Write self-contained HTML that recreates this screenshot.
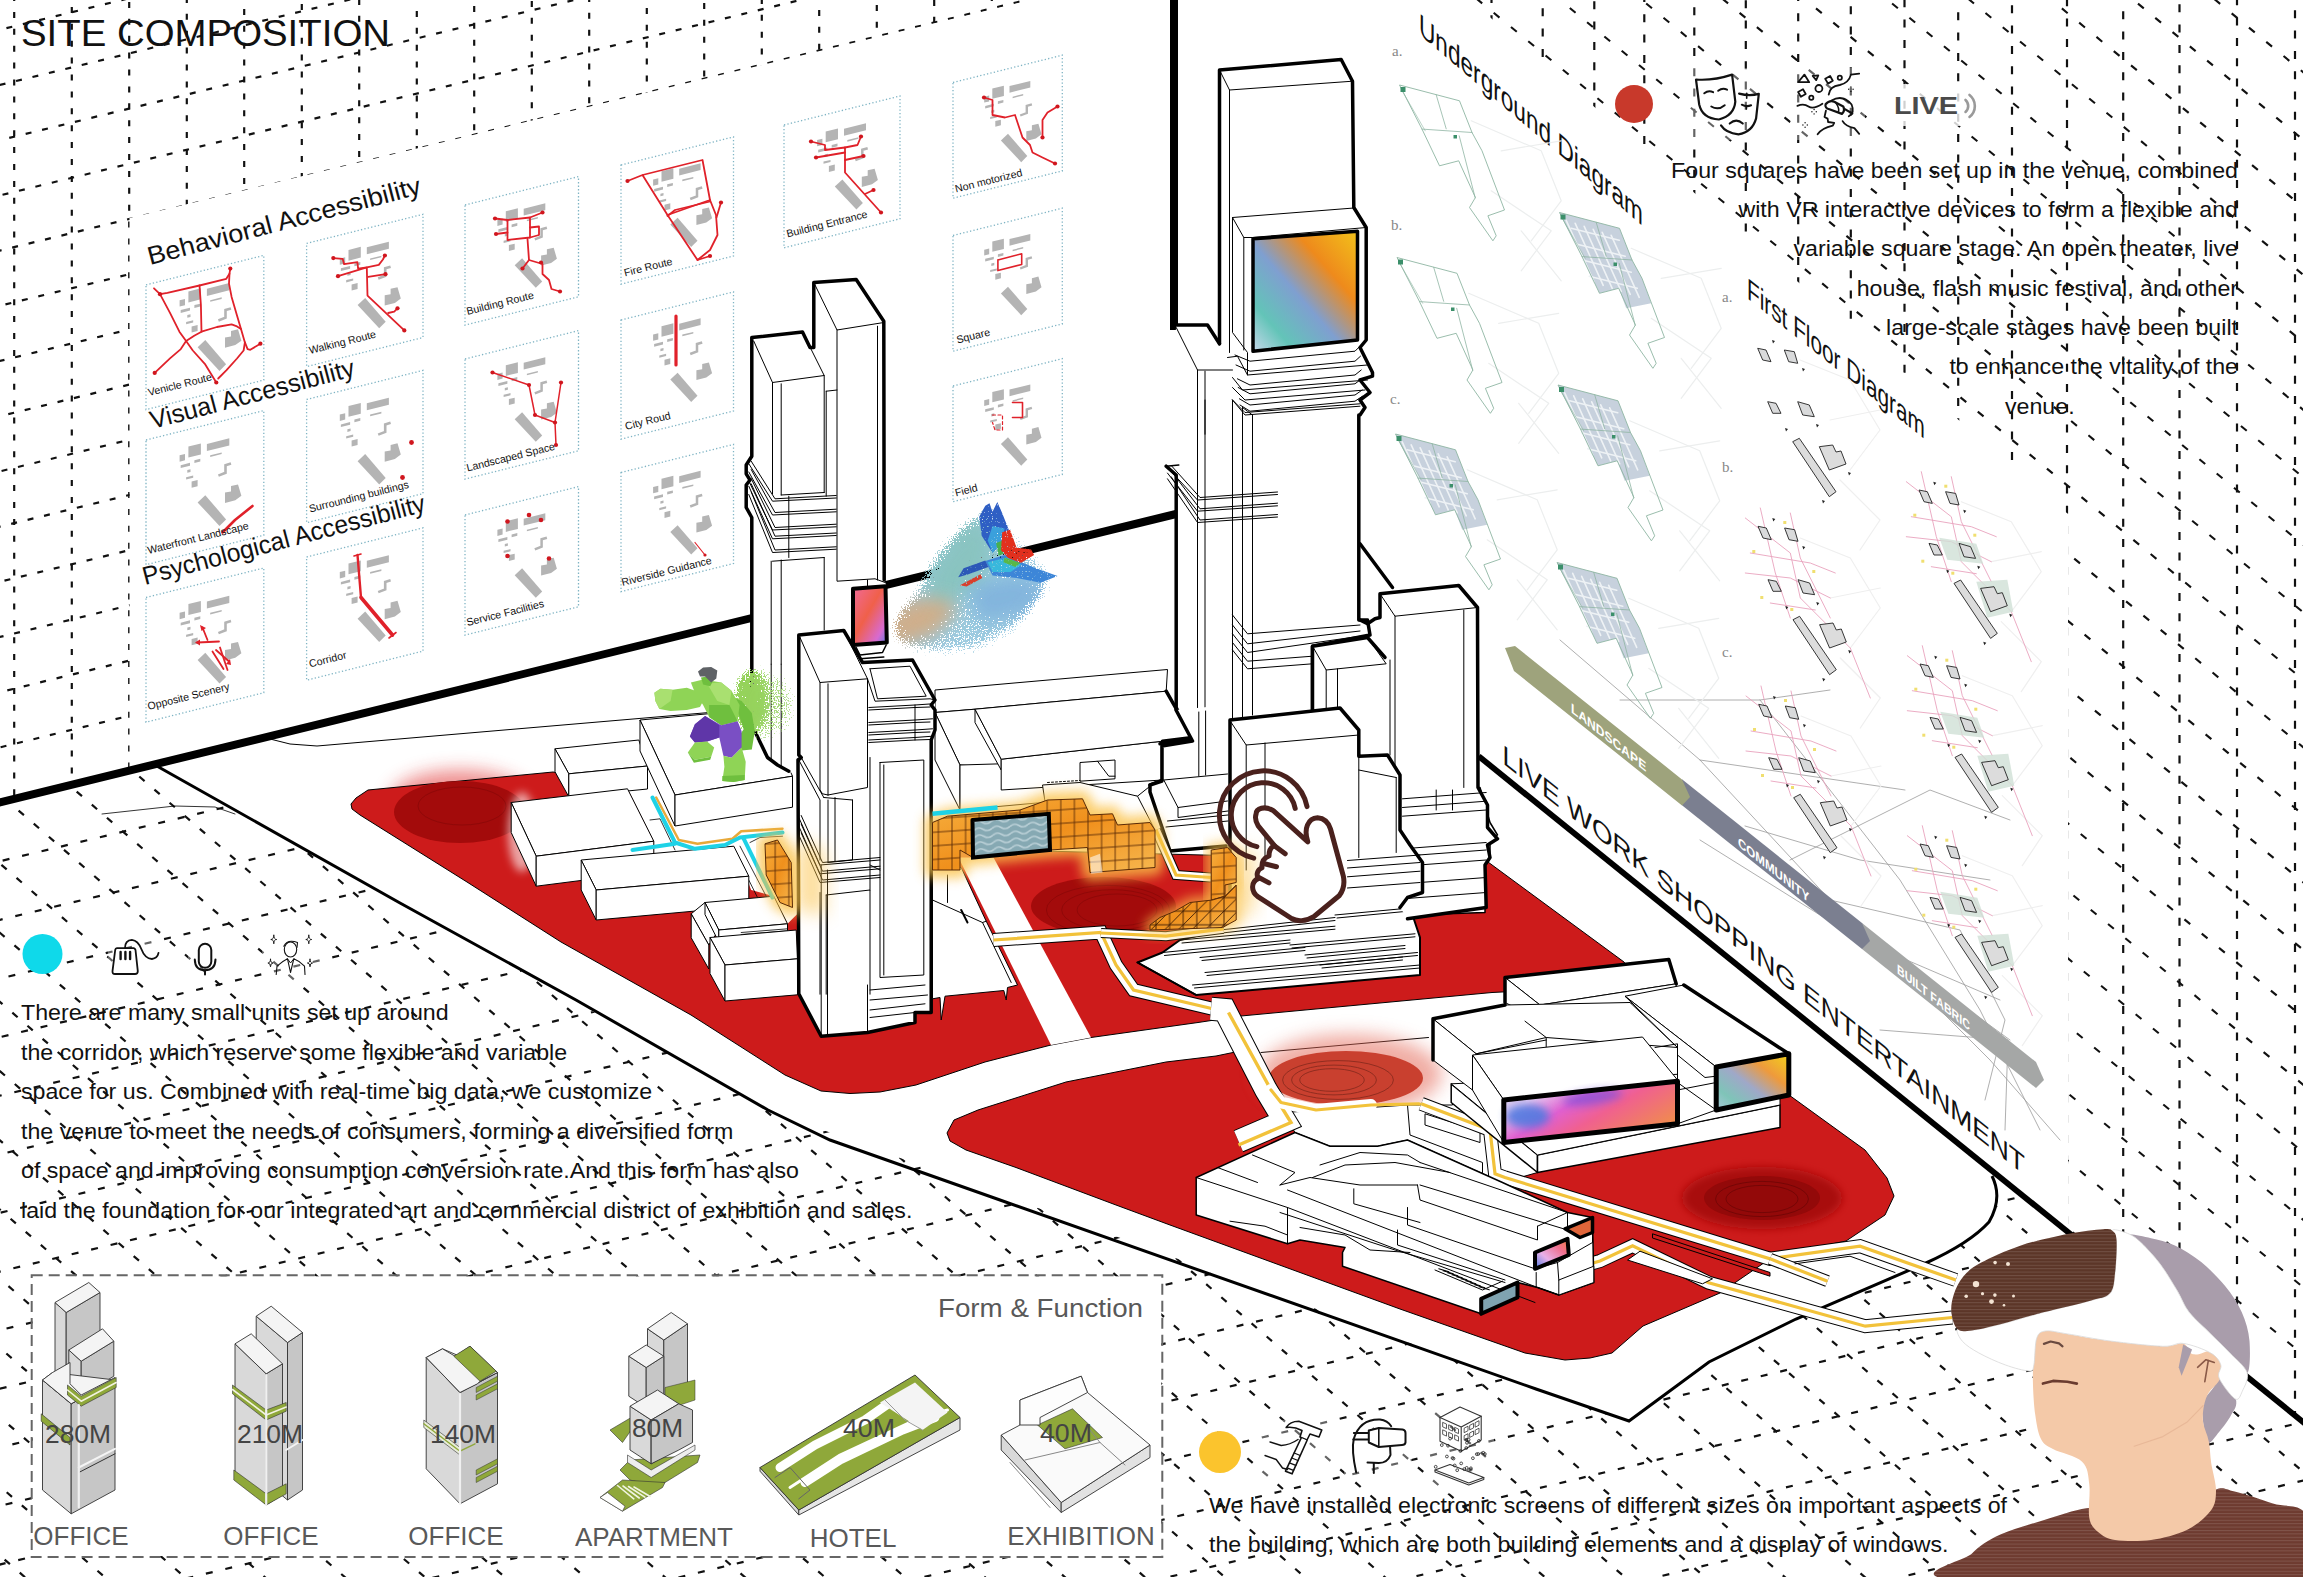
<!DOCTYPE html>
<html><head><meta charset="utf-8"><title>Site Composition</title>
<style>
html,body{margin:0;padding:0;background:#fff;}
body{width:2303px;height:1577px;overflow:hidden;}
svg{display:block;}
text{font-family:"Liberation Sans",sans-serif;}
</style></head><body>
<svg xmlns="http://www.w3.org/2000/svg" width="2303" height="1577" viewBox="0 0 2303 1577">
<rect width="2303" height="1577" fill="#fff"/>

<!-- 00_defs.svg -->
<defs>
<linearGradient id="gPink" x1="0" y1="0" x2="1" y2="1">
<stop offset="0" stop-color="#f06a9a"/><stop offset="0.45" stop-color="#f0604a"/><stop offset="0.8" stop-color="#d86ad0"/><stop offset="1" stop-color="#5b7be0"/></linearGradient>
<linearGradient id="gScrA" x1="1" y1="0" x2="0" y2="1">
<stop offset="0" stop-color="#f2c21a"/><stop offset="0.3" stop-color="#ee8a1c"/><stop offset="0.55" stop-color="#7f9fd0"/><stop offset="0.8" stop-color="#63c4b8"/><stop offset="1" stop-color="#c6d8ea"/></linearGradient>
<linearGradient id="gPink2" x1="0" y1="1" x2="1" y2="0">
<stop offset="0" stop-color="#4a78e0"/><stop offset="0.35" stop-color="#e8b0e8"/><stop offset="0.7" stop-color="#f07090"/><stop offset="1" stop-color="#f08040"/></linearGradient>
<linearGradient id="gScrB" x1="1" y1="0" x2="0" y2="1">
<stop offset="0" stop-color="#f2d21a"/><stop offset="0.3" stop-color="#ee9a3c"/><stop offset="0.55" stop-color="#9fa8c8"/><stop offset="0.8" stop-color="#7fc4b8"/><stop offset="1" stop-color="#a8c8d8"/></linearGradient>
<linearGradient id="gScrC" x1="0" y1="0" x2="1" y2="0.6">
<stop offset="0" stop-color="#c8d8f4"/><stop offset="0.25" stop-color="#e8c8f0"/><stop offset="0.45" stop-color="#e060d0"/><stop offset="0.65" stop-color="#f06090"/><stop offset="1" stop-color="#f08a50"/></linearGradient>
</defs>
<!-- 01_grid.svg -->
<defs>
<clipPath id="cLW"><polygon points="0,0 1030,0 129.5,218 129.5,772 0,804"/></clipPath>
<clipPath id="cRW"><polygon points="1470,0 2303,0 2303,1420 2068,1231 2068,514"/></clipPath>
<clipPath id="cFL"><polygon points="0,804 155,766 400,903 768,1110 1536,1389 1629,1421 1709,1362 1796,1319 1926,1263 1970,1241 1989,1222 1998,1196 1992,1176 2303,1424 2303,1577 0,1577"/></clipPath>
</defs>
<g clip-path="url(#cLW)" stroke="#111" stroke-width="2.2" stroke-dasharray="6 10.9" stroke-linecap="butt" fill="none">
<line x1="14.2" y1="-5" x2="14.2" y2="820" stroke-dashoffset="0"/>
<line x1="71.8" y1="-5" x2="71.8" y2="820" stroke-dashoffset="5"/>
<line x1="129.2" y1="-5" x2="129.2" y2="820" stroke-dashoffset="10"/>
<line x1="186.8" y1="-5" x2="186.8" y2="820" stroke-dashoffset="15"/>
<line x1="244.2" y1="-5" x2="244.2" y2="820" stroke-dashoffset="3"/>
<line x1="301.8" y1="-5" x2="301.8" y2="820" stroke-dashoffset="8"/>
<line x1="359.2" y1="-5" x2="359.2" y2="820" stroke-dashoffset="13"/>
<line x1="416.8" y1="-5" x2="416.8" y2="820" stroke-dashoffset="1"/>
<line x1="474.2" y1="-5" x2="474.2" y2="820" stroke-dashoffset="6"/>
<line x1="531.8" y1="-5" x2="531.8" y2="820" stroke-dashoffset="11"/>
<line x1="589.2" y1="-5" x2="589.2" y2="820" stroke-dashoffset="16"/>
<line x1="646.8" y1="-5" x2="646.8" y2="820" stroke-dashoffset="4"/>
<line x1="704.2" y1="-5" x2="704.2" y2="820" stroke-dashoffset="9"/>
<line x1="761.8" y1="-5" x2="761.8" y2="820" stroke-dashoffset="14"/>
<line x1="819.2" y1="-5" x2="819.2" y2="820" stroke-dashoffset="2"/>
<line x1="876.8" y1="-5" x2="876.8" y2="820" stroke-dashoffset="7"/>
<line x1="934.2" y1="-5" x2="934.2" y2="820" stroke-dashoffset="12"/>
<line x1="991.8" y1="-5" x2="991.8" y2="820" stroke-dashoffset="0"/>
<line x1="1049.2" y1="-5" x2="1049.2" y2="820" stroke-dashoffset="5"/>
<line x1="1106.8" y1="-5" x2="1106.8" y2="820" stroke-dashoffset="10"/>
<line x1="-10" y1="32.2" x2="1100" y2="-238.8" stroke-dashoffset="0"/>
<line x1="-10" y1="87.4" x2="1100" y2="-183.6" stroke-dashoffset="7"/>
<line x1="-10" y1="142.6" x2="1100" y2="-128.4" stroke-dashoffset="14"/>
<line x1="-10" y1="197.8" x2="1100" y2="-73.2" stroke-dashoffset="4"/>
<line x1="-10" y1="253.0" x2="1100" y2="-18.0" stroke-dashoffset="11"/>
<line x1="-10" y1="308.2" x2="1100" y2="37.2" stroke-dashoffset="1"/>
<line x1="-10" y1="363.4" x2="1100" y2="92.4" stroke-dashoffset="8"/>
<line x1="-10" y1="418.6" x2="1100" y2="147.6" stroke-dashoffset="15"/>
<line x1="-10" y1="473.8" x2="1100" y2="202.8" stroke-dashoffset="5"/>
<line x1="-10" y1="529.0" x2="1100" y2="258.0" stroke-dashoffset="12"/>
<line x1="-10" y1="584.2" x2="1100" y2="313.2" stroke-dashoffset="2"/>
<line x1="-10" y1="639.4" x2="1100" y2="368.4" stroke-dashoffset="9"/>
<line x1="-10" y1="694.6" x2="1100" y2="423.6" stroke-dashoffset="16"/>
<line x1="-10" y1="749.8" x2="1100" y2="478.8" stroke-dashoffset="6"/>
<line x1="-10" y1="805.0" x2="1100" y2="534.0" stroke-dashoffset="13"/>
<line x1="-10" y1="860.2" x2="1100" y2="589.2" stroke-dashoffset="3"/>
</g>
<g clip-path="url(#cRW)" fill="none">
<line x1="1491.5" y1="-5" x2="1491.5" y2="1500" stroke-dashoffset="0" stroke="#111" stroke-width="2.2" stroke-dasharray="8 12.3" stroke-linecap="butt" fill="none"/>
<line x1="1542.7" y1="-5" x2="1542.7" y2="1500" stroke-dashoffset="7" stroke="#111" stroke-width="2.2" stroke-dasharray="8 12.3" stroke-linecap="butt" fill="none"/>
<line x1="1594.3" y1="-5" x2="1594.3" y2="1500" stroke-dashoffset="14" stroke="#111" stroke-width="2.2" stroke-dasharray="8 12.3" stroke-linecap="butt" fill="none"/>
<line x1="1644.3" y1="-5" x2="1644.3" y2="1500" stroke-dashoffset="1" stroke="#111" stroke-width="2.2" stroke-dasharray="8 12.3" stroke-linecap="butt" fill="none"/>
<line x1="1694.3" y1="-5" x2="1694.3" y2="1500" stroke-dashoffset="8" stroke="#111" stroke-width="2.2" stroke-dasharray="8 12.3" stroke-linecap="butt" fill="none"/>
<line x1="1745.8" y1="-5" x2="1745.8" y2="1500" stroke-dashoffset="15" stroke="#111" stroke-width="2.2" stroke-dasharray="8 12.3" stroke-linecap="butt" fill="none"/>
<line x1="1798.2" y1="-5" x2="1798.2" y2="1500" stroke-dashoffset="2" stroke="#111" stroke-width="2.2" stroke-dasharray="8 12.3" stroke-linecap="butt" fill="none"/>
<line x1="1850.8" y1="-5" x2="1850.8" y2="1500" stroke-dashoffset="9" stroke="#111" stroke-width="2.2" stroke-dasharray="8 12.3" stroke-linecap="butt" fill="none"/>
<line x1="1904.5" y1="-5" x2="1904.5" y2="1500" stroke-dashoffset="16" stroke="#111" stroke-width="2.2" stroke-dasharray="8 12.3" stroke-linecap="butt" fill="none"/>
<line x1="1958.2" y1="-5" x2="1958.2" y2="1500" stroke-dashoffset="3" stroke="#111" stroke-width="2.2" stroke-dasharray="8 12.3" stroke-linecap="butt" fill="none"/>
<line x1="2012.0" y1="-5" x2="2012.0" y2="1500" stroke-dashoffset="10" stroke="#111" stroke-width="2.2" stroke-dasharray="8 12.3" stroke-linecap="butt" fill="none"/>
<line x1="2067.0" y1="-5" x2="2067.0" y2="1500" stroke-dashoffset="17" stroke="#111" stroke-width="2.2" stroke-dasharray="8 12.3" stroke-linecap="butt" fill="none"/>
<line x1="2123.2" y1="-5" x2="2123.2" y2="1500" stroke-dashoffset="4" stroke="#111" stroke-width="2.2" stroke-dasharray="8 12.3" stroke-linecap="butt" fill="none"/>
<line x1="2179.5" y1="-5" x2="2179.5" y2="1500" stroke-dashoffset="11" stroke="#111" stroke-width="2.2" stroke-dasharray="8 12.3" stroke-linecap="butt" fill="none"/>
<line x1="2237.0" y1="-5" x2="2237.0" y2="1500" stroke-dashoffset="18" stroke="#111" stroke-width="2.2" stroke-dasharray="8 12.3" stroke-linecap="butt" fill="none"/>
<line x1="2295.0" y1="-5" x2="2295.0" y2="1500" stroke-dashoffset="5" stroke="#111" stroke-width="2.2" stroke-dasharray="8 12.3" stroke-linecap="butt" fill="none"/>
<line x1="1400" y1="-2021.9" x2="2320" y2="-1263.9" stroke-dashoffset="16" stroke="#111" stroke-width="2.1" stroke-dasharray="7.5 14.9" stroke-linecap="butt" fill="none"/>
<line x1="1400" y1="-1954.4" x2="2320" y2="-1196.4" stroke-dashoffset="3" stroke="#111" stroke-width="2.1" stroke-dasharray="7.5 14.9" stroke-linecap="butt" fill="none"/>
<line x1="1400" y1="-1886.9" x2="2320" y2="-1128.9" stroke-dashoffset="12" stroke="#111" stroke-width="2.1" stroke-dasharray="7.5 14.9" stroke-linecap="butt" fill="none"/>
<line x1="1400" y1="-1819.4" x2="2320" y2="-1061.4" stroke-dashoffset="21" stroke="#111" stroke-width="2.1" stroke-dasharray="7.5 14.9" stroke-linecap="butt" fill="none"/>
<line x1="1400" y1="-1751.9" x2="2320" y2="-993.9" stroke-dashoffset="8" stroke="#111" stroke-width="2.1" stroke-dasharray="7.5 14.9" stroke-linecap="butt" fill="none"/>
<line x1="1400" y1="-1684.4" x2="2320" y2="-926.4" stroke-dashoffset="17" stroke="#111" stroke-width="2.1" stroke-dasharray="7.5 14.9" stroke-linecap="butt" fill="none"/>
<line x1="1400" y1="-1616.9" x2="2320" y2="-858.9" stroke-dashoffset="4" stroke="#111" stroke-width="2.1" stroke-dasharray="7.5 14.9" stroke-linecap="butt" fill="none"/>
<line x1="1400" y1="-1549.4" x2="2320" y2="-791.4" stroke-dashoffset="13" stroke="#111" stroke-width="2.1" stroke-dasharray="7.5 14.9" stroke-linecap="butt" fill="none"/>
<line x1="1400" y1="-1481.9" x2="2320" y2="-723.9" stroke-dashoffset="0" stroke="#111" stroke-width="2.1" stroke-dasharray="7.5 14.9" stroke-linecap="butt" fill="none"/>
<line x1="1400" y1="-1414.4" x2="2320" y2="-656.4" stroke-dashoffset="9" stroke="#111" stroke-width="2.1" stroke-dasharray="7.5 14.9" stroke-linecap="butt" fill="none"/>
<line x1="1400" y1="-1346.9" x2="2320" y2="-588.9" stroke-dashoffset="18" stroke="#111" stroke-width="2.1" stroke-dasharray="7.5 14.9" stroke-linecap="butt" fill="none"/>
<line x1="1400" y1="-1279.4" x2="2320" y2="-521.4" stroke-dashoffset="5" stroke="#111" stroke-width="2.1" stroke-dasharray="7.5 14.9" stroke-linecap="butt" fill="none"/>
<line x1="1400" y1="-1211.9" x2="2320" y2="-453.9" stroke-dashoffset="14" stroke="#111" stroke-width="2.1" stroke-dasharray="7.5 14.9" stroke-linecap="butt" fill="none"/>
<line x1="1400" y1="-1144.4" x2="2320" y2="-386.4" stroke-dashoffset="1" stroke="#111" stroke-width="2.1" stroke-dasharray="7.5 14.9" stroke-linecap="butt" fill="none"/>
<line x1="1400" y1="-1076.9" x2="2320" y2="-318.9" stroke-dashoffset="10" stroke="#111" stroke-width="2.1" stroke-dasharray="7.5 14.9" stroke-linecap="butt" fill="none"/>
<line x1="1400" y1="-1009.4" x2="2320" y2="-251.4" stroke-dashoffset="19" stroke="#111" stroke-width="2.1" stroke-dasharray="7.5 14.9" stroke-linecap="butt" fill="none"/>
<line x1="1400" y1="-941.9" x2="2320" y2="-183.9" stroke-dashoffset="6" stroke="#111" stroke-width="2.1" stroke-dasharray="7.5 14.9" stroke-linecap="butt" fill="none"/>
<line x1="1400" y1="-874.4" x2="2320" y2="-116.4" stroke-dashoffset="15" stroke="#111" stroke-width="2.1" stroke-dasharray="7.5 14.9" stroke-linecap="butt" fill="none"/>
<line x1="1400" y1="-806.9" x2="2320" y2="-48.9" stroke-dashoffset="2" stroke="#111" stroke-width="2.1" stroke-dasharray="7.5 14.9" stroke-linecap="butt" fill="none"/>
<line x1="1400" y1="-739.4" x2="2320" y2="18.6" stroke-dashoffset="11" stroke="#111" stroke-width="2.1" stroke-dasharray="7.5 14.9" stroke-linecap="butt" fill="none"/>
<line x1="1400" y1="-671.9" x2="2320" y2="86.1" stroke-dashoffset="20" stroke="#111" stroke-width="2.1" stroke-dasharray="7.5 14.9" stroke-linecap="butt" fill="none"/>
<line x1="1400" y1="-604.4" x2="2320" y2="153.6" stroke-dashoffset="7" stroke="#111" stroke-width="2.1" stroke-dasharray="7.5 14.9" stroke-linecap="butt" fill="none"/>
<line x1="1400" y1="-536.9" x2="2320" y2="221.1" stroke-dashoffset="16" stroke="#111" stroke-width="2.1" stroke-dasharray="7.5 14.9" stroke-linecap="butt" fill="none"/>
<line x1="1400" y1="-469.4" x2="2320" y2="288.6" stroke-dashoffset="3" stroke="#111" stroke-width="2.1" stroke-dasharray="7.5 14.9" stroke-linecap="butt" fill="none"/>
<line x1="1400" y1="-401.9" x2="2320" y2="356.1" stroke-dashoffset="12" stroke="#111" stroke-width="2.1" stroke-dasharray="7.5 14.9" stroke-linecap="butt" fill="none"/>
<line x1="1400" y1="-334.4" x2="2320" y2="423.6" stroke-dashoffset="21" stroke="#111" stroke-width="2.1" stroke-dasharray="7.5 14.9" stroke-linecap="butt" fill="none"/>
<line x1="1400" y1="-266.9" x2="2320" y2="491.1" stroke-dashoffset="8" stroke="#111" stroke-width="2.1" stroke-dasharray="7.5 14.9" stroke-linecap="butt" fill="none"/>
<line x1="1400" y1="-199.4" x2="2320" y2="558.6" stroke-dashoffset="17" stroke="#111" stroke-width="2.1" stroke-dasharray="7.5 14.9" stroke-linecap="butt" fill="none"/>
<line x1="1400" y1="-131.9" x2="2320" y2="626.1" stroke-dashoffset="4" stroke="#111" stroke-width="2.1" stroke-dasharray="7.5 14.9" stroke-linecap="butt" fill="none"/>
<line x1="1400" y1="-64.4" x2="2320" y2="693.6" stroke-dashoffset="13" stroke="#111" stroke-width="2.1" stroke-dasharray="7.5 14.9" stroke-linecap="butt" fill="none"/>
<line x1="1400" y1="3.1" x2="2320" y2="761.1" stroke-dashoffset="0" stroke="#111" stroke-width="2.1" stroke-dasharray="7.5 14.9" stroke-linecap="butt" fill="none"/>
<line x1="1400" y1="70.6" x2="2320" y2="828.6" stroke-dashoffset="9" stroke="#111" stroke-width="2.1" stroke-dasharray="7.5 14.9" stroke-linecap="butt" fill="none"/>
<line x1="1400" y1="138.1" x2="2320" y2="896.1" stroke-dashoffset="18" stroke="#111" stroke-width="2.1" stroke-dasharray="7.5 14.9" stroke-linecap="butt" fill="none"/>
<line x1="1400" y1="205.6" x2="2320" y2="963.6" stroke-dashoffset="5" stroke="#111" stroke-width="2.1" stroke-dasharray="7.5 14.9" stroke-linecap="butt" fill="none"/>
<line x1="1400" y1="273.1" x2="2320" y2="1031.1" stroke-dashoffset="14" stroke="#111" stroke-width="2.1" stroke-dasharray="7.5 14.9" stroke-linecap="butt" fill="none"/>
<line x1="1400" y1="340.6" x2="2320" y2="1098.6" stroke-dashoffset="1" stroke="#111" stroke-width="2.1" stroke-dasharray="7.5 14.9" stroke-linecap="butt" fill="none"/>
<line x1="1400" y1="408.1" x2="2320" y2="1166.1" stroke-dashoffset="10" stroke="#111" stroke-width="2.1" stroke-dasharray="7.5 14.9" stroke-linecap="butt" fill="none"/>
<line x1="1400" y1="475.6" x2="2320" y2="1233.6" stroke-dashoffset="19" stroke="#111" stroke-width="2.1" stroke-dasharray="7.5 14.9" stroke-linecap="butt" fill="none"/>
<line x1="1400" y1="543.1" x2="2320" y2="1301.1" stroke-dashoffset="6" stroke="#111" stroke-width="2.1" stroke-dasharray="7.5 14.9" stroke-linecap="butt" fill="none"/>
<line x1="1400" y1="610.6" x2="2320" y2="1368.6" stroke-dashoffset="15" stroke="#111" stroke-width="2.1" stroke-dasharray="7.5 14.9" stroke-linecap="butt" fill="none"/>
<line x1="1400" y1="678.1" x2="2320" y2="1436.1" stroke-dashoffset="2" stroke="#111" stroke-width="2.1" stroke-dasharray="7.5 14.9" stroke-linecap="butt" fill="none"/>
<line x1="1400" y1="745.6" x2="2320" y2="1503.6" stroke-dashoffset="11" stroke="#111" stroke-width="2.1" stroke-dasharray="7.5 14.9" stroke-linecap="butt" fill="none"/>
<line x1="1400" y1="813.1" x2="2320" y2="1571.1" stroke-dashoffset="20" stroke="#111" stroke-width="2.1" stroke-dasharray="7.5 14.9" stroke-linecap="butt" fill="none"/>
<line x1="1400" y1="880.6" x2="2320" y2="1638.6" stroke-dashoffset="7" stroke="#111" stroke-width="2.1" stroke-dasharray="7.5 14.9" stroke-linecap="butt" fill="none"/>
<line x1="1400" y1="948.1" x2="2320" y2="1706.1" stroke-dashoffset="16" stroke="#111" stroke-width="2.1" stroke-dasharray="7.5 14.9" stroke-linecap="butt" fill="none"/>
<line x1="1400" y1="1015.6" x2="2320" y2="1773.6" stroke-dashoffset="3" stroke="#111" stroke-width="2.1" stroke-dasharray="7.5 14.9" stroke-linecap="butt" fill="none"/>
<line x1="1400" y1="1083.1" x2="2320" y2="1841.1" stroke-dashoffset="12" stroke="#111" stroke-width="2.1" stroke-dasharray="7.5 14.9" stroke-linecap="butt" fill="none"/>
<line x1="1400" y1="1150.6" x2="2320" y2="1908.6" stroke-dashoffset="21" stroke="#111" stroke-width="2.1" stroke-dasharray="7.5 14.9" stroke-linecap="butt" fill="none"/>
<line x1="1400" y1="1218.1" x2="2320" y2="1976.1" stroke-dashoffset="8" stroke="#111" stroke-width="2.1" stroke-dasharray="7.5 14.9" stroke-linecap="butt" fill="none"/>
<line x1="1400" y1="1285.6" x2="2320" y2="2043.6" stroke-dashoffset="17" stroke="#111" stroke-width="2.1" stroke-dasharray="7.5 14.9" stroke-linecap="butt" fill="none"/>
<line x1="1400" y1="1353.1" x2="2320" y2="2111.1" stroke-dashoffset="4" stroke="#111" stroke-width="2.1" stroke-dasharray="7.5 14.9" stroke-linecap="butt" fill="none"/>
<line x1="1400" y1="1420.6" x2="2320" y2="2178.6" stroke-dashoffset="13" stroke="#111" stroke-width="2.1" stroke-dasharray="7.5 14.9" stroke-linecap="butt" fill="none"/>
</g>
<g clip-path="url(#cFL)" stroke="#111" stroke-width="2.2" stroke-dasharray="7 13" stroke-linecap="butt" fill="none">
<line x1="-10" y1="805.0" x2="2320" y2="245.9" stroke-dashoffset="0"/>
<line x1="-10" y1="863.6" x2="2320" y2="304.5" stroke-dashoffset="7"/>
<line x1="-10" y1="922.2" x2="2320" y2="363.1" stroke-dashoffset="14"/>
<line x1="-10" y1="980.9" x2="2320" y2="421.7" stroke-dashoffset="1"/>
<line x1="-10" y1="1039.5" x2="2320" y2="480.2" stroke-dashoffset="8"/>
<line x1="-10" y1="1098.1" x2="2320" y2="538.9" stroke-dashoffset="15"/>
<line x1="-10" y1="1156.7" x2="2320" y2="597.5" stroke-dashoffset="2"/>
<line x1="-10" y1="1215.2" x2="2320" y2="656.0" stroke-dashoffset="9"/>
<line x1="-10" y1="1273.9" x2="2320" y2="714.7" stroke-dashoffset="16"/>
<line x1="-10" y1="1332.5" x2="2320" y2="773.2" stroke-dashoffset="3"/>
<line x1="-10" y1="1391.1" x2="2320" y2="831.9" stroke-dashoffset="10"/>
<line x1="-10" y1="1449.7" x2="2320" y2="890.5" stroke-dashoffset="17"/>
<line x1="-10" y1="1508.2" x2="2320" y2="949.0" stroke-dashoffset="4"/>
<line x1="-10" y1="1566.9" x2="2320" y2="1007.7" stroke-dashoffset="11"/>
<line x1="-10" y1="1625.5" x2="2320" y2="1066.3" stroke-dashoffset="18"/>
<line x1="-10" y1="1684.1" x2="2320" y2="1124.9" stroke-dashoffset="5"/>
<line x1="-10" y1="1742.7" x2="2320" y2="1183.5" stroke-dashoffset="12"/>
<line x1="-10" y1="1801.2" x2="2320" y2="1242.0" stroke-dashoffset="19"/>
<line x1="-10" y1="1859.9" x2="2320" y2="1300.7" stroke-dashoffset="6"/>
<line x1="-10" y1="1918.5" x2="2320" y2="1359.2" stroke-dashoffset="13"/>
<line x1="-10" y1="1977.1" x2="2320" y2="1417.9" stroke-dashoffset="0"/>
<line x1="-10" y1="2035.7" x2="2320" y2="1476.5" stroke-dashoffset="7"/>
<line x1="-1789.2" y1="700" x2="-748.7" y2="1600" stroke-dashoffset="4"/>
<line x1="-1709.2" y1="700" x2="-668.7" y2="1600" stroke-dashoffset="7"/>
<line x1="-1629.2" y1="700" x2="-588.7" y2="1600" stroke-dashoffset="10"/>
<line x1="-1549.2" y1="700" x2="-508.7" y2="1600" stroke-dashoffset="13"/>
<line x1="-1469.2" y1="700" x2="-428.7" y2="1600" stroke-dashoffset="2"/>
<line x1="-1389.2" y1="700" x2="-348.7" y2="1600" stroke-dashoffset="5"/>
<line x1="-1309.2" y1="700" x2="-268.7" y2="1600" stroke-dashoffset="8"/>
<line x1="-1229.2" y1="700" x2="-188.7" y2="1600" stroke-dashoffset="11"/>
<line x1="-1149.2" y1="700" x2="-108.7" y2="1600" stroke-dashoffset="0"/>
<line x1="-1069.2" y1="700" x2="-28.7" y2="1600" stroke-dashoffset="3"/>
<line x1="-989.2" y1="700" x2="51.3" y2="1600" stroke-dashoffset="6"/>
<line x1="-909.2" y1="700" x2="131.3" y2="1600" stroke-dashoffset="9"/>
<line x1="-829.2" y1="700" x2="211.3" y2="1600" stroke-dashoffset="12"/>
<line x1="-749.2" y1="700" x2="291.3" y2="1600" stroke-dashoffset="1"/>
<line x1="-669.2" y1="700" x2="371.3" y2="1600" stroke-dashoffset="4"/>
<line x1="-589.2" y1="700" x2="451.3" y2="1600" stroke-dashoffset="7"/>
<line x1="-509.2" y1="700" x2="531.3" y2="1600" stroke-dashoffset="10"/>
<line x1="-429.2" y1="700" x2="611.3" y2="1600" stroke-dashoffset="13"/>
<line x1="-349.2" y1="700" x2="691.3" y2="1600" stroke-dashoffset="2"/>
<line x1="-269.2" y1="700" x2="771.3" y2="1600" stroke-dashoffset="5"/>
<line x1="-189.2" y1="700" x2="851.3" y2="1600" stroke-dashoffset="8"/>
<line x1="-109.2" y1="700" x2="931.3" y2="1600" stroke-dashoffset="11"/>
<line x1="-29.2" y1="700" x2="1011.3" y2="1600" stroke-dashoffset="0"/>
<line x1="50.8" y1="700" x2="1091.3" y2="1600" stroke-dashoffset="3"/>
<line x1="130.8" y1="700" x2="1171.3" y2="1600" stroke-dashoffset="6"/>
<line x1="210.8" y1="700" x2="1251.3" y2="1600" stroke-dashoffset="9"/>
<line x1="290.8" y1="700" x2="1331.3" y2="1600" stroke-dashoffset="12"/>
<line x1="370.8" y1="700" x2="1411.3" y2="1600" stroke-dashoffset="1"/>
<line x1="450.8" y1="700" x2="1491.3" y2="1600" stroke-dashoffset="4"/>
<line x1="530.8" y1="700" x2="1571.3" y2="1600" stroke-dashoffset="7"/>
<line x1="610.8" y1="700" x2="1651.3" y2="1600" stroke-dashoffset="10"/>
<line x1="690.8" y1="700" x2="1731.3" y2="1600" stroke-dashoffset="13"/>
<line x1="770.8" y1="700" x2="1811.3" y2="1600" stroke-dashoffset="2"/>
<line x1="850.8" y1="700" x2="1891.3" y2="1600" stroke-dashoffset="5"/>
<line x1="930.8" y1="700" x2="1971.3" y2="1600" stroke-dashoffset="8"/>
<line x1="1010.8" y1="700" x2="2051.3" y2="1600" stroke-dashoffset="11"/>
<line x1="1090.8" y1="700" x2="2131.3" y2="1600" stroke-dashoffset="0"/>
<line x1="1170.8" y1="700" x2="2211.3" y2="1600" stroke-dashoffset="3"/>
<line x1="1250.8" y1="700" x2="2291.3" y2="1600" stroke-dashoffset="6"/>
<line x1="1330.8" y1="700" x2="2371.3" y2="1600" stroke-dashoffset="9"/>
<line x1="1410.8" y1="700" x2="2451.3" y2="1600" stroke-dashoffset="12"/>
<line x1="1490.8" y1="700" x2="2531.3" y2="1600" stroke-dashoffset="1"/>
<line x1="1570.8" y1="700" x2="2611.3" y2="1600" stroke-dashoffset="4"/>
<line x1="1650.8" y1="700" x2="2691.3" y2="1600" stroke-dashoffset="7"/>
<line x1="1730.8" y1="700" x2="2771.3" y2="1600" stroke-dashoffset="10"/>
<line x1="1810.8" y1="700" x2="2851.3" y2="1600" stroke-dashoffset="13"/>
<line x1="1890.8" y1="700" x2="2931.3" y2="1600" stroke-dashoffset="2"/>
<line x1="1970.8" y1="700" x2="3011.3" y2="1600" stroke-dashoffset="5"/>
<line x1="2050.8" y1="700" x2="3091.3" y2="1600" stroke-dashoffset="8"/>
<line x1="2130.8" y1="700" x2="3171.3" y2="1600" stroke-dashoffset="11"/>
<line x1="2210.8" y1="700" x2="3251.3" y2="1600" stroke-dashoffset="0"/>
<line x1="2290.8" y1="700" x2="3331.3" y2="1600" stroke-dashoffset="3"/>
</g>
<g stroke="#000" fill="none" stroke-linecap="butt">
<line x1="-5" y1="803.5" x2="1176" y2="514" stroke-width="8"/>
<line x1="1174" y1="-5" x2="1174" y2="330" stroke-width="8"/>
<line x1="1478.75" y1="756.25" x2="2310" y2="1427.6" stroke-width="5.8"/>
</g>
<path d="M155,765 L400,903 L576,1000 L768,1110 L830,1140 L1000,1200 L1536,1389 L1629,1421 L1709,1362 L1796,1319 L1926,1263 Q1970,1243 1989,1222 Q2003,1198 1992,1176" stroke="#000" stroke-width="3" fill="none"/>
<!-- 02_red.svg -->
<defs>
<filter id="blur8" x="-50%" y="-50%" width="200%" height="200%"><feGaussianBlur stdDeviation="9"/></filter>
<filter id="blur4" x="-50%" y="-50%" width="200%" height="200%"><feGaussianBlur stdDeviation="4"/></filter>
<filter id="blur14" x="-50%" y="-50%" width="200%" height="200%"><feGaussianBlur stdDeviation="14"/></filter>
</defs>
<ellipse cx="460" cy="800" rx="70" ry="30" fill="#e03030" opacity="0.55" filter="url(#blur8)"/>
<polygon points="351.0,804.0 356.0,798.0 368.0,790.0 553.0,772.0 1000.0,850.0 1488.0,862.0 1624.0,962.0 1640.0,985.0 1492.0,992.5 1241.0,1016.0 1198.0,1022.5 1091.0,1037.5 1051.0,1045.0 985.0,1062.0 916.0,1085.0 880.0,1092.0 850.0,1093.5 821.0,1091.0 785.0,1075.0 691.0,1015.0 561.0,942.0 467.0,882.0 360.0,815.0 352.0,809.0" fill="#cd1b1b" stroke="#000" stroke-width="1" stroke-linejoin="round"/>
<polygon points="947.0,1133.0 954.0,1120.0 978.0,1110.0 1066.0,1082.0 1166.0,1062.0 1216.0,1056.0 1245.0,1050.0 1271.0,1090.0 1296.0,1132.0 1470.0,1150.0 1500.0,1130.0 1520.0,1100.0 1789.0,1095.0 1865.0,1150.0 1887.0,1178.0 1894.0,1196.0 1885.0,1215.0 1846.0,1241.0 1774.0,1256.0 1720.0,1293.0 1643.0,1326.0 1612.0,1353.0 1590.0,1358.0 1565.0,1360.0 1525.0,1353.0 1400.0,1309.0 1170.0,1225.0 1116.0,1205.0 1016.0,1167.5 966.0,1150.0 950.0,1141.0" fill="#cd1b1b" stroke="#000" stroke-width="1" stroke-linejoin="round"/>
<ellipse cx="460" cy="812" rx="66" ry="31" fill="#a30b0b"/>
<ellipse cx="462" cy="806" rx="44" ry="19" fill="none" stroke="#8f0808" stroke-width="1"/>
<ellipse cx="1103.5" cy="906" rx="72.5" ry="29" fill="#a30b0b"/>
<ellipse cx="1108.0" cy="910" rx="61.6" ry="24.6" fill="none" stroke="#8a0707" stroke-width="0.8"/>
<ellipse cx="1112.5" cy="910" rx="50.8" ry="20.3" fill="none" stroke="#8a0707" stroke-width="0.8"/>
<ellipse cx="1117.0" cy="910" rx="39.9" ry="16.0" fill="none" stroke="#8a0707" stroke-width="0.8"/>
<ellipse cx="1762" cy="1198" rx="80" ry="31" fill="#a80d0d" filter="url(#blur4)"/>
<ellipse cx="1762" cy="1198" rx="58" ry="22" fill="#930909"/>
<ellipse cx="1762" cy="1199" rx="46.4" ry="17.6" fill="none" stroke="#6d0505" stroke-width="0.8"/>
<ellipse cx="1762" cy="1199" rx="36.0" ry="13.6" fill="none" stroke="#6d0505" stroke-width="0.8"/>
<!-- 03_bldgA.svg -->
<polyline points="270.0,739.0 290.0,744.0 317.0,746.0 707.0,712.7 760.0,708.0" fill="none" stroke="#000" stroke-width="1" stroke-linejoin="round" stroke-linecap="round" />
<polyline points="102.0,814.0 175.0,806.0 215.0,807.0 235.0,814.0" fill="none" stroke="#000" stroke-width="0.8" stroke-linejoin="round" stroke-linecap="round" />
<polygon points="935.0,690.0 1167.5,669.5 1166.2,691.2 975.0,709.2 935.0,712.5" fill="#fff" stroke="#000" stroke-width="1" stroke-linejoin="round" />
<polygon points="935.0,712.5 975.0,709.2 1001.2,767.5 960.0,765.0" fill="#fff" stroke="#000" stroke-width="1" stroke-linejoin="round" />
<polygon points="935.0,712.5 960.0,765.0 960.0,810.0 935.0,760.0" fill="#fff" stroke="#000" stroke-width="1" stroke-linejoin="round" />
<polygon points="960.0,765.0 1001.2,763.8 1162.5,750.0 1162.5,780.0 1150.0,786.2 1137.5,796.2 1042.5,802.5 960.0,810.0" fill="#fff" stroke="#000" stroke-width="1" stroke-linejoin="round" />
<polygon points="975.0,709.2 1001.2,759.2 1001.2,770.0 975.0,722.5" fill="#fff" stroke="#000" stroke-width="1" stroke-linejoin="round" />
<polygon points="1001.2,759.2 1162.5,741.2 1162.5,780.0 1001.2,790.0" fill="#fff" stroke="#000" stroke-width="1" stroke-linejoin="round" />
<polygon points="975.0,709.2 1166.2,691.2 1192.5,737.5 1162.5,741.2 1001.2,759.2" fill="#fff" stroke="#000" stroke-width="1" stroke-linejoin="round" />
<polyline points="1166.2,691.2 1192.5,737.5 1162.5,741.2 1162.5,780.0 1150.0,785.0 1152.5,792.5" fill="none" stroke="#000" stroke-width="3.5" stroke-linejoin="round" stroke-linecap="round" />
<polygon points="1080.0,762.5 1115.0,760.0 1115.0,778.8 1080.0,781.2" fill="#fff" stroke="#000" stroke-width="1" stroke-linejoin="round" />
<polyline points="1097.5,761.2 1108.8,776.2 1115.0,776.2" fill="none" stroke="#000" stroke-width="1" stroke-linejoin="round" stroke-linecap="round" />
<polygon points="1042.5,785.0 1080.0,782.5 1137.5,796.2 1155.0,830.0 1050.0,835.0" fill="#fff" stroke="#000" stroke-width="1" stroke-linejoin="round" />
<polyline points="1047.5,782.5 1080.0,780.5" fill="none" stroke="#000" stroke-width="1" stroke-linejoin="round" stroke-linecap="round" stroke-dasharray="2 2"/>
<polygon points="627.5,788.8 640.0,765.0 650.0,766.2 675.0,795.0 675.0,815.0 798.8,802.5 798.8,912.5 787.5,923.8 773.8,896.2 751.2,890.0 733.8,846.2 653.8,855.0 653.8,841.2" fill="#fff" stroke="#000" stroke-width="0" stroke-linejoin="round" stroke-opacity="0"/>
<polyline points="650.0,820.0 660.0,818.8 675.0,850.0" fill="none" stroke="#000" stroke-width="0.8" stroke-linejoin="round" stroke-linecap="round" />
<polyline points="733.8,850.0 760.0,902.5" fill="none" stroke="#000" stroke-width="0.8" stroke-linejoin="round" stroke-linecap="round" />
<polyline points="740.0,846.2 768.8,901.2" fill="none" stroke="#000" stroke-width="0.8" stroke-linejoin="round" stroke-linecap="round" />
<polyline points="750.0,842.5 760.0,837.5 782.5,836.2" fill="none" stroke="#000" stroke-width="0.8" stroke-linejoin="round" stroke-linecap="round" />
<polygon points="555.0,748.8 638.8,740.0 647.5,766.0 568.8,773.8" fill="#fff" stroke="#000" stroke-width="1" stroke-linejoin="round" />
<polygon points="555.0,748.8 568.8,773.8 568.8,796.8 555.0,771.8" fill="#fff" stroke="#000" stroke-width="1" stroke-linejoin="round" />
<polygon points="568.8,773.8 647.5,766.0 647.5,789.0 568.8,796.8" fill="#fff" stroke="#000" stroke-width="1" stroke-linejoin="round" />
<polygon points="640.0,720.0 762.5,708.8 792.5,776.2 675.0,795.0" fill="#fff" stroke="#000" stroke-width="1" stroke-linejoin="round" />
<polygon points="640.0,720.0 675.0,795.0 675.0,826.0 640.0,751.0" fill="#fff" stroke="#000" stroke-width="1" stroke-linejoin="round" />
<polygon points="675.0,795.0 792.5,776.2 792.5,807.2 675.0,826.0" fill="#fff" stroke="#000" stroke-width="1" stroke-linejoin="round" />
<ellipse cx="522" cy="832" rx="14" ry="40" fill="#fff" opacity="0.6" filter="url(#blur4)"/>
<polygon points="511.2,802.5 627.5,788.8 653.8,841.2 536.2,856.2" fill="#fff" stroke="#000" stroke-width="1" stroke-linejoin="round" />
<polygon points="511.2,802.5 536.2,856.2 536.2,886.2 511.2,832.5" fill="#fff" stroke="#000" stroke-width="1" stroke-linejoin="round" />
<polygon points="536.2,856.2 653.8,841.2 653.8,871.2 536.2,886.2" fill="#fff" stroke="#000" stroke-width="1" stroke-linejoin="round" />
<polygon points="581.2,860.0 733.8,846.2 748.8,876.2 596.2,890.0" fill="#fff" stroke="#000" stroke-width="1" stroke-linejoin="round" />
<polygon points="581.2,860.0 596.2,890.0 596.2,920.0 581.2,890.0" fill="#fff" stroke="#000" stroke-width="1" stroke-linejoin="round" />
<polygon points="596.2,890.0 748.8,876.2 748.8,906.2 596.2,920.0" fill="#fff" stroke="#000" stroke-width="1" stroke-linejoin="round" />
<polygon points="691.2,913.8 705.0,902.5 718.8,930.0 708.8,945.0" fill="#fff" stroke="#000" stroke-width="1" stroke-linejoin="round" />
<polygon points="691.2,913.8 708.8,945.0 708.8,969.0 691.2,937.8" fill="#fff" stroke="#000" stroke-width="1" stroke-linejoin="round" />
<polygon points="705.0,902.5 773.8,896.2 787.5,923.8 718.8,930.0" fill="#fff" stroke="#000" stroke-width="1" stroke-linejoin="round" />
<polygon points="705.0,902.5 718.8,930.0 718.8,942.0 705.0,914.5" fill="#fff" stroke="#000" stroke-width="1" stroke-linejoin="round" />
<polygon points="718.8,930.0 787.5,923.8 787.5,935.8 718.8,942.0" fill="#fff" stroke="#000" stroke-width="1" stroke-linejoin="round" />
<polyline points="741.2,932.5 787.5,928.8" fill="none" stroke="#000" stroke-width="0.8" stroke-linejoin="round" stroke-linecap="round" />
<polyline points="741.2,934.5 787.5,930.8" fill="none" stroke="#000" stroke-width="0.8" stroke-linejoin="round" stroke-linecap="round" />
<polygon points="710.0,937.5 796.2,930.0 797.5,958.8 725.0,965.0" fill="#fff" stroke="#000" stroke-width="1" stroke-linejoin="round" />
<polygon points="710.0,937.5 725.0,965.0 725.0,1001.0 710.0,973.5" fill="#fff" stroke="#000" stroke-width="1" stroke-linejoin="round" />
<polygon points="725.0,965.0 797.5,958.8 797.5,994.8 725.0,1001.0" fill="#fff" stroke="#000" stroke-width="1" stroke-linejoin="round" />
<polyline points="656.2,797.5 678.8,840.0 697.5,843.8 732.5,838.8 741.2,831.2 782.5,828.8" fill="none" stroke="#e8a93a" stroke-width="2.5" stroke-linejoin="round" stroke-linecap="round" />
<polyline points="652.5,797.5 675.0,842.5 695.0,848.8 725.0,845.0 740.0,837.5 782.5,832.5" fill="none" stroke="#1ed2e6" stroke-width="4" stroke-linejoin="round" stroke-linecap="round" />
<polyline points="632.5,850.0 675.0,843.8" fill="none" stroke="#1ed2e6" stroke-width="4" stroke-linejoin="round" stroke-linecap="round" />
<polyline points="743.8,838.8 772.5,897.5" fill="none" stroke="#1ed2e6" stroke-width="4" stroke-linejoin="round" stroke-linecap="round" />
<!-- 04_towersBC.svg -->
<polygon points="751.8,337.5 802.5,332.0 810.0,347.5 813.8,347.5 813.8,282.5 856.2,279.5 883.8,321.2 884.2,580.0 886.2,585.0 886.2,645.0 853.0,647.5 853.0,772.5 788.8,772.5 777.5,765.0 767.5,757.5 751.8,725.0" fill="#fff" stroke="#000" stroke-width="0" stroke-linejoin="round" />
<polyline points="771.2,664.2 771.2,760.0" fill="none" stroke="#000" stroke-width="1" stroke-linejoin="round" stroke-linecap="round" />
<polyline points="781.2,664.2 781.2,767.5" fill="none" stroke="#000" stroke-width="1" stroke-linejoin="round" stroke-linecap="round" />
<polyline points="753.8,341.2 772.5,382.5 824.2,375.5 802.5,332.0" fill="none" stroke="#000" stroke-width="1" stroke-linejoin="round" stroke-linecap="round" />
<polyline points="772.5,382.5 772.5,493.8" fill="none" stroke="#000" stroke-width="1" stroke-linejoin="round" stroke-linecap="round" />
<polyline points="781.2,383.8 781.2,495.0" fill="none" stroke="#000" stroke-width="1" stroke-linejoin="round" stroke-linecap="round" />
<polyline points="824.2,375.5 824.2,492.5" fill="none" stroke="#000" stroke-width="1" stroke-linejoin="round" stroke-linecap="round" />
<polyline points="781.2,495.0 824.2,492.5" fill="none" stroke="#000" stroke-width="1" stroke-linejoin="round" stroke-linecap="round" />
<polyline points="826.2,391.2 826.2,496.2" fill="none" stroke="#000" stroke-width="1" stroke-linejoin="round" stroke-linecap="round" />
<polyline points="826.2,391.2 837.0,390.0" fill="none" stroke="#000" stroke-width="1" stroke-linejoin="round" stroke-linecap="round" />
<polyline points="813.8,282.5 837.0,330.0 883.8,322.5" fill="none" stroke="#000" stroke-width="1" stroke-linejoin="round" stroke-linecap="round" />
<polyline points="837.0,330.0 837.0,581.2 875.0,578.8 885.0,582.5" fill="none" stroke="#000" stroke-width="1" stroke-linejoin="round" stroke-linecap="round" />
<polyline points="877.5,326.2 877.5,580.0" fill="none" stroke="#000" stroke-width="1" stroke-linejoin="round" stroke-linecap="round" />
<polyline points="867.5,580.0 867.5,588.8" fill="none" stroke="#000" stroke-width="1" stroke-linejoin="round" stroke-linecap="round" />
<polyline points="748.8,463.8 772.5,501.2 836.2,498.0" fill="none" stroke="#000" stroke-width="1" stroke-linejoin="round" stroke-linecap="round" />
<polyline points="751.2,461.2 775.0,498.8 836.2,495.5" fill="none" stroke="#000" stroke-width="1" stroke-linejoin="round" stroke-linecap="round" />
<polyline points="748.8,472.0 772.5,515.0 836.2,511.8" fill="none" stroke="#000" stroke-width="1" stroke-linejoin="round" stroke-linecap="round" />
<polyline points="751.2,469.5 775.0,512.5 836.2,509.2" fill="none" stroke="#000" stroke-width="1" stroke-linejoin="round" stroke-linecap="round" />
<polyline points="748.8,481.0 772.5,530.0 836.2,526.8" fill="none" stroke="#000" stroke-width="1" stroke-linejoin="round" stroke-linecap="round" />
<polyline points="751.2,478.5 775.0,527.5 836.2,524.2" fill="none" stroke="#000" stroke-width="1" stroke-linejoin="round" stroke-linecap="round" />
<polyline points="748.8,486.2 772.5,538.8 836.2,535.5" fill="none" stroke="#000" stroke-width="1" stroke-linejoin="round" stroke-linecap="round" />
<polyline points="751.2,483.8 775.0,536.2 836.2,533.0" fill="none" stroke="#000" stroke-width="1" stroke-linejoin="round" stroke-linecap="round" />
<polyline points="748.8,494.5 772.5,552.5 836.2,549.2" fill="none" stroke="#000" stroke-width="1" stroke-linejoin="round" stroke-linecap="round" />
<polyline points="751.2,492.0 775.0,550.0 836.2,546.8" fill="none" stroke="#000" stroke-width="1" stroke-linejoin="round" stroke-linecap="round" />
<polyline points="788.8,496.2 788.8,557.5" fill="none" stroke="#000" stroke-width="1" stroke-linejoin="round" stroke-linecap="round" />
<polyline points="771.2,561.2 771.2,664.2" fill="none" stroke="#000" stroke-width="1" stroke-linejoin="round" stroke-linecap="round" />
<polyline points="781.2,560.0 781.2,664.2" fill="none" stroke="#000" stroke-width="1" stroke-linejoin="round" stroke-linecap="round" />
<polyline points="824.2,557.5 824.2,630.0" fill="none" stroke="#000" stroke-width="1" stroke-linejoin="round" stroke-linecap="round" />
<polyline points="772.5,561.2 824.2,557.5" fill="none" stroke="#000" stroke-width="1" stroke-linejoin="round" stroke-linecap="round" />
<polyline points="788.8,771.2 777.5,765.0 767.5,757.5 751.8,725.0 751.8,517.5 746.2,507.5 746.2,485.0 750.0,480.0 746.2,473.8 746.2,465.0 751.8,456.2 751.8,337.5 802.5,332.0 810.0,347.5 813.8,347.5 813.8,282.5 856.2,279.5 883.8,321.2 884.2,580.0" fill="none" stroke="#000" stroke-width="3.5" stroke-linejoin="round" stroke-linecap="round" />
<polygon points="853.0,588.8 885.5,586.2 886.8,642.5 853.0,645.0" fill="url(#gPink)" stroke="#000" stroke-width="0" stroke-linejoin="round" />
<polyline points="853.0,588.8 885.5,586.2 886.8,642.5 853.0,645.0 853.0,588.8" fill="none" stroke="#000" stroke-width="4" stroke-linejoin="round" stroke-linecap="round" />
<polyline points="856.2,647.5 860.0,655.0 882.5,652.5 886.2,645.0" fill="none" stroke="#000" stroke-width="1.5" stroke-linejoin="round" stroke-linecap="round" />
<polyline points="860.0,658.8 883.8,657.0" fill="none" stroke="#000" stroke-width="1.5" stroke-linejoin="round" stroke-linecap="round" />
<polygon points="798.8,635.0 843.8,630.5 862.5,662.5 912.5,660.0 935.0,700.0 935.0,730.0 931.2,740.0 931.2,1012.5 915.0,1012.5 915.0,1022.5 867.5,1032.5 821.2,1036.2 798.8,993.8" fill="#fff" stroke="#000" stroke-width="0" stroke-linejoin="round" />
<polyline points="800.0,637.5 820.0,682.5 867.5,678.8 843.8,630.5" fill="none" stroke="#000" stroke-width="1" stroke-linejoin="round" stroke-linecap="round" />
<polyline points="820.0,682.5 820.0,790.0" fill="none" stroke="#000" stroke-width="1" stroke-linejoin="round" stroke-linecap="round" />
<polyline points="828.0,683.8 828.0,795.0" fill="none" stroke="#000" stroke-width="1" stroke-linejoin="round" stroke-linecap="round" />
<polyline points="867.5,678.8 867.5,787.5 828.0,795.0" fill="none" stroke="#000" stroke-width="1" stroke-linejoin="round" stroke-linecap="round" />
<polyline points="820.0,790.0 822.5,793.8 828.0,795.0" fill="none" stroke="#000" stroke-width="1" stroke-linejoin="round" stroke-linecap="round" />
<polyline points="798.8,760.0 820.0,800.0 820.0,860.0" fill="none" stroke="#000" stroke-width="1" stroke-linejoin="round" stroke-linecap="round" />
<polyline points="801.2,757.5 823.8,797.5" fill="none" stroke="#000" stroke-width="1" stroke-linejoin="round" stroke-linecap="round" />
<polyline points="828.0,800.0 828.0,862.5" fill="none" stroke="#000" stroke-width="1" stroke-linejoin="round" stroke-linecap="round" />
<polyline points="835.0,797.5 835.0,861.2" fill="none" stroke="#000" stroke-width="1" stroke-linejoin="round" stroke-linecap="round" />
<polyline points="852.5,800.0 852.5,860.0 828.0,862.5" fill="none" stroke="#000" stroke-width="1" stroke-linejoin="round" stroke-linecap="round" />
<polyline points="823.8,797.5 852.5,800.0" fill="none" stroke="#000" stroke-width="1" stroke-linejoin="round" stroke-linecap="round" />
<polyline points="798.8,817.5 820.0,865.0 880.0,860.0" fill="none" stroke="#000" stroke-width="1" stroke-linejoin="round" stroke-linecap="round" />
<polyline points="801.2,815.5 822.5,862.5 880.0,857.5" fill="none" stroke="#000" stroke-width="1" stroke-linejoin="round" stroke-linecap="round" />
<polyline points="798.8,826.2 820.0,873.8 880.0,868.8" fill="none" stroke="#000" stroke-width="1" stroke-linejoin="round" stroke-linecap="round" />
<polyline points="801.2,824.2 822.5,871.2 880.0,866.2" fill="none" stroke="#000" stroke-width="1" stroke-linejoin="round" stroke-linecap="round" />
<polyline points="798.8,835.0 820.0,882.5 880.0,877.5" fill="none" stroke="#000" stroke-width="1" stroke-linejoin="round" stroke-linecap="round" />
<polyline points="801.2,833.0 822.5,880.0 880.0,875.0" fill="none" stroke="#000" stroke-width="1" stroke-linejoin="round" stroke-linecap="round" />
<polyline points="870.0,865.0 880.0,870.0" fill="none" stroke="#000" stroke-width="1" stroke-linejoin="round" stroke-linecap="round" />
<polyline points="820.0,892.5 820.0,994.2" fill="none" stroke="#000" stroke-width="1" stroke-linejoin="round" stroke-linecap="round" />
<polyline points="826.2,895.0 826.2,994.2" fill="none" stroke="#000" stroke-width="1" stroke-linejoin="round" stroke-linecap="round" />
<polyline points="826.2,895.0 870.0,890.0 870.0,994.2" fill="none" stroke="#000" stroke-width="1" stroke-linejoin="round" stroke-linecap="round" />
<polyline points="867.5,678.8 875.0,701.2 930.0,698.8 935.0,700.0" fill="none" stroke="#000" stroke-width="1" stroke-linejoin="round" stroke-linecap="round" />
<polyline points="870.0,668.8 910.0,666.2 926.2,696.2 877.5,698.8 870.0,668.8" fill="none" stroke="#000" stroke-width="1" stroke-linejoin="round" stroke-linecap="round" />
<polyline points="868.8,707.5 915.0,705.0 932.5,703.8" fill="none" stroke="#000" stroke-width="1" stroke-linejoin="round" stroke-linecap="round" />
<polyline points="868.8,710.0 915.0,707.5 930.0,707.0" fill="none" stroke="#000" stroke-width="1" stroke-linejoin="round" stroke-linecap="round" />
<polyline points="868.8,722.5 915.0,720.0 932.5,718.8" fill="none" stroke="#000" stroke-width="1" stroke-linejoin="round" stroke-linecap="round" />
<polyline points="868.8,725.0 915.0,722.5 930.0,722.0" fill="none" stroke="#000" stroke-width="1" stroke-linejoin="round" stroke-linecap="round" />
<polyline points="868.8,732.5 915.0,730.0 932.5,728.8" fill="none" stroke="#000" stroke-width="1" stroke-linejoin="round" stroke-linecap="round" />
<polyline points="868.8,735.0 915.0,732.5 930.0,732.0" fill="none" stroke="#000" stroke-width="1" stroke-linejoin="round" stroke-linecap="round" />
<polyline points="868.8,740.0 915.0,737.5 932.5,736.2" fill="none" stroke="#000" stroke-width="1" stroke-linejoin="round" stroke-linecap="round" />
<polyline points="868.8,742.5 915.0,740.0 930.0,739.5" fill="none" stroke="#000" stroke-width="1" stroke-linejoin="round" stroke-linecap="round" />
<polyline points="915.0,705.0 915.0,740.0" fill="none" stroke="#000" stroke-width="1" stroke-linejoin="round" stroke-linecap="round" />
<polyline points="870.0,757.5 870.0,890.0" fill="none" stroke="#000" stroke-width="1" stroke-linejoin="round" stroke-linecap="round" />
<polyline points="880.0,762.5 923.8,760.0 923.8,975.0 880.0,977.5 880.0,762.5" fill="none" stroke="#000" stroke-width="1" stroke-linejoin="round" stroke-linecap="round" />
<polyline points="883.8,765.0 883.8,975.0" fill="none" stroke="#000" stroke-width="1" stroke-linejoin="round" stroke-linecap="round" />
<polyline points="870.0,990.0 925.0,985.0" fill="none" stroke="#000" stroke-width="1" stroke-linejoin="round" stroke-linecap="round" />
<polyline points="870.0,1000.0 927.5,995.0" fill="none" stroke="#000" stroke-width="1" stroke-linejoin="round" stroke-linecap="round" />
<polyline points="870.0,1010.0 925.0,1003.8" fill="none" stroke="#000" stroke-width="1" stroke-linejoin="round" stroke-linecap="round" />
<polyline points="870.0,1017.5 915.0,1012.5" fill="none" stroke="#000" stroke-width="1" stroke-linejoin="round" stroke-linecap="round" />
<polyline points="867.5,985.0 867.5,1032.5" fill="none" stroke="#000" stroke-width="1" stroke-linejoin="round" stroke-linecap="round" />
<polyline points="821.2,865.0 821.2,1036.2" fill="none" stroke="#000" stroke-width="1" stroke-linejoin="round" stroke-linecap="round" />
<polyline points="827.5,870.0 827.5,1035.0" fill="none" stroke="#000" stroke-width="1" stroke-linejoin="round" stroke-linecap="round" />
<polyline points="931.2,1012.5 915.0,1012.5 915.0,1022.5 867.5,1032.5 821.2,1036.2 798.8,993.8 798.0,760.0 801.2,757.5 798.8,755.0 798.8,635.0 843.8,630.5 862.5,662.5 912.5,660.0 935.0,700.0 931.2,705.0 935.0,710.0 935.0,730.0 931.2,740.0 931.2,1012.5" fill="none" stroke="#000" stroke-width="3.5" stroke-linejoin="round" stroke-linecap="round" />
<!-- 05_towerA.svg -->
<polygon points="1137.5,962.5 1162.5,952.5 1180.0,940.0 1220.0,930.0 1235.0,915.0 1235.0,890.0 1400.0,880.0 1400.0,900.0 1412.5,915.0 1420.0,937.5 1420.0,975.0 1196.2,995.0" fill="#fff" stroke="#000" stroke-width="2" stroke-linejoin="round" />
<polyline points="1162.5,952.5 1290.0,940.0" fill="none" stroke="#000" stroke-width="1" stroke-linejoin="round" stroke-linecap="round" />
<polyline points="1164.5,955.5 1290.0,943.0" fill="none" stroke="#000" stroke-width="1" stroke-linejoin="round" stroke-linecap="round" />
<polyline points="1180.0,940.0 1335.0,926.2" fill="none" stroke="#000" stroke-width="1" stroke-linejoin="round" stroke-linecap="round" />
<polyline points="1182.0,943.0 1335.0,929.2" fill="none" stroke="#000" stroke-width="1" stroke-linejoin="round" stroke-linecap="round" />
<polyline points="1200.0,957.5 1305.0,947.5" fill="none" stroke="#000" stroke-width="1" stroke-linejoin="round" stroke-linecap="round" />
<polyline points="1202.0,960.5 1305.0,950.5" fill="none" stroke="#000" stroke-width="1" stroke-linejoin="round" stroke-linecap="round" />
<polyline points="1220.0,930.0 1335.0,917.5" fill="none" stroke="#000" stroke-width="1" stroke-linejoin="round" stroke-linecap="round" />
<polyline points="1222.0,933.0 1335.0,920.5" fill="none" stroke="#000" stroke-width="1" stroke-linejoin="round" stroke-linecap="round" />
<polyline points="1205.0,972.5 1417.5,952.5" fill="none" stroke="#000" stroke-width="1" stroke-linejoin="round" stroke-linecap="round" />
<polyline points="1207.0,975.5 1417.5,955.5" fill="none" stroke="#000" stroke-width="1" stroke-linejoin="round" stroke-linecap="round" />
<polyline points="1290.0,945.0 1415.0,933.8" fill="none" stroke="#000" stroke-width="1" stroke-linejoin="round" stroke-linecap="round" />
<polyline points="1292.0,948.0 1415.0,936.8" fill="none" stroke="#000" stroke-width="1" stroke-linejoin="round" stroke-linecap="round" />
<polyline points="1335.0,915.0 1410.0,908.0" fill="none" stroke="#000" stroke-width="1" stroke-linejoin="round" stroke-linecap="round" />
<polyline points="1337.0,918.0 1410.0,911.0" fill="none" stroke="#000" stroke-width="1" stroke-linejoin="round" stroke-linecap="round" />
<polyline points="1192.5,985.0 1420.0,965.0" fill="none" stroke="#000" stroke-width="1" stroke-linejoin="round" stroke-linecap="round" />
<polyline points="1194.5,988.0 1420.0,968.0" fill="none" stroke="#000" stroke-width="1" stroke-linejoin="round" stroke-linecap="round" />
<polyline points="1305.0,955.0 1405.0,945.5" fill="none" stroke="#000" stroke-width="1" stroke-linejoin="round" stroke-linecap="round" />
<polyline points="1307.0,958.0 1405.0,948.5" fill="none" stroke="#000" stroke-width="1" stroke-linejoin="round" stroke-linecap="round" />
<polyline points="1320.0,965.0 1402.5,957.0" fill="none" stroke="#000" stroke-width="1" stroke-linejoin="round" stroke-linecap="round" />
<polyline points="1322.0,968.0 1402.5,960.0" fill="none" stroke="#000" stroke-width="1" stroke-linejoin="round" stroke-linecap="round" />
<polyline points="1137.5,962.5 1196.2,995.0" fill="none" stroke="#000" stroke-width="2" stroke-linejoin="round" stroke-linecap="round" />
<polygon points="1401.2,902.5 1401.2,880.0 1405.0,790.0 1480.0,787.5 1490.0,822.5 1497.5,835.0 1490.0,840.0 1490.0,857.5 1485.0,865.0 1485.0,912.5 1410.0,915.0" fill="#fff" stroke="#000" stroke-width="1.5" stroke-linejoin="round" />
<polyline points="1402.5,797.5 1480.0,791.8" fill="none" stroke="#000" stroke-width="1" stroke-linejoin="round" stroke-linecap="round" />
<polyline points="1402.5,806.2 1480.0,800.5" fill="none" stroke="#000" stroke-width="1" stroke-linejoin="round" stroke-linecap="round" />
<polyline points="1402.5,815.0 1480.0,809.2" fill="none" stroke="#000" stroke-width="1" stroke-linejoin="round" stroke-linecap="round" />
<polyline points="1402.5,848.8 1480.0,843.0" fill="none" stroke="#000" stroke-width="1" stroke-linejoin="round" stroke-linecap="round" />
<polyline points="1402.5,857.5 1480.0,851.8" fill="none" stroke="#000" stroke-width="1" stroke-linejoin="round" stroke-linecap="round" />
<polyline points="1402.5,866.2 1480.0,860.5" fill="none" stroke="#000" stroke-width="1" stroke-linejoin="round" stroke-linecap="round" />
<polyline points="1402.5,883.8 1480.0,878.0" fill="none" stroke="#000" stroke-width="1" stroke-linejoin="round" stroke-linecap="round" />
<polyline points="1402.5,893.8 1480.0,888.0" fill="none" stroke="#000" stroke-width="1" stroke-linejoin="round" stroke-linecap="round" />
<polyline points="1402.5,903.8 1480.0,898.0" fill="none" stroke="#000" stroke-width="1" stroke-linejoin="round" stroke-linecap="round" />
<polyline points="1436.2,791.2 1436.2,811.2" fill="none" stroke="#000" stroke-width="1" stroke-linejoin="round" stroke-linecap="round" />
<polyline points="1452.5,791.2 1452.5,811.2" fill="none" stroke="#000" stroke-width="1" stroke-linejoin="round" stroke-linecap="round" />
<polygon points="1219.5,70.0 1341.2,59.5 1352.5,81.2 1353.8,207.5 1366.2,227.5 1366.2,340.0 1360.0,347.5 1372.5,372.5 1372.5,376.2 1360.0,380.0 1370.0,392.5 1360.0,400.0 1365.0,407.5 1360.0,415.0 1358.8,415.0 1358.8,620.0 1367.5,620.0 1370.0,635.0 1312.5,646.2 1312.5,710.0 1231.2,720.0 1230.0,790.0 1192.5,790.0 1192.5,740.0 1176.2,707.5 1176.2,467.5 1166.2,466.2 1176.2,325.0 1207.5,325.0 1219.5,343.8" fill="#fff" stroke="#000" stroke-width="0" stroke-linejoin="round" />
<polyline points="1219.5,70.0 1229.5,90.0 1352.5,81.2" fill="none" stroke="#000" stroke-width="1" stroke-linejoin="round" stroke-linecap="round" />
<polyline points="1229.5,90.0 1229.5,352.5" fill="none" stroke="#000" stroke-width="1" stroke-linejoin="round" stroke-linecap="round" />
<polygon points="1232.5,217.5 1353.8,208.0 1366.2,227.5 1252.5,237.5 1243.8,237.5" fill="#fff" stroke="#000" stroke-width="1" stroke-linejoin="round" />
<polyline points="1232.5,217.5 1232.5,332.5 1247.5,352.5 1247.5,375.0" fill="none" stroke="#000" stroke-width="1" stroke-linejoin="round" stroke-linecap="round" />
<polyline points="1243.8,237.5 1243.8,350.0" fill="none" stroke="#000" stroke-width="1" stroke-linejoin="round" stroke-linecap="round" />
<polygon points="1253.0,238.8 1357.5,231.2 1357.5,340.0 1253.0,351.2" fill="url(#gScrA)" stroke="#000" stroke-width="0" stroke-linejoin="round" />
<polyline points="1253.0,238.8 1357.5,231.2 1357.5,340.0 1253.0,351.2 1253.0,238.8" fill="none" stroke="#000" stroke-width="3.5" stroke-linejoin="round" stroke-linecap="round" />
<polyline points="1235.0,355.0 1250.0,361.2 1355.0,351.2 1360.0,346.2" fill="none" stroke="#000" stroke-width="1" stroke-linejoin="round" stroke-linecap="round" />
<polyline points="1236.0,365.0 1250.0,371.2 1355.0,361.2 1360.5,356.2" fill="none" stroke="#000" stroke-width="1" stroke-linejoin="round" stroke-linecap="round" />
<polyline points="1237.4,378.8 1250.0,385.0 1355.0,375.0 1361.2,370.0" fill="none" stroke="#000" stroke-width="1" stroke-linejoin="round" stroke-linecap="round" />
<polyline points="1238.2,387.5 1250.0,393.8 1355.0,383.8 1361.6,378.8" fill="none" stroke="#000" stroke-width="1" stroke-linejoin="round" stroke-linecap="round" />
<polyline points="1239.4,398.8 1250.0,405.0 1355.0,395.0 1362.2,390.0" fill="none" stroke="#000" stroke-width="1" stroke-linejoin="round" stroke-linecap="round" />
<polyline points="1240.0,405.0 1250.0,411.2 1355.0,401.2 1362.5,396.2" fill="none" stroke="#000" stroke-width="1" stroke-linejoin="round" stroke-linecap="round" />
<polyline points="1227.5,357.5 1237.5,356.2 1247.5,375.0 1367.5,365.0" fill="none" stroke="#000" stroke-width="1" stroke-linejoin="round" stroke-linecap="round" />
<polyline points="1232.5,377.5 1242.5,390.0 1367.5,380.0" fill="none" stroke="#000" stroke-width="1" stroke-linejoin="round" stroke-linecap="round" />
<polyline points="1232.5,387.5 1245.0,400.0 1365.0,390.0" fill="none" stroke="#000" stroke-width="1" stroke-linejoin="round" stroke-linecap="round" />
<polyline points="1232.5,400.0 1245.0,412.5 1360.0,403.8" fill="none" stroke="#000" stroke-width="1" stroke-linejoin="round" stroke-linecap="round" />
<polyline points="1176.2,327.5 1197.5,370.0 1232.5,370.0" fill="none" stroke="#000" stroke-width="1" stroke-linejoin="round" stroke-linecap="round" />
<polyline points="1197.5,370.0 1197.5,434.2" fill="none" stroke="#000" stroke-width="1" stroke-linejoin="round" stroke-linecap="round" />
<polyline points="1205.0,371.2 1205.0,434.2" fill="none" stroke="#000" stroke-width="1" stroke-linejoin="round" stroke-linecap="round" />
<polyline points="1197.5,400.0 1197.5,775.0" fill="none" stroke="#000" stroke-width="1" stroke-linejoin="round" stroke-linecap="round" />
<polyline points="1205.0,400.0 1205.0,775.0" fill="none" stroke="#000" stroke-width="1" stroke-linejoin="round" stroke-linecap="round" />
<polyline points="1232.5,400.0 1232.5,720.0" fill="none" stroke="#000" stroke-width="1" stroke-linejoin="round" stroke-linecap="round" />
<polyline points="1242.5,407.5 1242.5,717.5" fill="none" stroke="#000" stroke-width="1" stroke-linejoin="round" stroke-linecap="round" />
<polyline points="1252.5,415.0 1252.5,715.0" fill="none" stroke="#000" stroke-width="1" stroke-linejoin="round" stroke-linecap="round" />
<polyline points="1232.5,400.0 1245.0,415.0 1360.0,406.2" fill="none" stroke="#000" stroke-width="1" stroke-linejoin="round" stroke-linecap="round" />
<polyline points="1242.5,407.5 1247.5,411.2 1252.5,415.0" fill="none" stroke="#000" stroke-width="1" stroke-linejoin="round" stroke-linecap="round" />
<polyline points="1167.5,467.5 1197.5,500.0 1277.5,494.5" fill="none" stroke="#000" stroke-width="1" stroke-linejoin="round" stroke-linecap="round" />
<polyline points="1171.2,465.5 1200.0,497.5 1277.5,492.0" fill="none" stroke="#000" stroke-width="1" stroke-linejoin="round" stroke-linecap="round" />
<polyline points="1167.5,473.1 1197.5,511.2 1277.5,505.8" fill="none" stroke="#000" stroke-width="1" stroke-linejoin="round" stroke-linecap="round" />
<polyline points="1171.2,471.1 1200.0,508.8 1277.5,503.2" fill="none" stroke="#000" stroke-width="1" stroke-linejoin="round" stroke-linecap="round" />
<polyline points="1167.5,478.8 1197.5,522.5 1277.5,517.0" fill="none" stroke="#000" stroke-width="1" stroke-linejoin="round" stroke-linecap="round" />
<polyline points="1171.2,476.8 1200.0,520.0 1277.5,514.5" fill="none" stroke="#000" stroke-width="1" stroke-linejoin="round" stroke-linecap="round" />
<polyline points="1166.2,466.2 1178.8,465.0" fill="none" stroke="#000" stroke-width="1.5" stroke-linejoin="round" stroke-linecap="round" />
<polyline points="1232.5,615.0 1247.5,633.8 1360.0,625.0" fill="none" stroke="#000" stroke-width="1" stroke-linejoin="round" stroke-linecap="round" />
<polyline points="1232.5,625.0 1247.5,643.8 1360.0,631.0" fill="none" stroke="#000" stroke-width="1" stroke-linejoin="round" stroke-linecap="round" />
<polyline points="1232.5,633.8 1247.5,652.5 1360.0,636.2" fill="none" stroke="#000" stroke-width="1" stroke-linejoin="round" stroke-linecap="round" />
<polyline points="1232.5,642.5 1247.5,661.2 1312.5,656.2" fill="none" stroke="#000" stroke-width="1" stroke-linejoin="round" stroke-linecap="round" />
<polyline points="1232.5,650.0 1247.5,668.8 1312.5,663.8" fill="none" stroke="#000" stroke-width="1" stroke-linejoin="round" stroke-linecap="round" />
<polyline points="1219.5,343.8 1219.5,70.0 1341.2,59.5 1352.5,81.2 1353.8,207.5 1366.2,227.5 1366.2,340.0 1360.0,347.5 1372.5,372.5 1372.5,376.2 1360.0,380.0 1370.0,392.5 1360.0,400.0 1365.0,407.5 1360.0,415.0 1358.8,415.0 1358.8,620.0 1367.5,620.0 1370.0,635.0 1312.5,646.2 1312.5,710.0" fill="none" stroke="#000" stroke-width="3.5" stroke-linejoin="round" stroke-linecap="round" />
<polyline points="1176.2,325.0 1207.5,325.0 1219.5,343.8" fill="none" stroke="#000" stroke-width="3.5" stroke-linejoin="round" stroke-linecap="round" />
<polyline points="1166.2,466.2 1176.2,475.0 1176.2,707.5 1192.5,740.0 1160.0,743.8" fill="none" stroke="#000" stroke-width="3.5" stroke-linejoin="round" stroke-linecap="round" />
<polygon points="1162.0,746.0 1192.0,741.0 1176.0,710.0 1228.0,705.0 1228.0,848.0 1170.0,851.0 1150.0,792.0 1150.0,785.0 1162.0,781.0" fill="#fff" stroke="#000" stroke-width="0" stroke-linejoin="round" />
<polyline points="1198.8,712.0 1198.8,776.0" fill="none" stroke="#000" stroke-width="1" stroke-linejoin="round" stroke-linecap="round" />
<polyline points="1205.6,711.0 1205.6,775.0" fill="none" stroke="#000" stroke-width="1" stroke-linejoin="round" stroke-linecap="round" />
<polyline points="1163.8,780.0 1227.5,774.0" fill="none" stroke="#000" stroke-width="1" stroke-linejoin="round" stroke-linecap="round" />
<polyline points="1163.8,780.0 1178.0,807.5 1227.5,801.0" fill="none" stroke="#000" stroke-width="1" stroke-linejoin="round" stroke-linecap="round" />
<polyline points="1178.0,807.5 1178.0,817.5 1228.0,811.0" fill="none" stroke="#000" stroke-width="1" stroke-linejoin="round" stroke-linecap="round" />
<polyline points="1167.5,821.0 1228.0,815.0" fill="none" stroke="#000" stroke-width="1" stroke-linejoin="round" stroke-linecap="round" />
<polyline points="1166.0,827.0 1228.0,821.0" fill="none" stroke="#000" stroke-width="1" stroke-linejoin="round" stroke-linecap="round" />
<polyline points="1176.0,710.0 1192.5,741.0 1162.0,746.0 1162.0,781.0 1150.0,785.0 1150.0,792.0 1170.0,851.0 1226.0,846.0" fill="none" stroke="#000" stroke-width="3.5" stroke-linejoin="round" stroke-linecap="round" />
<polygon points="1380.0,593.8 1458.8,585.5 1477.5,607.5 1478.0,787.5 1487.5,805.0 1487.5,827.5 1497.5,838.8 1487.5,845.0 1490.0,857.5 1485.0,865.0 1486.2,907.5 1407.5,918.8 1400.0,907.5 1400.0,775.0 1387.5,755.0 1380.0,755.0" fill="#fff" stroke="#000" stroke-width="0" stroke-linejoin="round" />
<polyline points="1380.0,593.8 1395.0,616.2 1477.5,607.5" fill="none" stroke="#000" stroke-width="1" stroke-linejoin="round" stroke-linecap="round" />
<polyline points="1395.0,616.2 1395.0,790.0" fill="none" stroke="#000" stroke-width="1" stroke-linejoin="round" stroke-linecap="round" />
<polyline points="1463.8,610.0 1463.8,787.5" fill="none" stroke="#000" stroke-width="1" stroke-linejoin="round" stroke-linecap="round" />
<polyline points="1402.5,798.8 1486.2,792.5" fill="none" stroke="#000" stroke-width="1" stroke-linejoin="round" stroke-linecap="round" />
<polyline points="1402.5,807.5 1486.2,801.2" fill="none" stroke="#000" stroke-width="1" stroke-linejoin="round" stroke-linecap="round" />
<polyline points="1402.5,816.2 1486.2,810.0" fill="none" stroke="#000" stroke-width="1" stroke-linejoin="round" stroke-linecap="round" />
<polyline points="1402.5,848.8 1486.2,842.5" fill="none" stroke="#000" stroke-width="1" stroke-linejoin="round" stroke-linecap="round" />
<polyline points="1402.5,856.2 1486.2,850.0" fill="none" stroke="#000" stroke-width="1" stroke-linejoin="round" stroke-linecap="round" />
<polyline points="1402.5,866.2 1486.2,860.0" fill="none" stroke="#000" stroke-width="1" stroke-linejoin="round" stroke-linecap="round" />
<polyline points="1402.5,883.8 1486.2,877.5" fill="none" stroke="#000" stroke-width="1" stroke-linejoin="round" stroke-linecap="round" />
<polyline points="1402.5,898.8 1486.2,892.5" fill="none" stroke="#000" stroke-width="1" stroke-linejoin="round" stroke-linecap="round" />
<polyline points="1436.2,790.0 1436.2,810.0" fill="none" stroke="#000" stroke-width="1" stroke-linejoin="round" stroke-linecap="round" />
<polyline points="1452.5,790.0 1452.5,810.0" fill="none" stroke="#000" stroke-width="1" stroke-linejoin="round" stroke-linecap="round" />
<polyline points="1360.0,620.0 1367.5,623.8 1375.0,618.8 1380.0,617.5 1380.0,593.8 1458.8,585.5 1477.5,607.5 1478.0,787.5 1487.5,805.0 1487.5,827.5 1497.5,838.8 1487.5,845.0 1490.0,857.5 1485.0,865.0 1486.2,907.5 1407.5,918.8" fill="none" stroke="#000" stroke-width="3.5" stroke-linejoin="round" stroke-linecap="round" />
<polyline points="1360.0,543.8 1392.5,587.5" fill="none" stroke="#000" stroke-width="3.5" stroke-linejoin="round" stroke-linecap="round" />
<polygon points="1312.5,646.2 1367.5,637.5 1385.0,657.5 1390.0,660.0 1390.0,760.0 1312.5,765.0" fill="#fff" stroke="#000" stroke-width="0" stroke-linejoin="round" />
<polyline points="1312.5,646.2 1326.2,670.0 1386.2,663.8 1367.5,637.5" fill="none" stroke="#000" stroke-width="1" stroke-linejoin="round" stroke-linecap="round" />
<polyline points="1326.2,670.0 1326.2,710.0" fill="none" stroke="#000" stroke-width="1" stroke-linejoin="round" stroke-linecap="round" />
<polyline points="1337.5,668.8 1337.5,708.8" fill="none" stroke="#000" stroke-width="1" stroke-linejoin="round" stroke-linecap="round" />
<polyline points="1390.0,660.0 1390.0,755.0" fill="none" stroke="#000" stroke-width="1" stroke-linejoin="round" stroke-linecap="round" />
<polyline points="1312.5,710.0 1312.5,646.2 1367.5,637.5 1385.0,657.5" fill="none" stroke="#000" stroke-width="3.5" stroke-linejoin="round" stroke-linecap="round" />
<polygon points="1230.0,720.0 1340.0,708.0 1358.8,730.0 1358.8,756.2 1387.5,755.0 1400.0,775.0 1400.0,830.0 1410.0,845.0 1422.5,862.5 1422.5,892.5 1407.5,897.5 1400.0,907.5 1230.0,920.0" fill="#fff" stroke="#000" stroke-width="0" stroke-linejoin="round" />
<polyline points="1231.2,722.5 1246.2,745.0 1358.8,735.0" fill="none" stroke="#000" stroke-width="1" stroke-linejoin="round" stroke-linecap="round" />
<polyline points="1246.2,745.0 1246.2,870.0" fill="none" stroke="#000" stroke-width="1" stroke-linejoin="round" stroke-linecap="round" />
<polyline points="1265.0,743.0 1265.0,867.5" fill="none" stroke="#000" stroke-width="1" stroke-linejoin="round" stroke-linecap="round" />
<polyline points="1358.8,756.2 1358.8,857.5" fill="none" stroke="#000" stroke-width="1" stroke-linejoin="round" stroke-linecap="round" />
<polyline points="1396.2,777.5 1396.2,852.5" fill="none" stroke="#000" stroke-width="1" stroke-linejoin="round" stroke-linecap="round" />
<polyline points="1358.8,770.0 1396.2,777.5" fill="none" stroke="#000" stroke-width="1" stroke-linejoin="round" stroke-linecap="round" />
<polyline points="1347.5,860.5 1420.0,855.0" fill="none" stroke="#000" stroke-width="1" stroke-linejoin="round" stroke-linecap="round" />
<polyline points="1347.5,868.0 1420.0,862.5" fill="none" stroke="#000" stroke-width="1" stroke-linejoin="round" stroke-linecap="round" />
<polyline points="1347.5,876.8 1420.0,871.2" fill="none" stroke="#000" stroke-width="1" stroke-linejoin="round" stroke-linecap="round" />
<polyline points="1347.5,888.0 1420.0,882.5" fill="none" stroke="#000" stroke-width="1" stroke-linejoin="round" stroke-linecap="round" />
<polyline points="1230.0,920.0 1230.0,720.0 1340.0,708.0 1358.8,730.0 1358.8,756.2 1387.5,755.0 1400.0,775.0 1400.0,830.0 1410.0,845.0 1422.5,862.5 1422.5,892.5 1407.5,897.5 1400.0,907.5" fill="none" stroke="#000" stroke-width="3.5" stroke-linejoin="round" stroke-linecap="round" />
<!-- 06_hotel_exh.svg -->
<polygon points="958.5,857.5 993.5,857.5 1091.0,1037.5 1051.0,1045.0" fill="#fff" stroke="#000" stroke-width="0" stroke-linejoin="round" />
<polygon points="932.5,867.5 961.2,867.5 986.2,921.2 1017.5,985.0 1007.5,987.5 1006.2,1000.0 1003.8,990.5 945.0,996.2 941.2,1020.0 940.0,997.5 932.5,998.8" fill="#fff" stroke="#000" stroke-width="1" stroke-linejoin="round" />
<polyline points="932.5,900.0 982.5,922.5 986.2,921.2" fill="none" stroke="#000" stroke-width="1" stroke-linejoin="round" stroke-linecap="round" />
<polyline points="982.5,922.5 1011.2,982.5" fill="none" stroke="#000" stroke-width="1" stroke-linejoin="round" stroke-linecap="round" />
<polyline points="947.5,875.0 947.5,902.5" fill="none" stroke="#000" stroke-width="1" stroke-linejoin="round" stroke-linecap="round" />
<polyline points="961.2,910.0 967.5,922.5" fill="none" stroke="#000" stroke-width="2" stroke-linejoin="round" stroke-linecap="round" />
<polyline points="1261.0,1052.5 1428.5,1037.5" fill="none" stroke="#000" stroke-width="1" stroke-linejoin="round" stroke-linecap="round" />
<ellipse cx="1350" cy="1074" rx="92" ry="40" fill="#e46a5a" opacity="0.55" filter="url(#blur8)"/>
<ellipse cx="1346" cy="1078" rx="77" ry="27" fill="#c9402f"/>
<ellipse cx="1338.0" cy="1080" rx="55.4" ry="19.4" fill="none" stroke="#8a2a1e" stroke-width="0.9"/>
<ellipse cx="1334.0" cy="1080" rx="42.4" ry="14.9" fill="none" stroke="#8a2a1e" stroke-width="0.9"/>
<ellipse cx="1332.0" cy="1080" rx="32.3" ry="11.3" fill="none" stroke="#8a2a1e" stroke-width="0.9"/>
<polygon points="1295.0,1132.5 1282.5,1112.5 1370.0,1107.5 1407.5,1105.0 1452.5,1105.0 1452.5,1090.0 1502.5,1090.0 1505.0,1140.0 1537.5,1172.5 1502.5,1182.5 1407.5,1140.0 1377.5,1146.2 1330.0,1146.2" fill="#fff" stroke="#000" stroke-width="1" stroke-linejoin="round" />
<polygon points="1425.0,1113.8 1480.0,1131.2 1480.0,1142.5 1425.0,1125.0" fill="#fff" stroke="#000" stroke-width="1" stroke-linejoin="round" />
<polyline points="1407.5,1105.0 1410.0,1135.0 1482.5,1162.5 1482.5,1172.5" fill="none" stroke="#000" stroke-width="1" stroke-linejoin="round" stroke-linecap="round" />
<polyline points="993.5,940.0 1101.0,932.5 1116.0,965.0 1133.5,990.0 1228.5,1012.5" fill="none" stroke="#000" stroke-width="14" stroke-linejoin="miter" stroke-linecap="butt" />
<polyline points="993.5,940.0 1101.0,932.5 1116.0,965.0 1133.5,990.0 1228.5,1012.5" fill="none" stroke="#fff" stroke-width="12" stroke-linejoin="miter" stroke-linecap="butt" />
<polyline points="993.5,940.0 1101.0,932.5 1116.0,965.0 1133.5,990.0 1228.5,1012.5" fill="none" stroke="#f2c23a" stroke-width="3.2" stroke-linejoin="miter" stroke-linecap="butt" />
<polyline points="1211.0,1008.8 1224.8,1010.0 1266.0,1090.0 1284.8,1121.2 1238.5,1141.2" fill="none" stroke="#000" stroke-width="24" stroke-linejoin="miter" stroke-linecap="butt" />
<polyline points="1211.0,1008.8 1224.8,1010.0 1266.0,1090.0 1284.8,1121.2 1238.5,1141.2" fill="none" stroke="#fff" stroke-width="22" stroke-linejoin="miter" stroke-linecap="butt" />
<polyline points="1228.5,1012.5 1271.0,1090.0 1291.0,1122.5 1238.5,1145.0" fill="none" stroke="#f2c23a" stroke-width="3.4" stroke-linejoin="miter" stroke-linecap="butt" />
<polyline points="1101.0,933.0 1166.0,936.2 1223.5,928.8" fill="none" stroke="#000" stroke-width="10" stroke-linejoin="miter" stroke-linecap="butt" />
<polyline points="1101.0,933.0 1166.0,936.2 1223.5,928.8" fill="none" stroke="#fff" stroke-width="8" stroke-linejoin="miter" stroke-linecap="butt" />
<polyline points="1101.0,933.0 1166.0,936.2 1223.5,928.8" fill="none" stroke="#f2c23a" stroke-width="3.2" stroke-linejoin="miter" stroke-linecap="butt" />
<polyline points="1156.0,830.0 1176.0,875.0 1211.0,877.5" fill="none" stroke="#000" stroke-width="10" stroke-linejoin="miter" stroke-linecap="butt" />
<polyline points="1156.0,830.0 1176.0,875.0 1211.0,877.5" fill="none" stroke="#fff" stroke-width="8" stroke-linejoin="miter" stroke-linecap="butt" />
<polyline points="1156.0,830.0 1176.0,875.0 1211.0,877.5" fill="none" stroke="#f2c23a" stroke-width="3.2" stroke-linejoin="miter" stroke-linecap="butt" />
<polyline points="1271.0,1090.0 1281.0,1102.5 1316.0,1110.0 1371.0,1105.0" fill="none" stroke="#fff" stroke-width="12" stroke-linejoin="round" stroke-linecap="round" />
<polyline points="1271.0,1090.0 1281.0,1102.5 1316.0,1110.0 1371.0,1105.0 1418.5,1103.8 1491.8,1127.5" fill="none" stroke="#f2c23a" stroke-width="3.2" stroke-linejoin="round" stroke-linecap="round" />
<polyline points="1421.2,1103.8 1490.0,1130.0 1495.0,1173.8 1505.0,1177.5 1770.0,1258.8 1860.0,1246.2 1955.8,1280.0" fill="none" stroke="#000" stroke-width="14" stroke-linejoin="miter" stroke-linecap="butt" />
<polyline points="1421.2,1103.8 1490.0,1130.0 1495.0,1173.8 1505.0,1177.5 1770.0,1258.8 1860.0,1246.2 1955.8,1280.0" fill="none" stroke="#fff" stroke-width="12" stroke-linejoin="miter" stroke-linecap="butt" />
<polyline points="1421.2,1103.8 1490.0,1130.0 1495.0,1173.8 1505.0,1177.5 1770.0,1258.8 1860.0,1246.2 1955.8,1280.0" fill="none" stroke="#f2c23a" stroke-width="3.2" stroke-linejoin="miter" stroke-linecap="butt" />
<polyline points="1770.0,1258.8 1827.5,1281.2" fill="none" stroke="#000" stroke-width="12" stroke-linejoin="miter" stroke-linecap="butt" />
<polyline points="1770.0,1258.8 1827.5,1281.2" fill="none" stroke="#fff" stroke-width="10" stroke-linejoin="miter" stroke-linecap="butt" />
<polyline points="1770.0,1258.8 1827.5,1281.2" fill="none" stroke="#f2c23a" stroke-width="3.2" stroke-linejoin="miter" stroke-linecap="butt" />
<polyline points="1795.0,1263.8 1850.0,1256.2 1895.0,1272.5" fill="none" stroke="#000" stroke-width="1" stroke-linejoin="round" stroke-linecap="round" />
<polyline points="1565.0,1271.0 1600.0,1261.0 1632.6,1245.8 1708.7,1282.7 1865.3,1326.2 1952.3,1317.5" fill="none" stroke="#000" stroke-width="14" stroke-linejoin="miter" stroke-linecap="butt" />
<polyline points="1565.0,1271.0 1600.0,1261.0 1632.6,1245.8 1708.7,1282.7 1865.3,1326.2 1952.3,1317.5" fill="none" stroke="#fff" stroke-width="12" stroke-linejoin="miter" stroke-linecap="butt" />
<polyline points="1565.0,1271.0 1600.0,1261.0 1632.6,1245.8 1708.7,1282.7 1865.3,1326.2 1952.3,1317.5" fill="none" stroke="#f2c23a" stroke-width="3.2" stroke-linejoin="miter" stroke-linecap="butt" />
<polygon points="1627.5,1260.0 1640.0,1251.2 1712.5,1278.8 1702.5,1283.8" fill="#fff" stroke="#000" stroke-width="1" stroke-linejoin="round" />
<polygon points="1652.5,1233.8 1770.0,1272.5 1770.0,1276.2 1652.5,1238.0" fill="#cd1b1b" stroke="#000" stroke-width="1" stroke-linejoin="round" />
<polygon points="1196.2,1177.5 1295.0,1132.5 1330.0,1146.2 1377.5,1146.2 1407.5,1140.0 1502.5,1182.5 1567.5,1212.5 1592.5,1217.5 1593.8,1282.5 1558.8,1295.0 1537.5,1287.5 1517.5,1282.5 1517.5,1297.5 1481.2,1313.8 1342.5,1266.2 1342.5,1252.5 1345.0,1247.5 1300.0,1240.0 1287.5,1243.8 1196.2,1215.0" fill="#fff" stroke="#000" stroke-width="1.5" stroke-linejoin="round" />
<polyline points="1196.2,1177.5 1287.5,1207.5 1287.5,1243.8" fill="none" stroke="#000" stroke-width="1" stroke-linejoin="round" stroke-linecap="round" />
<polyline points="1287.5,1190.0 1537.5,1287.5" fill="none" stroke="#000" stroke-width="1" stroke-linejoin="round" stroke-linecap="round" />
<polyline points="1287.5,1207.5 1535.0,1302.5" fill="none" stroke="#000" stroke-width="1" stroke-linejoin="round" stroke-linecap="round" />
<polyline points="1280.0,1212.5 1395.0,1250.0 1505.0,1282.5" fill="none" stroke="#000" stroke-width="1" stroke-linejoin="round" stroke-linecap="round" />
<polyline points="1353.8,1188.8 1353.8,1203.8 1420.0,1222.5" fill="none" stroke="#000" stroke-width="1" stroke-linejoin="round" stroke-linecap="round" />
<polyline points="1420.0,1185.0 1567.5,1230.0" fill="none" stroke="#000" stroke-width="1" stroke-linejoin="round" stroke-linecap="round" />
<polyline points="1417.5,1185.0 1420.0,1200.0 1537.5,1240.0 1537.5,1226.2" fill="none" stroke="#000" stroke-width="1" stroke-linejoin="round" stroke-linecap="round" />
<polyline points="1407.5,1207.5 1407.5,1225.0 1535.0,1268.8" fill="none" stroke="#000" stroke-width="1" stroke-linejoin="round" stroke-linecap="round" />
<polyline points="1397.5,1230.0 1397.5,1245.0 1505.0,1280.0" fill="none" stroke="#000" stroke-width="1" stroke-linejoin="round" stroke-linecap="round" />
<polyline points="1280.0,1185.0 1310.0,1177.5 1360.0,1185.0 1417.5,1185.0" fill="none" stroke="#000" stroke-width="1" stroke-linejoin="round" stroke-linecap="round" />
<polyline points="1312.5,1177.5 1345.0,1165.0 1395.0,1162.5 1450.0,1172.5" fill="none" stroke="#000" stroke-width="1" stroke-linejoin="round" stroke-linecap="round" />
<polyline points="1320.0,1165.0 1360.0,1152.5 1407.5,1155.0 1420.0,1162.5" fill="none" stroke="#000" stroke-width="1" stroke-linejoin="round" stroke-linecap="round" />
<polyline points="1217.5,1167.5 1257.5,1182.5" fill="none" stroke="#000" stroke-width="1" stroke-linejoin="round" stroke-linecap="round" />
<polyline points="1252.5,1155.0 1295.0,1172.5 1280.0,1185.0" fill="none" stroke="#000" stroke-width="1" stroke-linejoin="round" stroke-linecap="round" />
<polyline points="1230.0,1221.2 1265.0,1226.2 1287.5,1235.0" fill="none" stroke="#000" stroke-width="1" stroke-linejoin="round" stroke-linecap="round" />
<polyline points="1300.0,1227.5 1345.0,1235.0 1370.0,1250.0 1410.0,1252.5" fill="none" stroke="#000" stroke-width="1" stroke-linejoin="round" stroke-linecap="round" />
<polyline points="1420.0,1162.5 1567.5,1212.5" fill="none" stroke="#000" stroke-width="1" stroke-linejoin="round" stroke-linecap="round" />
<polyline points="1567.5,1212.5 1567.5,1230.0" fill="none" stroke="#000" stroke-width="1" stroke-linejoin="round" stroke-linecap="round" />
<polyline points="1537.5,1226.2 1567.5,1212.5" fill="none" stroke="#000" stroke-width="1" stroke-linejoin="round" stroke-linecap="round" />
<polyline points="1438.8,1268.8 1448.8,1271.8" fill="none" stroke="#000" stroke-width="1.2" stroke-linejoin="round" stroke-linecap="round" />
<polyline points="1443.2,1270.8 1453.2,1273.8" fill="none" stroke="#000" stroke-width="1.2" stroke-linejoin="round" stroke-linecap="round" />
<polyline points="1447.8,1272.8 1457.8,1275.8" fill="none" stroke="#000" stroke-width="1.2" stroke-linejoin="round" stroke-linecap="round" />
<polyline points="1452.2,1274.8 1462.2,1277.8" fill="none" stroke="#000" stroke-width="1.2" stroke-linejoin="round" stroke-linecap="round" />
<polyline points="1456.8,1276.8 1466.8,1279.8" fill="none" stroke="#000" stroke-width="1.2" stroke-linejoin="round" stroke-linecap="round" />
<polyline points="1461.2,1278.8 1471.2,1281.8" fill="none" stroke="#000" stroke-width="1.2" stroke-linejoin="round" stroke-linecap="round" />
<polyline points="1465.8,1280.8 1475.8,1283.8" fill="none" stroke="#000" stroke-width="1.2" stroke-linejoin="round" stroke-linecap="round" />
<polyline points="1470.2,1282.8 1480.2,1285.8" fill="none" stroke="#000" stroke-width="1.2" stroke-linejoin="round" stroke-linecap="round" />
<polyline points="1474.8,1284.8 1484.8,1287.8" fill="none" stroke="#000" stroke-width="1.2" stroke-linejoin="round" stroke-linecap="round" />
<polyline points="1479.2,1286.8 1489.2,1289.8" fill="none" stroke="#000" stroke-width="1.2" stroke-linejoin="round" stroke-linecap="round" />
<polyline points="1435.0,1270.0 1482.5,1290.0 1502.5,1281.2" fill="none" stroke="#000" stroke-width="1" stroke-linejoin="round" stroke-linecap="round" />
<polygon points="1537.5,1287.5 1558.8,1295.0 1558.8,1280.0 1593.8,1266.2 1593.8,1282.5 1558.8,1295.0" fill="#fff" stroke="#000" stroke-width="1" stroke-linejoin="round" />
<polyline points="1535.0,1268.8 1557.5,1262.5 1592.5,1242.5 1592.5,1217.5" fill="none" stroke="#000" stroke-width="1" stroke-linejoin="round" stroke-linecap="round" />
<polyline points="1557.5,1262.5 1558.8,1280.0" fill="none" stroke="#000" stroke-width="1" stroke-linejoin="round" stroke-linecap="round" />
<polyline points="1536.2,1272.5 1536.2,1287.5" fill="none" stroke="#000" stroke-width="1" stroke-linejoin="round" stroke-linecap="round" />
<polygon points="1565.0,1228.8 1592.5,1217.5 1592.5,1232.5 1580.0,1237.5" fill="#e0653a" stroke="#000" stroke-width="3.5" stroke-linejoin="round" />
<polygon points="1535.0,1252.5 1567.5,1238.8 1568.8,1255.0 1535.0,1268.8" fill="url(#gPink2)" stroke="#000" stroke-width="4" stroke-linejoin="round" />
<polygon points="1481.2,1298.8 1517.5,1282.5 1517.5,1297.5 1481.2,1313.8" fill="#7fa3b0" stroke="#000" stroke-width="4" stroke-linejoin="round" />
<polygon points="1451.2,1083.8 1537.5,1155.0 1537.5,1172.5 1451.2,1102.5" fill="#fff" stroke="#000" stroke-width="1.5" stroke-linejoin="round" />
<polygon points="1537.5,1155.0 1780.0,1105.0 1780.0,1127.5 1537.5,1172.5" fill="#fff" stroke="#000" stroke-width="1.5" stroke-linejoin="round" />
<polygon points="1451.2,1083.8 1780.0,1070.0 1780.0,1105.0 1537.5,1155.0" fill="#fff" stroke="#000" stroke-width="1" stroke-linejoin="round" />
<polygon points="1505.0,977.5 1668.8,959.5 1676.2,983.8 1540.0,1005.0" fill="#fff" stroke="#000" stroke-width="1" stroke-linejoin="round" />
<polygon points="1505.0,977.5 1540.0,1005.0 1540.0,1020.0 1505.0,1002.5" fill="#fff" stroke="#000" stroke-width="1" stroke-linejoin="round" />
<polygon points="1540.0,1005.0 1676.2,983.8 1676.2,995.0 1540.0,1020.0" fill="#fff" stroke="#000" stroke-width="1" stroke-linejoin="round" />
<polyline points="1505.0,1002.5 1505.0,977.5 1668.8,959.5 1676.2,983.8" fill="none" stroke="#000" stroke-width="3.5" stroke-linejoin="round" stroke-linecap="round" />
<polygon points="1433.0,1018.8 1505.0,1005.0 1630.0,1002.5 1677.5,1047.5 1546.2,1037.5 1476.2,1053.8" fill="#fff" stroke="#000" stroke-width="1" stroke-linejoin="round" />
<polygon points="1433.0,1018.8 1476.2,1053.8 1472.5,1090.0 1433.0,1060.0" fill="#fff" stroke="#000" stroke-width="1" stroke-linejoin="round" />
<polyline points="1433.0,1060.0 1433.0,1018.8 1505.0,1005.0" fill="none" stroke="#000" stroke-width="3.5" stroke-linejoin="round" stroke-linecap="round" />
<polyline points="1525.0,1021.2 1546.2,1037.5 1546.2,1047.5" fill="none" stroke="#000" stroke-width="1" stroke-linejoin="round" stroke-linecap="round" />
<polyline points="1476.2,1053.8 1546.2,1040.0" fill="none" stroke="#000" stroke-width="1" stroke-linejoin="round" stroke-linecap="round" />
<polygon points="1625.0,996.2 1683.8,985.0 1788.8,1053.8 1716.2,1067.0" fill="#fff" stroke="#000" stroke-width="1" stroke-linejoin="round" />
<polygon points="1625.0,996.2 1716.2,1067.0 1716.2,1110.0 1677.5,1082.5 1677.5,1047.5" fill="#fff" stroke="#000" stroke-width="1" stroke-linejoin="round" />
<polyline points="1655.0,1047.5 1677.5,1043.8 1677.5,1055.0 1705.0,1077.5 1716.2,1076.2" fill="none" stroke="#000" stroke-width="1" stroke-linejoin="round" stroke-linecap="round" />
<polyline points="1683.8,985.0 1788.8,1053.8" fill="none" stroke="#000" stroke-width="3.5" stroke-linejoin="round" stroke-linecap="round" />
<polygon points="1716.2,1067.0 1788.8,1053.8 1788.8,1095.0 1716.2,1110.0" fill="url(#gScrB)" stroke="#000" stroke-width="0" stroke-linejoin="round" />
<polyline points="1716.2,1067.0 1788.8,1053.8 1788.8,1095.0 1716.2,1110.0 1716.2,1067.0" fill="none" stroke="#000" stroke-width="5" stroke-linejoin="round" stroke-linecap="round" />
<polygon points="1472.5,1055.0 1642.5,1037.0 1677.5,1080.0 1503.8,1100.0" fill="#fff" stroke="#000" stroke-width="1" stroke-linejoin="round" />
<polygon points="1472.5,1055.0 1503.8,1100.0 1503.8,1142.5 1472.5,1090.0" fill="#fff" stroke="#000" stroke-width="1" stroke-linejoin="round" />
<polygon points="1503.8,1100.0 1677.5,1081.2 1677.5,1123.8 1503.8,1142.5" fill="url(#gScrC)" stroke="#000" stroke-width="0" stroke-linejoin="round" />
<ellipse cx="1527.5" cy="1116.2" rx="22" ry="12" fill="#4a78e0" opacity="0.85" filter="url(#blur4)"/>
<ellipse cx="1592.5" cy="1097.5" rx="30" ry="7" fill="#7a50d8" opacity="0.7" filter="url(#blur4)" transform="rotate(-8 1592.5 1097.5)"/>
<polyline points="1503.8,1100.0 1677.5,1081.2 1677.5,1123.8 1503.8,1142.5 1503.8,1100.0" fill="none" stroke="#000" stroke-width="5" stroke-linejoin="round" stroke-linecap="round" />
<polyline points="1677.5,1123.8 1716.2,1110.0" fill="none" stroke="#000" stroke-width="1" stroke-linejoin="round" stroke-linecap="round" />
<polyline points="1677.5,1090.0 1716.2,1082.5" fill="none" stroke="#000" stroke-width="1" stroke-linejoin="round" stroke-linecap="round" />
<!-- 10_leftwall.svg -->
<polygon points="146.0,284.9 263.8,255.4 263.8,380.1 146.0,409.6" fill="#fff" stroke="#7fb4c4" stroke-width="1.3" stroke-dasharray="1.3 2.2" stroke-linecap="butt"/>
<polygon points="179.6,300.2 185.0,298.9 185.0,305.2 179.6,306.6" fill="#b4b4b4"/>
<polygon points="188.4,291.4 200.9,288.3 200.9,299.3 188.4,302.4" fill="#b4b4b4"/>
<polygon points="206.9,288.8 229.3,283.1 229.3,290.3 206.9,295.9" fill="#b4b4b4"/>
<polygon points="210.2,300.2 221.7,297.3 221.7,299.0 210.2,301.8" fill="#b4b4b4"/>
<polygon points="180.7,310.1 190.0,307.7 190.0,310.6 180.7,312.9" fill="#b4b4b4"/>
<polygon points="194.4,305.1 200.3,303.7 200.3,306.5 194.4,307.9" fill="#b4b4b4"/>
<polygon points="187.3,315.0 190.5,314.2 190.5,316.9 187.3,317.7" fill="#b4b4b4"/>
<polygon points="186.1,322.1 193.2,320.3 193.2,322.6 186.1,324.3" fill="#b4b4b4"/>
<polygon points="191.6,326.5 197.6,325.0 197.6,331.1 191.6,332.6" fill="#b4b4b4"/>
<polyline points="231.0,308.5 225.5,310.1 225.5,317.7 218.4,320.5" fill="none" stroke="#b4b4b4" stroke-width="2.6"/>
<polygon points="231.0,330.9 238.0,329.3 241.4,340.7 235.3,345.1 225.0,347.8 225.0,337.5 231.0,336.4" fill="#b4b4b4"/>
<polygon points="197.6,347.3 205.3,340.1 226.1,364.3 219.5,370.9" fill="#b4b4b4"/>
<polygon points="146.0,440.0 263.8,410.6 263.8,535.2 146.0,564.7" fill="#fff" stroke="#7fb4c4" stroke-width="1.3" stroke-dasharray="1.3 2.2" stroke-linecap="butt"/>
<polygon points="179.6,455.3 185.0,454.0 185.0,460.3 179.6,461.7" fill="#b4b4b4"/>
<polygon points="188.4,446.5 200.9,443.4 200.9,454.4 188.4,457.5" fill="#b4b4b4"/>
<polygon points="206.9,443.9 229.3,438.2 229.3,445.4 206.9,451.0" fill="#b4b4b4"/>
<polygon points="210.2,455.3 221.7,452.4 221.7,454.1 210.2,456.9" fill="#b4b4b4"/>
<polygon points="180.7,465.2 190.0,462.8 190.0,465.7 180.7,468.0" fill="#b4b4b4"/>
<polygon points="194.4,460.2 200.3,458.8 200.3,461.6 194.4,463.0" fill="#b4b4b4"/>
<polygon points="187.3,470.1 190.5,469.3 190.5,472.0 187.3,472.8" fill="#b4b4b4"/>
<polygon points="186.1,477.2 193.2,475.4 193.2,477.7 186.1,479.4" fill="#b4b4b4"/>
<polygon points="191.6,481.6 197.6,480.1 197.6,486.2 191.6,487.7" fill="#b4b4b4"/>
<polyline points="231.0,463.6 225.5,465.2 225.5,472.8 218.4,475.6" fill="none" stroke="#b4b4b4" stroke-width="2.6"/>
<polygon points="231.0,486.0 238.0,484.4 241.4,495.8 235.3,500.2 225.0,502.9 225.0,492.6 231.0,491.5" fill="#b4b4b4"/>
<polygon points="197.6,502.4 205.3,495.2 226.1,519.4 219.5,526.0" fill="#b4b4b4"/>
<polygon points="146.0,597.5 263.8,568.0 263.8,692.7 146.0,722.2" fill="#fff" stroke="#7fb4c4" stroke-width="1.3" stroke-dasharray="1.3 2.2" stroke-linecap="butt"/>
<polygon points="179.6,612.8 185.0,611.5 185.0,617.8 179.6,619.2" fill="#b4b4b4"/>
<polygon points="188.4,604.0 200.9,600.9 200.9,611.9 188.4,615.0" fill="#b4b4b4"/>
<polygon points="206.9,601.4 229.3,595.7 229.3,602.9 206.9,608.5" fill="#b4b4b4"/>
<polygon points="210.2,612.8 221.7,609.9 221.7,611.6 210.2,614.4" fill="#b4b4b4"/>
<polygon points="180.7,622.7 190.0,620.3 190.0,623.2 180.7,625.5" fill="#b4b4b4"/>
<polygon points="194.4,617.7 200.3,616.3 200.3,619.1 194.4,620.5" fill="#b4b4b4"/>
<polygon points="187.3,627.6 190.5,626.8 190.5,629.5 187.3,630.3" fill="#b4b4b4"/>
<polygon points="186.1,634.7 193.2,632.9 193.2,635.2 186.1,636.9" fill="#b4b4b4"/>
<polygon points="191.6,639.1 197.6,637.6 197.6,643.7 191.6,645.2" fill="#b4b4b4"/>
<polyline points="231.0,621.1 225.5,622.7 225.5,630.3 218.4,633.1" fill="none" stroke="#b4b4b4" stroke-width="2.6"/>
<polygon points="231.0,643.5 238.0,641.9 241.4,653.3 235.3,657.7 225.0,660.4 225.0,650.1 231.0,649.0" fill="#b4b4b4"/>
<polygon points="197.6,659.9 205.3,652.7 226.1,676.9 219.5,683.5" fill="#b4b4b4"/>
<polygon points="306.6,243.4 423.0,214.3 423.0,337.5 306.6,366.6" fill="#fff" stroke="#7fb4c4" stroke-width="1.3" stroke-dasharray="1.3 2.2" stroke-linecap="butt"/>
<polygon points="339.8,258.5 345.2,257.2 345.2,263.5 339.8,264.8" fill="#b4b4b4"/>
<polygon points="348.5,249.9 360.8,246.8 360.8,257.6 348.5,260.7" fill="#b4b4b4"/>
<polygon points="366.8,247.2 388.9,241.7 388.9,248.7 366.8,254.2" fill="#b4b4b4"/>
<polygon points="370.1,258.5 381.4,255.7 381.4,257.3 370.1,260.1" fill="#b4b4b4"/>
<polygon points="340.9,268.3 350.1,266.0 350.1,268.7 340.9,271.0" fill="#b4b4b4"/>
<polygon points="354.4,263.4 360.3,261.9 360.3,264.7 354.4,266.2" fill="#b4b4b4"/>
<polygon points="347.4,273.1 350.6,272.3 350.6,275.0 347.4,275.8" fill="#b4b4b4"/>
<polygon points="346.2,280.1 353.2,278.4 353.2,280.6 346.2,282.4" fill="#b4b4b4"/>
<polygon points="351.6,284.5 357.6,283.0 357.6,289.0 351.6,290.5" fill="#b4b4b4"/>
<polyline points="390.6,266.7 385.2,268.3 385.2,275.8 378.2,278.5" fill="none" stroke="#b4b4b4" stroke-width="2.6"/>
<polygon points="390.6,288.8 397.5,287.2 400.8,298.5 394.9,302.9 384.7,305.6 384.7,295.3 390.6,294.3" fill="#b4b4b4"/>
<polygon points="357.6,305.1 365.2,298.0 385.7,321.8 379.2,328.3" fill="#b4b4b4"/>
<polygon points="306.6,399.5 423.0,370.4 423.0,493.6 306.6,522.7" fill="#fff" stroke="#7fb4c4" stroke-width="1.3" stroke-dasharray="1.3 2.2" stroke-linecap="butt"/>
<polygon points="339.8,414.6 345.2,413.3 345.2,419.6 339.8,420.9" fill="#b4b4b4"/>
<polygon points="348.5,406.0 360.8,402.9 360.8,413.7 348.5,416.8" fill="#b4b4b4"/>
<polygon points="366.8,403.3 388.9,397.8 388.9,404.8 366.8,410.3" fill="#b4b4b4"/>
<polygon points="370.1,414.6 381.4,411.8 381.4,413.4 370.1,416.2" fill="#b4b4b4"/>
<polygon points="340.9,424.4 350.1,422.1 350.1,424.8 340.9,427.1" fill="#b4b4b4"/>
<polygon points="354.4,419.5 360.3,418.0 360.3,420.8 354.4,422.3" fill="#b4b4b4"/>
<polygon points="347.4,429.2 350.6,428.4 350.6,431.1 347.4,431.9" fill="#b4b4b4"/>
<polygon points="346.2,436.2 353.2,434.5 353.2,436.7 346.2,438.5" fill="#b4b4b4"/>
<polygon points="351.6,440.6 357.6,439.1 357.6,445.1 351.6,446.6" fill="#b4b4b4"/>
<polyline points="390.6,422.8 385.2,424.4 385.2,431.9 378.2,434.6" fill="none" stroke="#b4b4b4" stroke-width="2.6"/>
<polygon points="390.6,444.9 397.5,443.3 400.8,454.6 394.9,459.0 384.7,461.7 384.7,451.4 390.6,450.4" fill="#b4b4b4"/>
<polygon points="357.6,461.2 365.2,454.1 385.7,477.9 379.2,484.4" fill="#b4b4b4"/>
<polygon points="306.6,557.0 423.0,527.9 423.0,651.1 306.6,680.2" fill="#fff" stroke="#7fb4c4" stroke-width="1.3" stroke-dasharray="1.3 2.2" stroke-linecap="butt"/>
<polygon points="339.8,572.1 345.2,570.8 345.2,577.1 339.8,578.4" fill="#b4b4b4"/>
<polygon points="348.5,563.5 360.8,560.4 360.8,571.2 348.5,574.3" fill="#b4b4b4"/>
<polygon points="366.8,560.8 388.9,555.3 388.9,562.3 366.8,567.8" fill="#b4b4b4"/>
<polygon points="370.1,572.1 381.4,569.3 381.4,570.9 370.1,573.7" fill="#b4b4b4"/>
<polygon points="340.9,581.9 350.1,579.6 350.1,582.3 340.9,584.6" fill="#b4b4b4"/>
<polygon points="354.4,577.0 360.3,575.5 360.3,578.3 354.4,579.8" fill="#b4b4b4"/>
<polygon points="347.4,586.7 350.6,585.9 350.6,588.6 347.4,589.4" fill="#b4b4b4"/>
<polygon points="346.2,593.7 353.2,592.0 353.2,594.2 346.2,596.0" fill="#b4b4b4"/>
<polygon points="351.6,598.1 357.6,596.6 357.6,602.6 351.6,604.1" fill="#b4b4b4"/>
<polyline points="390.6,580.3 385.2,581.9 385.2,589.4 378.2,592.1" fill="none" stroke="#b4b4b4" stroke-width="2.6"/>
<polygon points="390.6,602.4 397.5,600.8 400.8,612.1 394.9,616.5 384.7,619.2 384.7,608.9 390.6,607.9" fill="#b4b4b4"/>
<polygon points="357.6,618.7 365.2,611.6 385.7,635.4 379.2,641.9" fill="#b4b4b4"/>
<polygon points="465.0,205.0 578.5,176.6 578.5,296.8 465.0,325.1" fill="#fff" stroke="#7fb4c4" stroke-width="1.3" stroke-dasharray="1.3 2.2" stroke-linecap="butt"/>
<polygon points="497.4,219.7 502.6,218.4 502.6,224.6 497.4,225.9" fill="#b4b4b4"/>
<polygon points="505.8,211.3 517.9,208.3 517.9,218.9 505.8,221.9" fill="#b4b4b4"/>
<polygon points="523.7,208.7 545.3,203.3 545.3,210.2 523.7,215.6" fill="#b4b4b4"/>
<polygon points="526.9,219.7 537.9,217.0 537.9,218.6 526.9,221.3" fill="#b4b4b4"/>
<polygon points="498.4,229.2 507.4,227.0 507.4,229.7 498.4,231.9" fill="#b4b4b4"/>
<polygon points="511.6,224.5 517.3,223.1 517.3,225.8 511.6,227.2" fill="#b4b4b4"/>
<polygon points="504.8,234.0 507.9,233.2 507.9,235.8 504.8,236.6" fill="#b4b4b4"/>
<polygon points="503.6,240.8 510.5,239.1 510.5,241.3 503.6,243.0" fill="#b4b4b4"/>
<polygon points="508.9,245.1 514.7,243.7 514.7,249.5 508.9,250.9" fill="#b4b4b4"/>
<polyline points="546.9,227.7 541.6,229.2 541.6,236.6 534.8,239.3" fill="none" stroke="#b4b4b4" stroke-width="2.5"/>
<polygon points="546.9,249.3 553.7,247.7 556.9,258.8 551.1,263.0 541.1,265.6 541.1,255.6 546.9,254.6" fill="#b4b4b4"/>
<polygon points="514.7,265.2 522.1,258.2 542.2,281.5 535.8,287.8" fill="#b4b4b4"/>
<polygon points="465.0,359.0 578.5,330.6 578.5,450.8 465.0,479.1" fill="#fff" stroke="#7fb4c4" stroke-width="1.3" stroke-dasharray="1.3 2.2" stroke-linecap="butt"/>
<polygon points="497.4,373.7 502.6,372.4 502.6,378.6 497.4,379.9" fill="#b4b4b4"/>
<polygon points="505.8,365.3 517.9,362.3 517.9,372.9 505.8,375.9" fill="#b4b4b4"/>
<polygon points="523.7,362.7 545.3,357.3 545.3,364.2 523.7,369.6" fill="#b4b4b4"/>
<polygon points="526.9,373.7 537.9,371.0 537.9,372.6 526.9,375.3" fill="#b4b4b4"/>
<polygon points="498.4,383.2 507.4,381.0 507.4,383.7 498.4,385.9" fill="#b4b4b4"/>
<polygon points="511.6,378.5 517.3,377.1 517.3,379.8 511.6,381.2" fill="#b4b4b4"/>
<polygon points="504.8,388.0 507.9,387.2 507.9,389.8 504.8,390.6" fill="#b4b4b4"/>
<polygon points="503.6,394.8 510.5,393.1 510.5,395.3 503.6,397.0" fill="#b4b4b4"/>
<polygon points="508.9,399.1 514.7,397.7 514.7,403.5 508.9,404.9" fill="#b4b4b4"/>
<polyline points="546.9,381.7 541.6,383.2 541.6,390.6 534.8,393.3" fill="none" stroke="#b4b4b4" stroke-width="2.5"/>
<polygon points="546.9,403.3 553.7,401.7 556.9,412.8 551.1,417.0 541.1,419.6 541.1,409.6 546.9,408.6" fill="#b4b4b4"/>
<polygon points="514.7,419.2 522.1,412.2 542.2,435.5 535.8,441.8" fill="#b4b4b4"/>
<polygon points="465.0,515.0 578.5,486.6 578.5,606.8 465.0,635.1" fill="#fff" stroke="#7fb4c4" stroke-width="1.3" stroke-dasharray="1.3 2.2" stroke-linecap="butt"/>
<polygon points="497.4,529.7 502.6,528.4 502.6,534.6 497.4,535.9" fill="#b4b4b4"/>
<polygon points="505.8,521.3 517.9,518.3 517.9,528.9 505.8,531.9" fill="#b4b4b4"/>
<polygon points="523.7,518.7 545.3,513.3 545.3,520.2 523.7,525.6" fill="#b4b4b4"/>
<polygon points="526.9,529.7 537.9,527.0 537.9,528.6 526.9,531.3" fill="#b4b4b4"/>
<polygon points="498.4,539.2 507.4,537.0 507.4,539.7 498.4,541.9" fill="#b4b4b4"/>
<polygon points="511.6,534.5 517.3,533.1 517.3,535.8 511.6,537.2" fill="#b4b4b4"/>
<polygon points="504.8,544.0 507.9,543.2 507.9,545.8 504.8,546.6" fill="#b4b4b4"/>
<polygon points="503.6,550.8 510.5,549.1 510.5,551.3 503.6,553.0" fill="#b4b4b4"/>
<polygon points="508.9,555.1 514.7,553.7 514.7,559.5 508.9,560.9" fill="#b4b4b4"/>
<polyline points="546.9,537.7 541.6,539.2 541.6,546.6 534.8,549.3" fill="none" stroke="#b4b4b4" stroke-width="2.5"/>
<polygon points="546.9,559.3 553.7,557.7 556.9,568.8 551.1,573.0 541.1,575.6 541.1,565.6 546.9,564.6" fill="#b4b4b4"/>
<polygon points="514.7,575.2 522.1,568.2 542.2,591.5 535.8,597.8" fill="#b4b4b4"/>
<polygon points="621.0,165.0 733.5,136.9 733.5,256.0 621.0,284.1" fill="#fff" stroke="#7fb4c4" stroke-width="1.3" stroke-dasharray="1.3 2.2" stroke-linecap="butt"/>
<polygon points="653.1,179.6 658.3,178.3 658.3,184.4 653.1,185.7" fill="#b4b4b4"/>
<polygon points="661.5,171.3 673.4,168.3 673.4,178.8 661.5,181.8" fill="#b4b4b4"/>
<polygon points="679.2,168.7 700.6,163.3 700.6,170.1 679.2,175.5" fill="#b4b4b4"/>
<polygon points="682.3,179.6 693.3,176.9 693.3,178.4 682.3,181.2" fill="#b4b4b4"/>
<polygon points="654.1,189.0 663.0,186.8 663.0,189.5 654.1,191.7" fill="#b4b4b4"/>
<polygon points="667.2,184.3 672.9,182.9 672.9,185.6 667.2,187.0" fill="#b4b4b4"/>
<polygon points="660.4,193.7 663.5,193.0 663.5,195.5 660.4,196.3" fill="#b4b4b4"/>
<polygon points="659.3,200.5 666.1,198.8 666.1,201.0 659.3,202.7" fill="#b4b4b4"/>
<polygon points="664.5,204.8 670.3,203.3 670.3,209.1 664.5,210.5" fill="#b4b4b4"/>
<polyline points="702.2,187.5 697.0,189.0 697.0,196.3 690.2,199.0" fill="none" stroke="#b4b4b4" stroke-width="2.5"/>
<polygon points="702.2,208.9 708.9,207.4 712.1,218.3 706.3,222.5 696.4,225.1 696.4,215.2 702.2,214.2" fill="#b4b4b4"/>
<polygon points="670.3,224.6 677.6,217.8 697.5,240.8 691.2,247.1" fill="#b4b4b4"/>
<polygon points="621.0,320.0 733.5,291.9 733.5,411.0 621.0,439.1" fill="#fff" stroke="#7fb4c4" stroke-width="1.3" stroke-dasharray="1.3 2.2" stroke-linecap="butt"/>
<polygon points="653.1,334.6 658.3,333.3 658.3,339.4 653.1,340.7" fill="#b4b4b4"/>
<polygon points="661.5,326.3 673.4,323.3 673.4,333.8 661.5,336.8" fill="#b4b4b4"/>
<polygon points="679.2,323.7 700.6,318.3 700.6,325.1 679.2,330.5" fill="#b4b4b4"/>
<polygon points="682.3,334.6 693.3,331.9 693.3,333.4 682.3,336.2" fill="#b4b4b4"/>
<polygon points="654.1,344.0 663.0,341.8 663.0,344.5 654.1,346.7" fill="#b4b4b4"/>
<polygon points="667.2,339.3 672.9,337.9 672.9,340.6 667.2,342.0" fill="#b4b4b4"/>
<polygon points="660.4,348.7 663.5,348.0 663.5,350.5 660.4,351.3" fill="#b4b4b4"/>
<polygon points="659.3,355.5 666.1,353.8 666.1,356.0 659.3,357.7" fill="#b4b4b4"/>
<polygon points="664.5,359.8 670.3,358.3 670.3,364.1 664.5,365.5" fill="#b4b4b4"/>
<polyline points="702.2,342.5 697.0,344.0 697.0,351.3 690.2,354.0" fill="none" stroke="#b4b4b4" stroke-width="2.5"/>
<polygon points="702.2,363.9 708.9,362.4 712.1,373.3 706.3,377.5 696.4,380.1 696.4,370.2 702.2,369.2" fill="#b4b4b4"/>
<polygon points="670.3,379.6 677.6,372.8 697.5,395.8 691.2,402.1" fill="#b4b4b4"/>
<polygon points="621.0,472.5 733.5,444.4 733.5,563.5 621.0,591.6" fill="#fff" stroke="#7fb4c4" stroke-width="1.3" stroke-dasharray="1.3 2.2" stroke-linecap="butt"/>
<polygon points="653.1,487.1 658.3,485.8 658.3,491.9 653.1,493.2" fill="#b4b4b4"/>
<polygon points="661.5,478.8 673.4,475.8 673.4,486.3 661.5,489.3" fill="#b4b4b4"/>
<polygon points="679.2,476.2 700.6,470.8 700.6,477.6 679.2,483.0" fill="#b4b4b4"/>
<polygon points="682.3,487.1 693.3,484.4 693.3,485.9 682.3,488.7" fill="#b4b4b4"/>
<polygon points="654.1,496.5 663.0,494.3 663.0,497.0 654.1,499.2" fill="#b4b4b4"/>
<polygon points="667.2,491.8 672.9,490.4 672.9,493.1 667.2,494.5" fill="#b4b4b4"/>
<polygon points="660.4,501.2 663.5,500.5 663.5,503.0 660.4,503.8" fill="#b4b4b4"/>
<polygon points="659.3,508.0 666.1,506.3 666.1,508.5 659.3,510.2" fill="#b4b4b4"/>
<polygon points="664.5,512.3 670.3,510.8 670.3,516.6 664.5,518.0" fill="#b4b4b4"/>
<polyline points="702.2,495.0 697.0,496.5 697.0,503.8 690.2,506.5" fill="none" stroke="#b4b4b4" stroke-width="2.5"/>
<polygon points="702.2,516.4 708.9,514.9 712.1,525.8 706.3,530.0 696.4,532.6 696.4,522.7 702.2,521.7" fill="#b4b4b4"/>
<polygon points="670.3,532.1 677.6,525.3 697.5,548.3 691.2,554.6" fill="#b4b4b4"/>
<polygon points="784.0,125.0 900.0,96.0 900.0,218.8 784.0,247.8" fill="#fff" stroke="#7fb4c4" stroke-width="1.3" stroke-dasharray="1.3 2.2" stroke-linecap="butt"/>
<polygon points="817.1,140.1 822.4,138.7 822.4,145.0 817.1,146.3" fill="#b4b4b4"/>
<polygon points="825.7,131.4 838.0,128.4 838.0,139.2 825.7,142.3" fill="#b4b4b4"/>
<polygon points="844.0,128.8 866.0,123.3 866.0,130.3 844.0,135.8" fill="#b4b4b4"/>
<polygon points="847.3,140.1 858.5,137.3 858.5,138.8 847.3,141.7" fill="#b4b4b4"/>
<polygon points="818.2,149.8 827.3,147.5 827.3,150.3 818.2,152.5" fill="#b4b4b4"/>
<polygon points="831.7,144.9 837.5,143.5 837.5,146.2 831.7,147.7" fill="#b4b4b4"/>
<polygon points="824.6,154.6 827.8,153.8 827.8,156.5 824.6,157.3" fill="#b4b4b4"/>
<polygon points="823.5,161.6 830.5,159.9 830.5,162.1 823.5,163.8" fill="#b4b4b4"/>
<polygon points="828.9,166.0 834.8,164.5 834.8,170.5 828.9,171.9" fill="#b4b4b4"/>
<polyline points="867.7,148.2 862.3,149.8 862.3,157.3 855.3,160.0" fill="none" stroke="#b4b4b4" stroke-width="2.5"/>
<polygon points="867.7,170.3 874.6,168.7 877.9,179.9 872.0,184.3 861.8,187.0 861.8,176.8 867.7,175.7" fill="#b4b4b4"/>
<polygon points="834.8,186.5 842.4,179.4 862.9,203.1 856.4,209.6" fill="#b4b4b4"/>
<polygon points="953.0,82.5 1062.3,55.2 1062.3,170.9 953.0,198.2" fill="#fff" stroke="#7fb4c4" stroke-width="1.3" stroke-dasharray="1.3 2.2" stroke-linecap="butt"/>
<polygon points="984.2,96.7 989.2,95.5 989.2,101.4 984.2,102.6" fill="#b4b4b4"/>
<polygon points="992.3,88.6 1003.9,85.7 1003.9,95.9 992.3,98.8" fill="#b4b4b4"/>
<polygon points="1009.5,86.1 1030.3,80.9 1030.3,87.5 1009.5,92.7" fill="#b4b4b4"/>
<polygon points="1012.6,96.7 1023.2,94.0 1023.2,95.5 1012.6,98.2" fill="#b4b4b4"/>
<polygon points="985.2,105.9 993.8,103.7 993.8,106.3 985.2,108.5" fill="#b4b4b4"/>
<polygon points="997.9,101.3 1003.4,99.9 1003.4,102.5 997.9,103.9" fill="#b4b4b4"/>
<polygon points="991.3,110.4 994.3,109.7 994.3,112.2 991.3,112.9" fill="#b4b4b4"/>
<polygon points="990.2,117.0 996.8,115.3 996.8,117.5 990.2,119.1" fill="#b4b4b4"/>
<polygon points="995.3,121.1 1000.9,119.7 1000.9,125.3 995.3,126.7" fill="#b4b4b4"/>
<polyline points="1031.9,104.4 1026.8,105.8 1026.8,113.0 1020.2,115.5" fill="none" stroke="#b4b4b4" stroke-width="2.4"/>
<polygon points="1031.9,125.2 1038.4,123.7 1041.5,134.3 1035.9,138.4 1026.3,140.9 1026.3,131.3 1031.9,130.3" fill="#b4b4b4"/>
<polygon points="1000.9,140.4 1008.0,133.8 1027.3,156.1 1021.2,162.2" fill="#b4b4b4"/>
<polygon points="953.0,235.5 1062.3,208.2 1062.3,323.9 953.0,351.2" fill="#fff" stroke="#7fb4c4" stroke-width="1.3" stroke-dasharray="1.3 2.2" stroke-linecap="butt"/>
<polygon points="984.2,249.7 989.2,248.4 989.2,254.3 984.2,255.6" fill="#b4b4b4"/>
<polygon points="992.3,241.6 1003.9,238.7 1003.9,248.9 992.3,251.8" fill="#b4b4b4"/>
<polygon points="1009.5,239.1 1030.3,233.9 1030.3,240.5 1009.5,245.7" fill="#b4b4b4"/>
<polygon points="1012.6,249.7 1023.2,247.1 1023.2,248.6 1012.6,251.2" fill="#b4b4b4"/>
<polygon points="985.2,258.8 993.8,256.7 993.8,259.3 985.2,261.4" fill="#b4b4b4"/>
<polygon points="997.9,254.3 1003.4,252.9 1003.4,255.5 997.9,256.9" fill="#b4b4b4"/>
<polygon points="991.3,263.4 994.3,262.7 994.3,265.2 991.3,265.9" fill="#b4b4b4"/>
<polygon points="990.2,270.0 996.8,268.4 996.8,270.4 990.2,272.1" fill="#b4b4b4"/>
<polygon points="995.3,274.1 1000.9,272.7 1000.9,278.3 995.3,279.7" fill="#b4b4b4"/>
<polyline points="1031.9,257.4 1026.8,258.9 1026.8,265.9 1020.2,268.5" fill="none" stroke="#b4b4b4" stroke-width="2.4"/>
<polygon points="1031.9,278.2 1038.4,276.6 1041.5,287.3 1035.9,291.4 1026.3,293.9 1026.3,284.3 1031.9,283.3" fill="#b4b4b4"/>
<polygon points="1000.9,293.4 1008.0,286.8 1027.3,309.1 1021.2,315.2" fill="#b4b4b4"/>
<polygon points="953.0,386.0 1062.3,358.7 1062.3,474.4 953.0,501.7" fill="#fff" stroke="#7fb4c4" stroke-width="1.3" stroke-dasharray="1.3 2.2" stroke-linecap="butt"/>
<polygon points="984.2,400.2 989.2,398.9 989.2,404.8 984.2,406.1" fill="#b4b4b4"/>
<polygon points="992.3,392.1 1003.9,389.2 1003.9,399.4 992.3,402.3" fill="#b4b4b4"/>
<polygon points="1009.5,389.6 1030.3,384.4 1030.3,391.0 1009.5,396.2" fill="#b4b4b4"/>
<polygon points="1012.6,400.2 1023.2,397.6 1023.2,399.1 1012.6,401.7" fill="#b4b4b4"/>
<polygon points="985.2,409.3 993.8,407.2 993.8,409.8 985.2,411.9" fill="#b4b4b4"/>
<polygon points="997.9,404.8 1003.4,403.4 1003.4,406.0 997.9,407.4" fill="#b4b4b4"/>
<polygon points="991.3,413.9 994.3,413.2 994.3,415.7 991.3,416.4" fill="#b4b4b4"/>
<polygon points="990.2,420.5 996.8,418.9 996.8,420.9 990.2,422.6" fill="#b4b4b4"/>
<polygon points="995.3,424.6 1000.9,423.2 1000.9,428.8 995.3,430.2" fill="#b4b4b4"/>
<polyline points="1031.9,407.9 1026.8,409.4 1026.8,416.4 1020.2,419.0" fill="none" stroke="#b4b4b4" stroke-width="2.4"/>
<polygon points="1031.9,428.7 1038.4,427.1 1041.5,437.8 1035.9,441.9 1026.3,444.4 1026.3,434.8 1031.9,433.8" fill="#b4b4b4"/>
<polygon points="1000.9,443.9 1008.0,437.2 1027.3,459.6 1021.2,465.8" fill="#b4b4b4"/>
<polyline points="154.0,288.3 160.0,294.2 167.4,292.9 199.5,285.5 226.3,278.8 229.5,273.7 230.3,268.6" fill="none" stroke="#e0212a" stroke-width="1.8" stroke-linejoin="round" stroke-linecap="round" />
<polyline points="229.5,273.7 229.0,283.6 231.6,296.9 237.0,315.6 241.0,329.1 244.9,342.4 247.6,349.2 250.3,349.8 260.4,343.7" fill="none" stroke="#e0212a" stroke-width="1.8" stroke-linejoin="round" stroke-linecap="round" />
<polyline points="160.0,294.2 170.0,312.9 179.4,331.7 186.1,341.1 192.8,350.5 204.8,363.8 216.3,382.5" fill="none" stroke="#e0212a" stroke-width="1.8" stroke-linejoin="round" stroke-linecap="round" />
<polyline points="186.1,341.1 180.8,349.1 170.0,358.4 154.7,372.9" fill="none" stroke="#e0212a" stroke-width="1.8" stroke-linejoin="round" stroke-linecap="round" />
<polyline points="199.5,285.5 200.9,304.9 201.5,331.7" fill="none" stroke="#e0212a" stroke-width="1.8" stroke-linejoin="round" stroke-linecap="round" />
<polyline points="186.1,341.1 194.2,335.7 201.5,331.7 216.9,327.0 231.6,324.4 237.0,326.4 241.0,329.1" fill="none" stroke="#e0212a" stroke-width="1.8" stroke-linejoin="round" stroke-linecap="round" />
<polyline points="218.2,378.5 226.3,370.4 237.0,358.5 243.6,350.5 244.9,342.4" fill="none" stroke="#e0212a" stroke-width="1.8" stroke-linejoin="round" stroke-linecap="round" />
<circle cx="160.0" cy="294.2" r="2.1" fill="#d0161e"/><circle cx="230.3" cy="268.6" r="2.1" fill="#d0161e"/><circle cx="260.4" cy="343.7" r="2.1" fill="#d0161e"/><circle cx="154.7" cy="372.9" r="2.1" fill="#d0161e"/><circle cx="216.3" cy="382.5" r="2.1" fill="#d0161e"/>
<polyline points="333.3,258.1 342.7,258.8 344.1,264.2 357.4,262.1 358.1,268.7 366.8,267.4 378.8,264.9 382.9,259.5 384.9,255.5" fill="none" stroke="#e0212a" stroke-width="1.8" stroke-linejoin="round" stroke-linecap="round" />
<polyline points="338.0,276.2 366.8,267.4 367.5,295.6 404.3,330.4" fill="none" stroke="#e0212a" stroke-width="1.8" stroke-linejoin="round" stroke-linecap="round" />
<polyline points="368.2,276.9 385.5,274.2" fill="none" stroke="#e0212a" stroke-width="1.8" stroke-linejoin="round" stroke-linecap="round" />
<polyline points="388.2,313.0 394.2,311.6 397.5,308.3" fill="none" stroke="#e0212a" stroke-width="1.8" stroke-linejoin="round" stroke-linecap="round" />
<circle cx="333.3" cy="258.1" r="2.1" fill="#d0161e"/><circle cx="338.0" cy="276.2" r="2.1" fill="#d0161e"/><circle cx="384.9" cy="255.5" r="2.1" fill="#d0161e"/><circle cx="385.5" cy="274.2" r="2.1" fill="#d0161e"/><circle cx="397.5" cy="308.3" r="2.1" fill="#d0161e"/><circle cx="404.3" cy="330.4" r="2.1" fill="#d0161e"/>
<polyline points="495.0,218.5 507.5,220.0 530.0,217.5 530.0,237.5 507.5,240.0 507.5,220.0" fill="none" stroke="#e0212a" stroke-width="1.8" stroke-linejoin="round" stroke-linecap="round" />
<polyline points="496.0,234.0 507.5,232.5" fill="none" stroke="#e0212a" stroke-width="1.8" stroke-linejoin="round" stroke-linecap="round" />
<polyline points="530.0,217.5 542.5,212.5" fill="none" stroke="#e0212a" stroke-width="1.8" stroke-linejoin="round" stroke-linecap="round" />
<polyline points="530.0,227.5 539.0,226.5 539.0,235.0 530.0,237.5" fill="none" stroke="#e0212a" stroke-width="1.8" stroke-linejoin="round" stroke-linecap="round" />
<polyline points="527.5,239.0 529.0,260.0 542.5,264.0 542.5,274.0 549.0,280.0 551.5,289.0 560.0,291.5" fill="none" stroke="#e0212a" stroke-width="1.8" stroke-linejoin="round" stroke-linecap="round" />
<polyline points="522.5,268.5 529.0,260.0" fill="none" stroke="#e0212a" stroke-width="1.8" stroke-linejoin="round" stroke-linecap="round" />
<circle cx="495.0" cy="218.5" r="2.1" fill="#d0161e"/><circle cx="496.0" cy="234.0" r="2.1" fill="#d0161e"/><circle cx="542.5" cy="212.5" r="2.1" fill="#d0161e"/><circle cx="522.5" cy="268.5" r="2.1" fill="#d0161e"/><circle cx="541.0" cy="262.5" r="2.1" fill="#d0161e"/><circle cx="560.0" cy="291.5" r="2.1" fill="#d0161e"/>
<polyline points="627.5,181.0 642.5,175.0 702.5,160.0 710.0,200.0 667.5,215.0 642.5,175.0" fill="none" stroke="#e0212a" stroke-width="1.8" stroke-linejoin="round" stroke-linecap="round" />
<polyline points="667.5,215.0 672.5,222.5 697.5,260.0 710.0,250.0 717.5,235.0 716.0,215.0 710.0,200.0" fill="none" stroke="#e0212a" stroke-width="1.8" stroke-linejoin="round" stroke-linecap="round" />
<polyline points="667.5,216.0 675.0,210.0 710.0,201.5" fill="none" stroke="#e0212a" stroke-width="1.8" stroke-linejoin="round" stroke-linecap="round" />
<polyline points="716.5,217.5 721.0,202.5" fill="none" stroke="#e0212a" stroke-width="1.8" stroke-linejoin="round" stroke-linecap="round" />
<polyline points="697.5,260.0 710.0,256.0" fill="none" stroke="#e0212a" stroke-width="1.8" stroke-linejoin="round" stroke-linecap="round" />
<circle cx="627.5" cy="181.0" r="2.1" fill="#d0161e"/><circle cx="721.0" cy="202.5" r="2.1" fill="#d0161e"/><circle cx="710.0" cy="256.0" r="2.1" fill="#d0161e"/>
<polyline points="811.0,141.5 825.0,145.0 825.0,150.0 845.0,147.5 845.0,172.5 881.0,212.5" fill="none" stroke="#e0212a" stroke-width="1.8" stroke-linejoin="round" stroke-linecap="round" />
<polyline points="816.0,157.5 845.0,152.5" fill="none" stroke="#e0212a" stroke-width="1.8" stroke-linejoin="round" stroke-linecap="round" />
<polyline points="845.0,147.5 857.5,145.0 861.0,136.5" fill="none" stroke="#e0212a" stroke-width="1.8" stroke-linejoin="round" stroke-linecap="round" />
<polyline points="845.0,160.0 863.5,156.0" fill="none" stroke="#e0212a" stroke-width="1.8" stroke-linejoin="round" stroke-linecap="round" />
<polyline points="865.0,194.0 873.5,190.0" fill="none" stroke="#e0212a" stroke-width="1.8" stroke-linejoin="round" stroke-linecap="round" />
<circle cx="811.0" cy="141.5" r="2.1" fill="#d0161e"/><circle cx="861.0" cy="136.5" r="2.1" fill="#d0161e"/><circle cx="816.0" cy="157.5" r="2.1" fill="#d0161e"/><circle cx="863.5" cy="156.0" r="2.1" fill="#d0161e"/><circle cx="873.5" cy="190.0" r="2.1" fill="#d0161e"/><circle cx="881.0" cy="212.5" r="2.1" fill="#d0161e"/>
<polyline points="984.0,97.5 992.5,100.0 992.5,115.0 1005.0,117.5 1015.0,115.0 1022.5,137.5 1030.0,145.0 1032.5,152.5 1042.5,157.5 1055.0,163.5" fill="none" stroke="#e0212a" stroke-width="1.8" stroke-linejoin="round" stroke-linecap="round" />
<polyline points="1042.5,137.5 1042.5,120.0 1047.5,112.5 1057.5,106.5" fill="none" stroke="#e0212a" stroke-width="1.8" stroke-linejoin="round" stroke-linecap="round" />
<circle cx="984.0" cy="97.5" r="2.1" fill="#d0161e"/><circle cx="1055.0" cy="163.5" r="2.1" fill="#d0161e"/><circle cx="1042.5" cy="137.5" r="2.1" fill="#d0161e"/><circle cx="1057.5" cy="106.5" r="2.1" fill="#d0161e"/>
<polyline points="222.5,532.5 235.0,520.0 252.5,506.0" fill="none" stroke="#e0212a" stroke-width="2.6" stroke-linejoin="round" stroke-linecap="round" />
<circle cx="411.5" cy="442.5" r="2.4" fill="#d0161e"/><circle cx="402.5" cy="477.5" r="2.4" fill="#d0161e"/>
<polyline points="492.5,372.5 529.0,385.0 535.0,415.0 555.0,422.5 561.0,382.5" fill="none" stroke="#e0212a" stroke-width="1.5" stroke-linejoin="round" stroke-linecap="round" />
<polyline points="555.0,422.5 556.0,445.0" fill="none" stroke="#e0212a" stroke-width="1.5" stroke-linejoin="round" stroke-linecap="round" />
<circle cx="492.5" cy="372.5" r="2.1" fill="#d0161e"/><circle cx="529.0" cy="385.0" r="2.1" fill="#d0161e"/><circle cx="561.0" cy="382.5" r="2.1" fill="#d0161e"/><circle cx="535.0" cy="415.0" r="2.1" fill="#d0161e"/><circle cx="555.0" cy="422.5" r="2.1" fill="#d0161e"/><circle cx="556.0" cy="445.0" r="2.1" fill="#d0161e"/>
<polyline points="676.0,316.0 676.0,365.0" fill="none" stroke="#e0212a" stroke-width="3.2" stroke-linejoin="round" stroke-linecap="round" />
<polyline points="997.9,259.9 1021.7,253.8 1021.7,264.4 997.9,270.6 997.9,259.9" fill="none" stroke="#e0212a" stroke-width="1.6" stroke-linejoin="round" stroke-linecap="round" />
<polyline points="202.5,627.5 207.5,640.0" fill="none" stroke="#e0212a" stroke-width="1.8" stroke-linejoin="round" stroke-linecap="round" />
<polyline points="197.5,642.5 219.0,641.5" fill="none" stroke="#e0212a" stroke-width="1.8" stroke-linejoin="round" stroke-linecap="round" />
<polyline points="212.5,651.5 223.5,669.0" fill="none" stroke="#e0212a" stroke-width="1.8" stroke-linejoin="round" stroke-linecap="round" />
<polyline points="228.5,661.0 216.0,650.0" fill="none" stroke="#e0212a" stroke-width="1.8" stroke-linejoin="round" stroke-linecap="round" />
<polyline points="220.0,647.5 227.5,670.0" fill="none" stroke="#e0212a" stroke-width="1.8" stroke-linejoin="round" stroke-linecap="round" />
<polygon points="200.0,625.0 206.0,628.0 201.5,631.0" fill="#e0212a"/>
<polygon points="195.0,642.5 200.0,639.5 200.0,645.5" fill="#e0212a"/>
<polygon points="230.0,659.0 226.0,664.0 231.0,665.0" fill="#e0212a"/>
<polyline points="357.5,555.0 361.0,597.5" fill="none" stroke="#e0212a" stroke-width="2.4" stroke-linejoin="round" stroke-linecap="round" />
<polyline points="361.0,597.5 392.5,635.0" fill="none" stroke="#e0212a" stroke-width="3.6" stroke-linejoin="round" stroke-linecap="round" />
<polyline points="354.0,556.0 361.0,554.0" fill="none" stroke="#e0212a" stroke-width="1.6" stroke-linejoin="round" stroke-linecap="round" />
<polyline points="389.0,638.0 396.0,632.5" fill="none" stroke="#e0212a" stroke-width="1.6" stroke-linejoin="round" stroke-linecap="round" />
<circle cx="507.5" cy="521.5" r="2.3" fill="#d0161e"/><circle cx="529.0" cy="515.0" r="2.3" fill="#d0161e"/><circle cx="541.0" cy="520.0" r="2.3" fill="#d0161e"/><circle cx="507.5" cy="556.0" r="2.3" fill="#d0161e"/><circle cx="549.0" cy="558.5" r="2.3" fill="#d0161e"/>
<polyline points="695.0,542.5 705.0,555.0" fill="none" stroke="#e0212a" stroke-width="1.2" stroke-linejoin="round" stroke-linecap="round" />
<circle cx="705.0" cy="555.0" r="1.6" fill="#d0161e"/>
<polyline points="1012.5,402.5 1022.5,402.5 1022.5,417.5 1012.5,417.5" fill="none" stroke="#e0212a" stroke-width="1.6" stroke-linejoin="round" stroke-linecap="round" />
<polyline points="992.5,415.0 1002.5,415.0 1002.5,430.0 995.0,430.0 992.5,422.5" fill="none" stroke="#e0212a" stroke-width="1.2" stroke-linejoin="round" stroke-linecap="round" stroke-dasharray="3 2.5"/>
<text x="149.0" y="396.0" font-size="10.6" fill="#111" transform="rotate(-14 149.0 396.0)">Venicle Route</text>
<text x="310.0" y="354.0" font-size="10.6" fill="#111" transform="rotate(-14 310.0 354.0)">Walking Route</text>
<text x="467.5" y="315.0" font-size="10.6" fill="#111" transform="rotate(-14 467.5 315.0)">Building Route</text>
<text x="625.0" y="276.5" font-size="10.6" fill="#111" transform="rotate(-14 625.0 276.5)">Fire Route</text>
<text x="787.5" y="237.5" font-size="10.6" fill="#111" transform="rotate(-14 787.5 237.5)">Building Entrance</text>
<text x="956.0" y="192.5" font-size="10.6" fill="#111" transform="rotate(-14 956.0 192.5)">Non motorized</text>
<text x="148.5" y="554.0" font-size="10.6" fill="#111" transform="rotate(-14 148.5 554.0)">Waterfront Landscape</text>
<text x="310.0" y="512.5" font-size="10.6" fill="#111" transform="rotate(-14 310.0 512.5)">Surrounding buildings</text>
<text x="467.5" y="471.5" font-size="10.6" fill="#111" transform="rotate(-14 467.5 471.5)">Landscaped Space</text>
<text x="626.0" y="430.0" font-size="10.6" fill="#111" transform="rotate(-14 626.0 430.0)">City Roud</text>
<text x="957.5" y="343.5" font-size="10.6" fill="#111" transform="rotate(-14 957.5 343.5)">Square</text>
<text x="148.5" y="710.0" font-size="10.6" fill="#111" transform="rotate(-14 148.5 710.0)">Opposite Scenery</text>
<text x="310.0" y="667.5" font-size="10.6" fill="#111" transform="rotate(-14 310.0 667.5)">Corridor</text>
<text x="467.5" y="626.0" font-size="10.6" fill="#111" transform="rotate(-14 467.5 626.0)">Service Facilities</text>
<text x="622.5" y="586.0" font-size="10.6" fill="#111" transform="rotate(-14 622.5 586.0)">Riverside Guidance</text>
<text x="956.0" y="496.5" font-size="10.6" fill="#111" transform="rotate(-14 956.0 496.5)">Field</text>
<text x="150.0" y="265.0" font-size="25.5" fill="#111" textLength="281.7" lengthAdjust="spacingAndGlyphs" transform="rotate(-14.7 150.0 265.0)">Behavioral Accessibility</text>
<text x="152.5" y="429.0" font-size="25.5" fill="#111" textLength="210.5" lengthAdjust="spacingAndGlyphs" transform="rotate(-14.7 152.5 429.0)">Visual Accessibility</text>
<text x="145.0" y="585.0" font-size="25.5" fill="#111" textLength="291.3" lengthAdjust="spacingAndGlyphs" transform="rotate(-14.7 145.0 585.0)">Psychological Accessibility</text>
<!-- 11_rightwall.svg -->
<polyline points="1560.0,640.0 1700.0,760.0 1830.0,900.0 1990.0,1060.0 2060.0,1140.0" fill="none" stroke="#9a9a9a" stroke-width="0.8" stroke-linejoin="round" stroke-linecap="round" />
<polyline points="1620.0,700.0 1760.0,700.0 1830.0,690.0" fill="none" stroke="#9a9a9a" stroke-width="0.8" stroke-linejoin="round" stroke-linecap="round" />
<polyline points="1760.0,700.0 1900.0,880.0 1980.0,1010.0 2040.0,1130.0" fill="none" stroke="#9a9a9a" stroke-width="0.8" stroke-linejoin="round" stroke-linecap="round" />
<polyline points="1700.0,760.0 1905.0,790.0" fill="none" stroke="#9a9a9a" stroke-width="0.8" stroke-linejoin="round" stroke-linecap="round" />
<polyline points="1640.0,750.0 1900.0,960.0 2010.0,1040.0" fill="none" stroke="#9a9a9a" stroke-width="0.8" stroke-linejoin="round" stroke-linecap="round" />
<polyline points="1790.0,860.0 1930.0,790.0 2010.0,820.0" fill="none" stroke="#9a9a9a" stroke-width="0.8" stroke-linejoin="round" stroke-linecap="round" />
<polyline points="1830.0,900.0 1960.0,930.0 2005.0,1020.0 1985.0,1100.0" fill="none" stroke="#9a9a9a" stroke-width="0.8" stroke-linejoin="round" stroke-linecap="round" />
<polyline points="1700.0,840.0 1860.0,940.0 2000.0,1000.0" fill="none" stroke="#9a9a9a" stroke-width="0.8" stroke-linejoin="round" stroke-linecap="round" />
<polyline points="1880.0,1030.0 2008.0,1040.0 2005.0,1130.0" fill="none" stroke="#9a9a9a" stroke-width="0.8" stroke-linejoin="round" stroke-linecap="round" />
<polyline points="1745.0,826.0 1860.0,860.0 1990.0,880.0" fill="none" stroke="#9a9a9a" stroke-width="0.8" stroke-linejoin="round" stroke-linecap="round" />
<polygon points="1862.0,923.0 2036.0,1062.0 2044.0,1080.0 2036.0,1088.0 1862.0,949.0" fill="#a5a7a6"/>
<polygon points="1682.0,779.3 1862.0,923.0 1870.0,941.0 1862.0,949.0 1682.0,805.3" fill="#7b7f90"/>
<polygon points="1505.0,648.0 1515.0,646.0 1682.0,779.4 1690.0,797.0 1682.0,805.4 1514.0,671.0 1509.0,658.0" fill="#9ea37c"/>
<text transform="matrix(0.800,0.640,0,1,1571.0,712.0)" font-size="13.5" fill="#fff" font-weight="bold" textLength="94" lengthAdjust="spacingAndGlyphs">LANDSCAPE</text>
<text transform="matrix(0.800,0.640,0,1,1738.0,846.0)" font-size="13.5" fill="#fff" font-weight="bold" textLength="89" lengthAdjust="spacingAndGlyphs">COMMUNITY</text>
<text transform="matrix(0.800,0.640,0,1,1897.0,973.0)" font-size="13.5" fill="#fff" font-weight="bold" textLength="91" lengthAdjust="spacingAndGlyphs">BUILT FABRIC</text>
<text transform="matrix(0.950,0.750,0,1,1502.5,763.0)" font-size="27.5" fill="#111" textLength="550" lengthAdjust="spacingAndGlyphs">LIVE WORK SHOPPING ENTERTAINMENT</text>
<text transform="matrix(0.730,0.626,0,1,1419.0,34.0)" font-size="31" fill="#111" textLength="306.8" lengthAdjust="spacingAndGlyphs">Underground Diagram</text>
<text transform="matrix(0.700,0.556,0,1,1747.0,298.0)" font-size="30" fill="#111" textLength="254" lengthAdjust="spacingAndGlyphs">First Floor Diagram</text>
<text x="1392" y="56" font-size="15" fill="#888" style="font-family:'Liberation Serif',serif">a.</text>
<text x="1391" y="230" font-size="15" fill="#888" style="font-family:'Liberation Serif',serif">b.</text>
<text x="1390" y="404" font-size="15" fill="#888" style="font-family:'Liberation Serif',serif">c.</text>
<text x="1722" y="302" font-size="15" fill="#888" style="font-family:'Liberation Serif',serif">a.</text>
<text x="1722" y="472" font-size="15" fill="#888" style="font-family:'Liberation Serif',serif">b.</text>
<text x="1722" y="657" font-size="15" fill="#888" style="font-family:'Liberation Serif',serif">c.</text>
<polyline points="1471.2,120.8 1541.2,150.8 1561.2,200.8 1531.2,240.8" fill="none" stroke="#eceeee" stroke-width="1.2" stroke-linejoin="round" stroke-linecap="round" />
<polyline points="1501.2,150.8 1561.2,140.8" fill="none" stroke="#eceeee" stroke-width="1.2" stroke-linejoin="round" stroke-linecap="round" />
<polyline points="1491.2,190.8 1551.2,230.8 1521.2,270.8" fill="none" stroke="#eceeee" stroke-width="1.2" stroke-linejoin="round" stroke-linecap="round" />
<polyline points="1521.2,230.8 1561.2,280.8" fill="none" stroke="#eceeee" stroke-width="1.2" stroke-linejoin="round" stroke-linecap="round" />
<polygon points="1399.5,85.0 1459.5,100.8 1472.0,132.5 1482.0,150.8 1504.5,210.0 1487.9,215.8 1496.2,235.8 1492.9,240.8 1469.5,207.5 1475.4,197.5 1458.7,160.8 1439.5,165.8 1422.0,129.1" fill="none" stroke="#8fb5a3" stroke-width="0.9"/>
<polyline points="1422.0,129.1 1472.0,132.5" fill="none" stroke="#8fb5a3" stroke-width="0.8" stroke-linejoin="round" stroke-linecap="round" />
<polyline points="1436.2,94.8 1446.2,128.8" fill="none" stroke="#8fb5a3" stroke-width="0.8" stroke-linejoin="round" stroke-linecap="round" />
<polyline points="1402.2,90.8 1425.2,130.8" fill="none" stroke="#8fb5a3" stroke-width="0.6" stroke-linejoin="round" stroke-linecap="round" />
<polyline points="1459.2,135.8 1475.2,197.8" fill="none" stroke="#8fb5a3" stroke-width="0.8" stroke-linejoin="round" stroke-linecap="round" />
<rect x="1400.5" y="87.0" width="5" height="5" fill="#3b8f6a"/>
<rect x="1453.5" y="135.0" width="3.5" height="3.5" fill="#3b8f6a"/>
<polyline points="1468.7,293.3 1538.7,323.3 1558.7,373.3 1528.7,413.3" fill="none" stroke="#eceeee" stroke-width="1.2" stroke-linejoin="round" stroke-linecap="round" />
<polyline points="1498.7,323.3 1558.7,313.3" fill="none" stroke="#eceeee" stroke-width="1.2" stroke-linejoin="round" stroke-linecap="round" />
<polyline points="1488.7,363.3 1548.7,403.3 1518.7,443.3" fill="none" stroke="#eceeee" stroke-width="1.2" stroke-linejoin="round" stroke-linecap="round" />
<polyline points="1518.7,403.3 1558.7,453.3" fill="none" stroke="#eceeee" stroke-width="1.2" stroke-linejoin="round" stroke-linecap="round" />
<polygon points="1397.0,257.5 1457.0,273.3 1469.5,305.0 1479.5,323.3 1502.0,382.5 1485.4,388.3 1493.7,408.3 1490.4,413.3 1467.0,380.0 1472.9,370.0 1456.2,333.3 1437.0,338.3 1419.5,301.6" fill="none" stroke="#8fb5a3" stroke-width="0.9"/>
<polyline points="1419.5,301.6 1469.5,305.0" fill="none" stroke="#8fb5a3" stroke-width="0.8" stroke-linejoin="round" stroke-linecap="round" />
<polyline points="1433.7,267.3 1443.7,301.3" fill="none" stroke="#8fb5a3" stroke-width="0.8" stroke-linejoin="round" stroke-linecap="round" />
<polyline points="1399.7,263.3 1422.7,303.3" fill="none" stroke="#8fb5a3" stroke-width="0.6" stroke-linejoin="round" stroke-linecap="round" />
<polyline points="1456.7,308.3 1472.7,370.3" fill="none" stroke="#8fb5a3" stroke-width="0.8" stroke-linejoin="round" stroke-linecap="round" />
<rect x="1398.0" y="259.5" width="5" height="5" fill="#3b8f6a"/>
<rect x="1451.0" y="307.5" width="3.5" height="3.5" fill="#3b8f6a"/>
<polyline points="1467.2,469.8 1537.2,499.8 1557.2,549.8 1527.2,589.8" fill="none" stroke="#eceeee" stroke-width="1.2" stroke-linejoin="round" stroke-linecap="round" />
<polyline points="1497.2,499.8 1557.2,489.8" fill="none" stroke="#eceeee" stroke-width="1.2" stroke-linejoin="round" stroke-linecap="round" />
<polyline points="1487.2,539.8 1547.2,579.8 1517.2,619.8" fill="none" stroke="#eceeee" stroke-width="1.2" stroke-linejoin="round" stroke-linecap="round" />
<polyline points="1517.2,579.8 1557.2,629.8" fill="none" stroke="#eceeee" stroke-width="1.2" stroke-linejoin="round" stroke-linecap="round" />
<polygon points="1395.5,434.0 1455.5,449.8 1468.0,481.5 1478.0,499.8 1487.2,524.8 1462.2,529.8 1454.7,509.8 1435.5,514.8 1418.0,478.1" fill="#b9c6d4" opacity="0.8"/>
<polyline points="1402.2,441.8 1430.2,503.8" fill="none" stroke="#eef2f5" stroke-width="1.6" stroke-linejoin="round" stroke-linecap="round" />
<polyline points="1411.2,444.8 1439.2,506.8" fill="none" stroke="#eef2f5" stroke-width="1.6" stroke-linejoin="round" stroke-linecap="round" />
<polyline points="1420.2,447.8 1448.2,509.8" fill="none" stroke="#eef2f5" stroke-width="1.6" stroke-linejoin="round" stroke-linecap="round" />
<polyline points="1429.2,450.8 1457.2,512.8" fill="none" stroke="#eef2f5" stroke-width="1.6" stroke-linejoin="round" stroke-linecap="round" />
<polyline points="1438.2,453.8 1466.2,515.8" fill="none" stroke="#eef2f5" stroke-width="1.6" stroke-linejoin="round" stroke-linecap="round" />
<polyline points="1447.2,456.8 1475.2,518.8" fill="none" stroke="#eef2f5" stroke-width="1.6" stroke-linejoin="round" stroke-linecap="round" />
<polyline points="1407.2,449.8 1455.2,461.8" fill="none" stroke="#eef2f5" stroke-width="1.6" stroke-linejoin="round" stroke-linecap="round" />
<polyline points="1413.2,465.8 1461.2,477.8" fill="none" stroke="#eef2f5" stroke-width="1.6" stroke-linejoin="round" stroke-linecap="round" />
<polyline points="1419.2,481.8 1467.2,493.8" fill="none" stroke="#eef2f5" stroke-width="1.6" stroke-linejoin="round" stroke-linecap="round" />
<polyline points="1425.2,497.8 1473.2,509.8" fill="none" stroke="#eef2f5" stroke-width="1.6" stroke-linejoin="round" stroke-linecap="round" />
<polygon points="1395.5,434.0 1455.5,449.8 1468.0,481.5 1478.0,499.8 1500.5,559.0 1483.9,564.8 1492.2,584.8 1488.9,589.8 1465.5,556.5 1471.4,546.5 1454.7,509.8 1435.5,514.8 1418.0,478.1" fill="none" stroke="#8fb5a3" stroke-width="0.9"/>
<polyline points="1418.0,478.1 1468.0,481.5" fill="none" stroke="#8fb5a3" stroke-width="0.8" stroke-linejoin="round" stroke-linecap="round" />
<polyline points="1432.2,443.8 1442.2,477.8" fill="none" stroke="#8fb5a3" stroke-width="0.8" stroke-linejoin="round" stroke-linecap="round" />
<polyline points="1398.2,439.8 1421.2,479.8" fill="none" stroke="#8fb5a3" stroke-width="0.6" stroke-linejoin="round" stroke-linecap="round" />
<polyline points="1455.2,484.8 1471.2,546.8" fill="none" stroke="#8fb5a3" stroke-width="0.8" stroke-linejoin="round" stroke-linecap="round" />
<rect x="1396.5" y="436.0" width="5" height="5" fill="#3b8f6a"/>
<rect x="1449.5" y="484.0" width="3.5" height="3.5" fill="#3b8f6a"/>
<polyline points="1631.2,248.3 1701.2,278.3 1721.2,328.3 1691.2,368.3" fill="none" stroke="#eceeee" stroke-width="1.2" stroke-linejoin="round" stroke-linecap="round" />
<polyline points="1661.2,278.3 1721.2,268.3" fill="none" stroke="#eceeee" stroke-width="1.2" stroke-linejoin="round" stroke-linecap="round" />
<polyline points="1651.2,318.3 1711.2,358.3 1681.2,398.3" fill="none" stroke="#eceeee" stroke-width="1.2" stroke-linejoin="round" stroke-linecap="round" />
<polyline points="1681.2,358.3 1721.2,408.3" fill="none" stroke="#eceeee" stroke-width="1.2" stroke-linejoin="round" stroke-linecap="round" />
<polygon points="1559.5,212.5 1619.5,228.3 1632.0,260.0 1642.0,278.3 1651.2,303.3 1626.2,308.3 1618.7,288.3 1599.5,293.3 1582.0,256.6" fill="#b9c6d4" opacity="0.8"/>
<polyline points="1566.2,220.3 1594.2,282.3" fill="none" stroke="#eef2f5" stroke-width="1.6" stroke-linejoin="round" stroke-linecap="round" />
<polyline points="1575.2,223.3 1603.2,285.3" fill="none" stroke="#eef2f5" stroke-width="1.6" stroke-linejoin="round" stroke-linecap="round" />
<polyline points="1584.2,226.3 1612.2,288.3" fill="none" stroke="#eef2f5" stroke-width="1.6" stroke-linejoin="round" stroke-linecap="round" />
<polyline points="1593.2,229.3 1621.2,291.3" fill="none" stroke="#eef2f5" stroke-width="1.6" stroke-linejoin="round" stroke-linecap="round" />
<polyline points="1602.2,232.3 1630.2,294.3" fill="none" stroke="#eef2f5" stroke-width="1.6" stroke-linejoin="round" stroke-linecap="round" />
<polyline points="1611.2,235.3 1639.2,297.3" fill="none" stroke="#eef2f5" stroke-width="1.6" stroke-linejoin="round" stroke-linecap="round" />
<polyline points="1571.2,228.3 1619.2,240.3" fill="none" stroke="#eef2f5" stroke-width="1.6" stroke-linejoin="round" stroke-linecap="round" />
<polyline points="1577.2,244.3 1625.2,256.3" fill="none" stroke="#eef2f5" stroke-width="1.6" stroke-linejoin="round" stroke-linecap="round" />
<polyline points="1583.2,260.3 1631.2,272.3" fill="none" stroke="#eef2f5" stroke-width="1.6" stroke-linejoin="round" stroke-linecap="round" />
<polyline points="1589.2,276.3 1637.2,288.3" fill="none" stroke="#eef2f5" stroke-width="1.6" stroke-linejoin="round" stroke-linecap="round" />
<polygon points="1559.5,212.5 1619.5,228.3 1632.0,260.0 1642.0,278.3 1664.5,337.5 1647.9,343.3 1656.2,363.3 1652.9,368.3 1629.5,335.0 1635.4,325.0 1618.7,288.3 1599.5,293.3 1582.0,256.6" fill="none" stroke="#8fb5a3" stroke-width="0.9"/>
<polyline points="1582.0,256.6 1632.0,260.0" fill="none" stroke="#8fb5a3" stroke-width="0.8" stroke-linejoin="round" stroke-linecap="round" />
<polyline points="1596.2,222.3 1606.2,256.3" fill="none" stroke="#8fb5a3" stroke-width="0.8" stroke-linejoin="round" stroke-linecap="round" />
<polyline points="1562.2,218.3 1585.2,258.3" fill="none" stroke="#8fb5a3" stroke-width="0.6" stroke-linejoin="round" stroke-linecap="round" />
<polyline points="1619.2,263.3 1635.2,325.3" fill="none" stroke="#8fb5a3" stroke-width="0.8" stroke-linejoin="round" stroke-linecap="round" />
<rect x="1560.5" y="214.5" width="5" height="5" fill="#3b8f6a"/>
<rect x="1613.5" y="262.5" width="3.5" height="3.5" fill="#3b8f6a"/>
<polyline points="1629.7,420.8 1699.7,450.8 1719.7,500.8 1689.7,540.8" fill="none" stroke="#eceeee" stroke-width="1.2" stroke-linejoin="round" stroke-linecap="round" />
<polyline points="1659.7,450.8 1719.7,440.8" fill="none" stroke="#eceeee" stroke-width="1.2" stroke-linejoin="round" stroke-linecap="round" />
<polyline points="1649.7,490.8 1709.7,530.8 1679.7,570.8" fill="none" stroke="#eceeee" stroke-width="1.2" stroke-linejoin="round" stroke-linecap="round" />
<polyline points="1679.7,530.8 1719.7,580.8" fill="none" stroke="#eceeee" stroke-width="1.2" stroke-linejoin="round" stroke-linecap="round" />
<polygon points="1558.0,385.0 1618.0,400.8 1630.5,432.5 1640.5,450.8 1649.7,475.8 1624.7,480.8 1617.2,460.8 1598.0,465.8 1580.5,429.1" fill="#b9c6d4" opacity="0.8"/>
<polyline points="1564.7,392.8 1592.7,454.8" fill="none" stroke="#eef2f5" stroke-width="1.6" stroke-linejoin="round" stroke-linecap="round" />
<polyline points="1573.7,395.8 1601.7,457.8" fill="none" stroke="#eef2f5" stroke-width="1.6" stroke-linejoin="round" stroke-linecap="round" />
<polyline points="1582.7,398.8 1610.7,460.8" fill="none" stroke="#eef2f5" stroke-width="1.6" stroke-linejoin="round" stroke-linecap="round" />
<polyline points="1591.7,401.8 1619.7,463.8" fill="none" stroke="#eef2f5" stroke-width="1.6" stroke-linejoin="round" stroke-linecap="round" />
<polyline points="1600.7,404.8 1628.7,466.8" fill="none" stroke="#eef2f5" stroke-width="1.6" stroke-linejoin="round" stroke-linecap="round" />
<polyline points="1609.7,407.8 1637.7,469.8" fill="none" stroke="#eef2f5" stroke-width="1.6" stroke-linejoin="round" stroke-linecap="round" />
<polyline points="1569.7,400.8 1617.7,412.8" fill="none" stroke="#eef2f5" stroke-width="1.6" stroke-linejoin="round" stroke-linecap="round" />
<polyline points="1575.7,416.8 1623.7,428.8" fill="none" stroke="#eef2f5" stroke-width="1.6" stroke-linejoin="round" stroke-linecap="round" />
<polyline points="1581.7,432.8 1629.7,444.8" fill="none" stroke="#eef2f5" stroke-width="1.6" stroke-linejoin="round" stroke-linecap="round" />
<polyline points="1587.7,448.8 1635.7,460.8" fill="none" stroke="#eef2f5" stroke-width="1.6" stroke-linejoin="round" stroke-linecap="round" />
<polygon points="1558.0,385.0 1618.0,400.8 1630.5,432.5 1640.5,450.8 1663.0,510.0 1646.4,515.8 1654.7,535.8 1651.4,540.8 1628.0,507.5 1633.9,497.5 1617.2,460.8 1598.0,465.8 1580.5,429.1" fill="none" stroke="#8fb5a3" stroke-width="0.9"/>
<polyline points="1580.5,429.1 1630.5,432.5" fill="none" stroke="#8fb5a3" stroke-width="0.8" stroke-linejoin="round" stroke-linecap="round" />
<polyline points="1594.7,394.8 1604.7,428.8" fill="none" stroke="#8fb5a3" stroke-width="0.8" stroke-linejoin="round" stroke-linecap="round" />
<polyline points="1560.7,390.8 1583.7,430.8" fill="none" stroke="#8fb5a3" stroke-width="0.6" stroke-linejoin="round" stroke-linecap="round" />
<polyline points="1617.7,435.8 1633.7,497.8" fill="none" stroke="#8fb5a3" stroke-width="0.8" stroke-linejoin="round" stroke-linecap="round" />
<rect x="1559.0" y="387.0" width="5" height="5" fill="#3b8f6a"/>
<rect x="1612.0" y="435.0" width="3.5" height="3.5" fill="#3b8f6a"/>
<polyline points="1628.7,598.3 1698.7,628.3 1718.7,678.3 1688.7,718.3" fill="none" stroke="#eceeee" stroke-width="1.2" stroke-linejoin="round" stroke-linecap="round" />
<polyline points="1658.7,628.3 1718.7,618.3" fill="none" stroke="#eceeee" stroke-width="1.2" stroke-linejoin="round" stroke-linecap="round" />
<polyline points="1648.7,668.3 1708.7,708.3 1678.7,748.3" fill="none" stroke="#eceeee" stroke-width="1.2" stroke-linejoin="round" stroke-linecap="round" />
<polyline points="1678.7,708.3 1718.7,758.3" fill="none" stroke="#eceeee" stroke-width="1.2" stroke-linejoin="round" stroke-linecap="round" />
<polygon points="1557.0,562.5 1617.0,578.3 1629.5,610.0 1639.5,628.3 1648.7,653.3 1623.7,658.3 1616.2,638.3 1597.0,643.3 1579.5,606.6" fill="#b9c6d4" opacity="0.8"/>
<polyline points="1563.7,570.3 1591.7,632.3" fill="none" stroke="#eef2f5" stroke-width="1.6" stroke-linejoin="round" stroke-linecap="round" />
<polyline points="1572.7,573.3 1600.7,635.3" fill="none" stroke="#eef2f5" stroke-width="1.6" stroke-linejoin="round" stroke-linecap="round" />
<polyline points="1581.7,576.3 1609.7,638.3" fill="none" stroke="#eef2f5" stroke-width="1.6" stroke-linejoin="round" stroke-linecap="round" />
<polyline points="1590.7,579.3 1618.7,641.3" fill="none" stroke="#eef2f5" stroke-width="1.6" stroke-linejoin="round" stroke-linecap="round" />
<polyline points="1599.7,582.3 1627.7,644.3" fill="none" stroke="#eef2f5" stroke-width="1.6" stroke-linejoin="round" stroke-linecap="round" />
<polyline points="1608.7,585.3 1636.7,647.3" fill="none" stroke="#eef2f5" stroke-width="1.6" stroke-linejoin="round" stroke-linecap="round" />
<polyline points="1568.7,578.3 1616.7,590.3" fill="none" stroke="#eef2f5" stroke-width="1.6" stroke-linejoin="round" stroke-linecap="round" />
<polyline points="1574.7,594.3 1622.7,606.3" fill="none" stroke="#eef2f5" stroke-width="1.6" stroke-linejoin="round" stroke-linecap="round" />
<polyline points="1580.7,610.3 1628.7,622.3" fill="none" stroke="#eef2f5" stroke-width="1.6" stroke-linejoin="round" stroke-linecap="round" />
<polyline points="1586.7,626.3 1634.7,638.3" fill="none" stroke="#eef2f5" stroke-width="1.6" stroke-linejoin="round" stroke-linecap="round" />
<polygon points="1557.0,562.5 1617.0,578.3 1629.5,610.0 1639.5,628.3 1662.0,687.5 1645.4,693.3 1653.7,713.3 1650.4,718.3 1627.0,685.0 1632.9,675.0 1616.2,638.3 1597.0,643.3 1579.5,606.6" fill="none" stroke="#8fb5a3" stroke-width="0.9"/>
<polyline points="1579.5,606.6 1629.5,610.0" fill="none" stroke="#8fb5a3" stroke-width="0.8" stroke-linejoin="round" stroke-linecap="round" />
<polyline points="1593.7,572.3 1603.7,606.3" fill="none" stroke="#8fb5a3" stroke-width="0.8" stroke-linejoin="round" stroke-linecap="round" />
<polyline points="1559.7,568.3 1582.7,608.3" fill="none" stroke="#8fb5a3" stroke-width="0.6" stroke-linejoin="round" stroke-linecap="round" />
<polyline points="1616.7,613.3 1632.7,675.3" fill="none" stroke="#8fb5a3" stroke-width="0.8" stroke-linejoin="round" stroke-linecap="round" />
<rect x="1558.0" y="564.5" width="5" height="5" fill="#3b8f6a"/>
<rect x="1611.0" y="612.5" width="3.5" height="3.5" fill="#3b8f6a"/>
<polyline points="1800.0,360.0 1850.0,380.0 1880.0,430.0 1850.0,470.0" fill="none" stroke="#efefef" stroke-width="1.2" stroke-linejoin="round" stroke-linecap="round" />
<polyline points="1830.0,420.0 1880.0,410.0" fill="none" stroke="#efefef" stroke-width="1.2" stroke-linejoin="round" stroke-linecap="round" />
<polyline points="1840.0,480.0 1880.0,520.0 1860.0,550.0" fill="none" stroke="#efefef" stroke-width="1.2" stroke-linejoin="round" stroke-linecap="round" />
<polygon points="1757.7,348.3 1766.0,350.0 1771.0,361.7 1762.7,360.0" fill="#d9dadb" stroke="#222" stroke-width="0.9"/>
<polygon points="1784.3,350.0 1794.3,351.7 1797.7,363.3 1788.7,361.7" fill="#d9dadb" stroke="#222" stroke-width="0.9"/>
<polygon points="1767.7,401.7 1776.0,403.3 1781.0,413.3 1772.7,413.3" fill="#d9dadb" stroke="#222" stroke-width="0.9"/>
<polygon points="1797.7,401.7 1809.3,405.0 1814.3,416.7 1802.7,415.0" fill="#d9dadb" stroke="#222" stroke-width="0.9"/>
<polygon points="1792.7,441.7 1799.3,438.3 1836.0,491.7 1829.3,496.7" fill="#dcdcdc" stroke="#222" stroke-width="0.9"/>
<polygon points="1819.3,446.7 1832.7,445.0 1836.0,452.0 1841.0,451.0 1846.0,464.0 1829.3,470.0" fill="#dcdcdc" stroke="#222" stroke-width="0.9"/>
<polygon points="1772.0,340.0 1775.0,341.0 1773.0,343.5" fill="#222"/>
<polygon points="1802.0,368.0 1805.0,369.0 1803.0,371.5" fill="#222"/>
<polygon points="1816.0,424.0 1819.0,425.0 1817.0,427.5" fill="#222"/>
<polygon points="1785.0,428.0 1788.0,429.0 1786.0,431.5" fill="#222"/>
<polygon points="1848.0,472.0 1851.0,473.0 1849.0,475.5" fill="#222"/>
<polygon points="1822.0,500.0 1825.0,501.0 1823.0,503.5" fill="#222"/>
<polyline points="1800.3,538.0 1850.3,558.0 1880.3,608.0 1850.3,648.0" fill="none" stroke="#efefef" stroke-width="1.2" stroke-linejoin="round" stroke-linecap="round" />
<polyline points="1830.3,598.0 1880.3,588.0" fill="none" stroke="#efefef" stroke-width="1.2" stroke-linejoin="round" stroke-linecap="round" />
<polyline points="1840.3,658.0 1880.3,698.0 1860.3,728.0" fill="none" stroke="#efefef" stroke-width="1.2" stroke-linejoin="round" stroke-linecap="round" />
<polyline points="1745.3,518.0 1790.3,553.0 1800.3,598.0 1850.3,648.0 1870.3,698.0" fill="none" stroke="#e9a3bd" stroke-width="0.9" stroke-linejoin="round" stroke-linecap="round" />
<polyline points="1750.3,553.0 1810.3,563.0 1835.3,573.0" fill="none" stroke="#e9a3bd" stroke-width="0.9" stroke-linejoin="round" stroke-linecap="round" />
<polyline points="1760.3,508.0 1775.3,573.0 1790.3,618.0" fill="none" stroke="#e9a3bd" stroke-width="0.9" stroke-linejoin="round" stroke-linecap="round" />
<polyline points="1790.3,513.0 1800.3,558.0 1830.3,618.0" fill="none" stroke="#e9a3bd" stroke-width="0.9" stroke-linejoin="round" stroke-linecap="round" />
<polyline points="1745.3,573.0 1790.3,578.0 1830.3,598.0" fill="none" stroke="#e9a3bd" stroke-width="0.9" stroke-linejoin="round" stroke-linecap="round" />
<polyline points="1770.3,603.0 1815.3,610.0" fill="none" stroke="#e9a3bd" stroke-width="0.9" stroke-linejoin="round" stroke-linecap="round" />
<rect x="1752.3" y="550.0" width="3" height="3" fill="#f0df70"/>
<rect x="1783.3" y="521.0" width="3" height="3" fill="#f0df70"/>
<rect x="1812.3" y="570.0" width="3" height="3" fill="#f0df70"/>
<rect x="1790.3" y="608.0" width="3" height="3" fill="#f0df70"/>
<rect x="1760.3" y="596.0" width="3" height="3" fill="#f0df70"/>
<polygon points="1758.0,526.3 1766.3,528.0 1771.3,539.7 1763.0,538.0" fill="#d9dadb" stroke="#222" stroke-width="0.9"/>
<polygon points="1784.6,528.0 1794.6,529.7 1798.0,541.3 1789.0,539.7" fill="#d9dadb" stroke="#222" stroke-width="0.9"/>
<polygon points="1768.0,579.7 1776.3,581.3 1781.3,591.3 1773.0,591.3" fill="#d9dadb" stroke="#222" stroke-width="0.9"/>
<polygon points="1798.0,579.7 1809.6,583.0 1814.6,594.7 1803.0,593.0" fill="#d9dadb" stroke="#222" stroke-width="0.9"/>
<polygon points="1793.0,619.7 1799.6,616.3 1836.3,669.7 1829.6,674.7" fill="#dcdcdc" stroke="#222" stroke-width="0.9"/>
<polygon points="1819.6,624.7 1833.0,623.0 1836.3,630.0 1841.3,629.0 1846.3,642.0 1829.6,648.0" fill="#dcdcdc" stroke="#222" stroke-width="0.9"/>
<polygon points="1772.3,518.0 1775.3,519.0 1773.3,521.5" fill="#222"/>
<polygon points="1802.3,546.0 1805.3,547.0 1803.3,549.5" fill="#222"/>
<polygon points="1816.3,602.0 1819.3,603.0 1817.3,605.5" fill="#222"/>
<polygon points="1785.3,606.0 1788.3,607.0 1786.3,609.5" fill="#222"/>
<polygon points="1848.3,650.0 1851.3,651.0 1849.3,653.5" fill="#222"/>
<polygon points="1822.3,678.0 1825.3,679.0 1823.3,681.5" fill="#222"/>
<polyline points="1801.0,716.0 1851.0,736.0 1881.0,786.0 1851.0,826.0" fill="none" stroke="#efefef" stroke-width="1.2" stroke-linejoin="round" stroke-linecap="round" />
<polyline points="1831.0,776.0 1881.0,766.0" fill="none" stroke="#efefef" stroke-width="1.2" stroke-linejoin="round" stroke-linecap="round" />
<polyline points="1841.0,836.0 1881.0,876.0 1861.0,906.0" fill="none" stroke="#efefef" stroke-width="1.2" stroke-linejoin="round" stroke-linecap="round" />
<polyline points="1746.0,696.0 1791.0,731.0 1801.0,776.0 1851.0,826.0 1871.0,876.0" fill="none" stroke="#e9a3bd" stroke-width="0.9" stroke-linejoin="round" stroke-linecap="round" />
<polyline points="1751.0,731.0 1811.0,741.0 1836.0,751.0" fill="none" stroke="#e9a3bd" stroke-width="0.9" stroke-linejoin="round" stroke-linecap="round" />
<polyline points="1761.0,686.0 1776.0,751.0 1791.0,796.0" fill="none" stroke="#e9a3bd" stroke-width="0.9" stroke-linejoin="round" stroke-linecap="round" />
<polyline points="1791.0,691.0 1801.0,736.0 1831.0,796.0" fill="none" stroke="#e9a3bd" stroke-width="0.9" stroke-linejoin="round" stroke-linecap="round" />
<polyline points="1746.0,751.0 1791.0,756.0 1831.0,776.0" fill="none" stroke="#e9a3bd" stroke-width="0.9" stroke-linejoin="round" stroke-linecap="round" />
<polyline points="1771.0,781.0 1816.0,788.0" fill="none" stroke="#e9a3bd" stroke-width="0.9" stroke-linejoin="round" stroke-linecap="round" />
<rect x="1753.0" y="728.0" width="3" height="3" fill="#f0df70"/>
<rect x="1784.0" y="699.0" width="3" height="3" fill="#f0df70"/>
<rect x="1813.0" y="748.0" width="3" height="3" fill="#f0df70"/>
<rect x="1791.0" y="786.0" width="3" height="3" fill="#f0df70"/>
<rect x="1761.0" y="774.0" width="3" height="3" fill="#f0df70"/>
<polygon points="1758.7,704.3 1767.0,706.0 1772.0,717.7 1763.7,716.0" fill="#d9dadb" stroke="#222" stroke-width="0.9"/>
<polygon points="1785.3,706.0 1795.3,707.7 1798.7,719.3 1789.7,717.7" fill="#d9dadb" stroke="#222" stroke-width="0.9"/>
<polygon points="1768.7,757.7 1777.0,759.3 1782.0,769.3 1773.7,769.3" fill="#d9dadb" stroke="#222" stroke-width="0.9"/>
<polygon points="1798.7,757.7 1810.3,761.0 1815.3,772.7 1803.7,771.0" fill="#d9dadb" stroke="#222" stroke-width="0.9"/>
<polygon points="1793.7,797.7 1800.3,794.3 1837.0,847.7 1830.3,852.7" fill="#dcdcdc" stroke="#222" stroke-width="0.9"/>
<polygon points="1820.3,802.7 1833.7,801.0 1837.0,808.0 1842.0,807.0 1847.0,820.0 1830.3,826.0" fill="#dcdcdc" stroke="#222" stroke-width="0.9"/>
<polygon points="1773.0,696.0 1776.0,697.0 1774.0,699.5" fill="#222"/>
<polygon points="1803.0,724.0 1806.0,725.0 1804.0,727.5" fill="#222"/>
<polygon points="1817.0,780.0 1820.0,781.0 1818.0,783.5" fill="#222"/>
<polygon points="1786.0,784.0 1789.0,785.0 1787.0,787.5" fill="#222"/>
<polygon points="1849.0,828.0 1852.0,829.0 1850.0,831.5" fill="#222"/>
<polygon points="1823.0,856.0 1826.0,857.0 1824.0,859.5" fill="#222"/>
<polyline points="1961.3,501.7 2011.3,521.7 2041.3,571.7 2011.3,611.7" fill="none" stroke="#efefef" stroke-width="1.2" stroke-linejoin="round" stroke-linecap="round" />
<polyline points="1991.3,561.7 2041.3,551.7" fill="none" stroke="#efefef" stroke-width="1.2" stroke-linejoin="round" stroke-linecap="round" />
<polyline points="2001.3,621.7 2041.3,661.7 2021.3,691.7" fill="none" stroke="#efefef" stroke-width="1.2" stroke-linejoin="round" stroke-linecap="round" />
<polyline points="1906.3,481.7 1951.3,516.7 1961.3,561.7 2011.3,611.7 2031.3,661.7" fill="none" stroke="#e9a3bd" stroke-width="0.9" stroke-linejoin="round" stroke-linecap="round" />
<polyline points="1911.3,516.7 1971.3,526.7 1996.3,536.7" fill="none" stroke="#e9a3bd" stroke-width="0.9" stroke-linejoin="round" stroke-linecap="round" />
<polyline points="1921.3,471.7 1936.3,536.7 1951.3,581.7" fill="none" stroke="#e9a3bd" stroke-width="0.9" stroke-linejoin="round" stroke-linecap="round" />
<polyline points="1951.3,476.7 1961.3,521.7 1991.3,581.7" fill="none" stroke="#e9a3bd" stroke-width="0.9" stroke-linejoin="round" stroke-linecap="round" />
<polyline points="1906.3,536.7 1951.3,541.7 1991.3,561.7" fill="none" stroke="#e9a3bd" stroke-width="0.9" stroke-linejoin="round" stroke-linecap="round" />
<polyline points="1931.3,566.7 1976.3,573.7" fill="none" stroke="#e9a3bd" stroke-width="0.9" stroke-linejoin="round" stroke-linecap="round" />
<rect x="1913.3" y="513.7" width="3" height="3" fill="#f0df70"/>
<rect x="1944.3" y="484.7" width="3" height="3" fill="#f0df70"/>
<rect x="1973.3" y="533.7" width="3" height="3" fill="#f0df70"/>
<rect x="1951.3" y="571.7" width="3" height="3" fill="#f0df70"/>
<rect x="1921.3" y="559.7" width="3" height="3" fill="#f0df70"/>
<polygon points="1939.3,537.7 1976.3,543.7 1983.3,563.7 1947.3,559.7" fill="#cfe0d6" opacity="0.8"/>
<polygon points="1976.3,581.7 2007.3,579.7 2013.3,611.7 1987.3,617.7" fill="#cfe0d6" opacity="0.8"/>
<polygon points="1919.0,490.0 1927.3,491.7 1932.3,503.4 1924.0,501.7" fill="#d9dadb" stroke="#222" stroke-width="0.9"/>
<polygon points="1945.6,491.7 1955.6,493.4 1959.0,505.0 1950.0,503.4" fill="#d9dadb" stroke="#222" stroke-width="0.9"/>
<polygon points="1929.0,543.4 1937.3,545.0 1942.3,555.0 1934.0,555.0" fill="#d9dadb" stroke="#222" stroke-width="0.9"/>
<polygon points="1959.0,543.4 1970.6,546.7 1975.6,558.4 1964.0,556.7" fill="#d9dadb" stroke="#222" stroke-width="0.9"/>
<polygon points="1954.0,583.4 1960.6,580.0 1997.3,633.4 1990.6,638.4" fill="#dcdcdc" stroke="#222" stroke-width="0.9"/>
<polygon points="1980.6,588.4 1994.0,586.7 1997.3,593.7 2002.3,592.7 2007.3,605.7 1990.6,611.7" fill="#dcdcdc" stroke="#222" stroke-width="0.9"/>
<polygon points="1933.3,481.7 1936.3,482.7 1934.3,485.2" fill="#222"/>
<polygon points="1963.3,509.7 1966.3,510.7 1964.3,513.2" fill="#222"/>
<polygon points="1977.3,565.7 1980.3,566.7 1978.3,569.2" fill="#222"/>
<polygon points="1946.3,569.7 1949.3,570.7 1947.3,573.2" fill="#222"/>
<polygon points="2009.3,613.7 2012.3,614.7 2010.3,617.2" fill="#222"/>
<polygon points="1983.3,641.7 1986.3,642.7 1984.3,645.2" fill="#222"/>
<polyline points="1962.3,675.7 2012.3,695.7 2042.3,745.7 2012.3,785.7" fill="none" stroke="#efefef" stroke-width="1.2" stroke-linejoin="round" stroke-linecap="round" />
<polyline points="1992.3,735.7 2042.3,725.7" fill="none" stroke="#efefef" stroke-width="1.2" stroke-linejoin="round" stroke-linecap="round" />
<polyline points="2002.3,795.7 2042.3,835.7 2022.3,865.7" fill="none" stroke="#efefef" stroke-width="1.2" stroke-linejoin="round" stroke-linecap="round" />
<polyline points="1907.3,655.7 1952.3,690.7 1962.3,735.7 2012.3,785.7 2032.3,835.7" fill="none" stroke="#e9a3bd" stroke-width="0.9" stroke-linejoin="round" stroke-linecap="round" />
<polyline points="1912.3,690.7 1972.3,700.7 1997.3,710.7" fill="none" stroke="#e9a3bd" stroke-width="0.9" stroke-linejoin="round" stroke-linecap="round" />
<polyline points="1922.3,645.7 1937.3,710.7 1952.3,755.7" fill="none" stroke="#e9a3bd" stroke-width="0.9" stroke-linejoin="round" stroke-linecap="round" />
<polyline points="1952.3,650.7 1962.3,695.7 1992.3,755.7" fill="none" stroke="#e9a3bd" stroke-width="0.9" stroke-linejoin="round" stroke-linecap="round" />
<polyline points="1907.3,710.7 1952.3,715.7 1992.3,735.7" fill="none" stroke="#e9a3bd" stroke-width="0.9" stroke-linejoin="round" stroke-linecap="round" />
<polyline points="1932.3,740.7 1977.3,747.7" fill="none" stroke="#e9a3bd" stroke-width="0.9" stroke-linejoin="round" stroke-linecap="round" />
<rect x="1914.3" y="687.7" width="3" height="3" fill="#f0df70"/>
<rect x="1945.3" y="658.7" width="3" height="3" fill="#f0df70"/>
<rect x="1974.3" y="707.7" width="3" height="3" fill="#f0df70"/>
<rect x="1952.3" y="745.7" width="3" height="3" fill="#f0df70"/>
<rect x="1922.3" y="733.7" width="3" height="3" fill="#f0df70"/>
<polygon points="1940.3,711.7 1977.3,717.7 1984.3,737.7 1948.3,733.7" fill="#cfe0d6" opacity="0.8"/>
<polygon points="1977.3,755.7 2008.3,753.7 2014.3,785.7 1988.3,791.7" fill="#cfe0d6" opacity="0.8"/>
<polygon points="1920.0,664.0 1928.3,665.7 1933.3,677.4 1925.0,675.7" fill="#d9dadb" stroke="#222" stroke-width="0.9"/>
<polygon points="1946.6,665.7 1956.6,667.4 1960.0,679.0 1951.0,677.4" fill="#d9dadb" stroke="#222" stroke-width="0.9"/>
<polygon points="1930.0,717.4 1938.3,719.0 1943.3,729.0 1935.0,729.0" fill="#d9dadb" stroke="#222" stroke-width="0.9"/>
<polygon points="1960.0,717.4 1971.6,720.7 1976.6,732.4 1965.0,730.7" fill="#d9dadb" stroke="#222" stroke-width="0.9"/>
<polygon points="1955.0,757.4 1961.6,754.0 1998.3,807.4 1991.6,812.4" fill="#dcdcdc" stroke="#222" stroke-width="0.9"/>
<polygon points="1981.6,762.4 1995.0,760.7 1998.3,767.7 2003.3,766.7 2008.3,779.7 1991.6,785.7" fill="#dcdcdc" stroke="#222" stroke-width="0.9"/>
<polygon points="1934.3,655.7 1937.3,656.7 1935.3,659.2" fill="#222"/>
<polygon points="1964.3,683.7 1967.3,684.7 1965.3,687.2" fill="#222"/>
<polygon points="1978.3,739.7 1981.3,740.7 1979.3,743.2" fill="#222"/>
<polygon points="1947.3,743.7 1950.3,744.7 1948.3,747.2" fill="#222"/>
<polygon points="2010.3,787.7 2013.3,788.7 2011.3,791.2" fill="#222"/>
<polygon points="1984.3,815.7 1987.3,816.7 1985.3,819.2" fill="#222"/>
<polyline points="1962.3,855.7 2012.3,875.7 2042.3,925.7 2012.3,965.7" fill="none" stroke="#efefef" stroke-width="1.2" stroke-linejoin="round" stroke-linecap="round" />
<polyline points="1992.3,915.7 2042.3,905.7" fill="none" stroke="#efefef" stroke-width="1.2" stroke-linejoin="round" stroke-linecap="round" />
<polyline points="2002.3,975.7 2042.3,1015.7 2022.3,1045.7" fill="none" stroke="#efefef" stroke-width="1.2" stroke-linejoin="round" stroke-linecap="round" />
<polyline points="1907.3,835.7 1952.3,870.7 1962.3,915.7 2012.3,965.7 2032.3,1015.7" fill="none" stroke="#e9a3bd" stroke-width="0.9" stroke-linejoin="round" stroke-linecap="round" />
<polyline points="1912.3,870.7 1972.3,880.7 1997.3,890.7" fill="none" stroke="#e9a3bd" stroke-width="0.9" stroke-linejoin="round" stroke-linecap="round" />
<polyline points="1922.3,825.7 1937.3,890.7 1952.3,935.7" fill="none" stroke="#e9a3bd" stroke-width="0.9" stroke-linejoin="round" stroke-linecap="round" />
<polyline points="1952.3,830.7 1962.3,875.7 1992.3,935.7" fill="none" stroke="#e9a3bd" stroke-width="0.9" stroke-linejoin="round" stroke-linecap="round" />
<polyline points="1907.3,890.7 1952.3,895.7 1992.3,915.7" fill="none" stroke="#e9a3bd" stroke-width="0.9" stroke-linejoin="round" stroke-linecap="round" />
<polyline points="1932.3,920.7 1977.3,927.7" fill="none" stroke="#e9a3bd" stroke-width="0.9" stroke-linejoin="round" stroke-linecap="round" />
<rect x="1914.3" y="867.7" width="3" height="3" fill="#f0df70"/>
<rect x="1945.3" y="838.7" width="3" height="3" fill="#f0df70"/>
<rect x="1974.3" y="887.7" width="3" height="3" fill="#f0df70"/>
<rect x="1952.3" y="925.7" width="3" height="3" fill="#f0df70"/>
<rect x="1922.3" y="913.7" width="3" height="3" fill="#f0df70"/>
<polygon points="1940.3,891.7 1977.3,897.7 1984.3,917.7 1948.3,913.7" fill="#cfe0d6" opacity="0.8"/>
<polygon points="1977.3,935.7 2008.3,933.7 2014.3,965.7 1988.3,971.7" fill="#cfe0d6" opacity="0.8"/>
<polygon points="1920.0,844.0 1928.3,845.7 1933.3,857.4 1925.0,855.7" fill="#d9dadb" stroke="#222" stroke-width="0.9"/>
<polygon points="1946.6,845.7 1956.6,847.4 1960.0,859.0 1951.0,857.4" fill="#d9dadb" stroke="#222" stroke-width="0.9"/>
<polygon points="1930.0,897.4 1938.3,899.0 1943.3,909.0 1935.0,909.0" fill="#d9dadb" stroke="#222" stroke-width="0.9"/>
<polygon points="1960.0,897.4 1971.6,900.7 1976.6,912.4 1965.0,910.7" fill="#d9dadb" stroke="#222" stroke-width="0.9"/>
<polygon points="1955.0,937.4 1961.6,934.0 1998.3,987.4 1991.6,992.4" fill="#dcdcdc" stroke="#222" stroke-width="0.9"/>
<polygon points="1981.6,942.4 1995.0,940.7 1998.3,947.7 2003.3,946.7 2008.3,959.7 1991.6,965.7" fill="#dcdcdc" stroke="#222" stroke-width="0.9"/>
<polygon points="1934.3,835.7 1937.3,836.7 1935.3,839.2" fill="#222"/>
<polygon points="1964.3,863.7 1967.3,864.7 1965.3,867.2" fill="#222"/>
<polygon points="1978.3,919.7 1981.3,920.7 1979.3,923.2" fill="#222"/>
<polygon points="1947.3,923.7 1950.3,924.7 1948.3,927.2" fill="#222"/>
<polygon points="2010.3,967.7 2013.3,968.7 2011.3,971.2" fill="#222"/>
<polygon points="1984.3,995.7 1987.3,996.7 1985.3,999.2" fill="#222"/>
<!-- 12_cubes_icons.svg -->
<defs>
<linearGradient id="gOr" x1="0" y1="0" x2="1" y2="1"><stop offset="0" stop-color="#f6b040"/><stop offset="0.5" stop-color="#f0901c"/><stop offset="1" stop-color="#f7b850"/></linearGradient>
<pattern id="cubes" width="13.6" height="13.6" patternUnits="userSpaceOnUse" patternTransform="skewY(-4)"><rect width="13.6" height="13.6" fill="none" stroke="#5a2a06" stroke-width="0.9"/></pattern>
<pattern id="hatch" width="13.6" height="13.6" patternUnits="userSpaceOnUse"><rect width="13.6" height="13.6" fill="none" stroke="#3a1a04" stroke-width="0.9"/><line x1="0" y1="13.6" x2="13.6" y2="0" stroke="#3a1a04" stroke-width="0.9"/></pattern>
<pattern id="wav" width="18" height="7" patternUnits="userSpaceOnUse" patternTransform="rotate(-6)"><rect width="18" height="7" fill="#86a9b3"/><path d="M0,3.5 Q4.5,0 9,3.5 T18,3.5" stroke="#b9cfd6" stroke-width="1.6" fill="none"/></pattern>
<filter id="speck" x="-20%" y="-20%" width="140%" height="140%" color-interpolation-filters="sRGB">
<feTurbulence type="fractalNoise" baseFrequency="0.75" numOctaves="1" seed="4" result="n"/>
<feComposite in="n" in2="SourceAlpha" operator="arithmetic" k1="0" k2="1" k3="1" k4="-1" result="m"/>
<feColorMatrix in="m" type="matrix" values="0 0 0 0 0  0 0 0 0 0  0 0 0 0 0  0 0 0 30 0" result="mm"/>
<feComposite in="SourceGraphic" in2="mm" operator="in" result="c"/>
<feColorMatrix in="c" type="matrix" values="1 0 0 0 0  0 1 0 0 0  0 0 1 0 0  0 0 0 1.9 0"/>
</filter>
<filter id="speck2" x="-10%" y="-10%" width="120%" height="120%" color-interpolation-filters="sRGB">
<feTurbulence type="fractalNoise" baseFrequency="0.8" numOctaves="1" seed="9" result="n"/>
<feColorMatrix in="n" type="matrix" values="0 0 0 0 0  0 0 0 0 0  0 0 0 0 0  0 0 0 10 -2.6" result="mm"/>
<feComposite in="SourceGraphic" in2="mm" operator="in"/>
</filter>
<filter id="blur6" x="-30%" y="-30%" width="160%" height="160%"><feGaussianBlur stdDeviation="6"/></filter>
</defs>
<polygon points="932.5,822.5 947.5,816.2 1020.0,810.0 1047.5,800.0 1082.5,798.8 1090.0,815.0 1112.5,813.8 1117.5,825.0 1150.0,822.5 1155.0,830.0 1155.0,867.5 1090.0,872.5 1087.5,847.5 1050.0,850.0 973.0,857.5 960.0,850.0 960.0,870.0 932.5,870.0" fill="#fbc24a" stroke="#fbc24a" stroke-width="16" stroke-linejoin="round" opacity="0.8" filter="url(#blur6)"/>
<polygon points="1211.2,850.0 1227.5,847.5 1236.2,857.5 1236.2,882.5 1225.0,885.0 1225.0,896.2 1211.2,900.0" fill="#fbc24a" stroke="#fbc24a" stroke-width="12" stroke-linejoin="round" opacity="0.7" filter="url(#blur6)"/>
<polygon points="1150.0,925.0 1160.0,917.5 1175.0,911.2 1190.0,902.5 1212.5,900.0 1225.0,896.2 1236.2,885.0 1236.2,920.0 1222.5,927.5 1150.0,930.0" fill="#fbc24a" stroke="#fbc24a" stroke-width="10" stroke-linejoin="round" opacity="0.7" filter="url(#blur6)"/>
<polygon points="765.0,843.8 777.5,840.0 791.2,862.5 792.5,907.5 780.0,902.5 766.2,875.0" fill="#fbc24a" stroke="#fbc24a" stroke-width="16" stroke-linejoin="round" opacity="0.8" filter="url(#blur6)"/>
<polygon points="797.5,840.0 825.0,850.0 825.0,915.0 797.5,910.0" fill="#fbc24a" opacity="0.55" filter="url(#blur8)"/>
<polygon points="1232.5,850.0 1255.0,850.0 1255.0,910.0 1236.2,920.0" fill="#fbc24a" opacity="0.5" filter="url(#blur8)"/>
<polygon points="932.5,822.5 947.5,816.2 1020.0,810.0 1047.5,800.0 1082.5,798.8 1090.0,815.0 1112.5,813.8 1117.5,825.0 1150.0,822.5 1155.0,830.0 1155.0,867.5 1090.0,872.5 1087.5,847.5 1050.0,850.0 973.0,857.5 960.0,850.0 960.0,870.0 932.5,870.0" fill="url(#gOr)"/><polygon points="932.5,822.5 947.5,816.2 1020.0,810.0 1047.5,800.0 1082.5,798.8 1090.0,815.0 1112.5,813.8 1117.5,825.0 1150.0,822.5 1155.0,830.0 1155.0,867.5 1090.0,872.5 1087.5,847.5 1050.0,850.0 973.0,857.5 960.0,850.0 960.0,870.0 932.5,870.0" fill="url(#cubes)" stroke="#5a2a06" stroke-width="1"/>
<polygon points="1211.2,850.0 1227.5,847.5 1236.2,857.5 1236.2,882.5 1225.0,885.0 1225.0,896.2 1211.2,900.0" fill="url(#gOr)"/><polygon points="1211.2,850.0 1227.5,847.5 1236.2,857.5 1236.2,882.5 1225.0,885.0 1225.0,896.2 1211.2,900.0" fill="url(#cubes)" stroke="#5a2a06" stroke-width="1"/>
<polygon points="1150.0,925.0 1160.0,917.5 1175.0,911.2 1190.0,902.5 1212.5,900.0 1225.0,896.2 1236.2,885.0 1236.2,920.0 1222.5,927.5 1150.0,930.0" fill="url(#gOr)"/><polygon points="1150.0,925.0 1160.0,917.5 1175.0,911.2 1190.0,902.5 1212.5,900.0 1225.0,896.2 1236.2,885.0 1236.2,920.0 1222.5,927.5 1150.0,930.0" fill="url(#hatch)" stroke="#5a2a06" stroke-width="1"/>
<polygon points="765.0,843.8 777.5,840.0 791.2,862.5 792.5,907.5 780.0,902.5 766.2,875.0" fill="url(#gOr)"/><polygon points="765.0,843.8 777.5,840.0 791.2,862.5 792.5,907.5 780.0,902.5 766.2,875.0" fill="url(#cubes)" stroke="#5a2a06" stroke-width="1"/>
<polygon points="1090.0,857.5 1100.0,853.8 1102.5,872.5 1091.2,873.8" fill="#fff" opacity="0.55"/>
<polyline points="932.5,813.8 997.5,807.5" fill="none" stroke="#1ed2e6" stroke-width="4.5" stroke-linejoin="round" stroke-linecap="butt" />
<polygon points="972.5,820.0 1048.8,813.8 1050.0,850.0 973.0,857.5" fill="url(#wav)"/>
<polyline points="972.5,820.0 1048.8,813.8 1050.0,850.0 973.0,857.5 972.5,820.0" fill="none" stroke="#000" stroke-width="4" stroke-linejoin="miter" stroke-linecap="round" />
<path d="M1307.0,806.6 A44.2,44.2 0 1 0 1253.7,858.1" fill="none" stroke="#4a211d" stroke-width="5" stroke-linecap="round"/>
<path d="M1295.2,808.4 A32.3,32.3 0 1 0 1256.9,846.6" fill="none" stroke="#4a211d" stroke-width="5" stroke-linecap="round"/>
<path d="M1256.1,813.9 C1256.1,808.5 1264.7,805.3 1273.3,810.7 L1307.8,841.9 C1303.5,829.0 1307.8,818.2 1317.5,817.7 C1325.1,818.2 1328.8,823.6 1330.5,829.0 L1343.4,876.4 C1345.0,885.1 1343.4,890.5 1339.1,895.8 L1314.3,916.3 C1305.7,921.7 1297.0,921.7 1291.6,918.5 L1258.2,896.9 C1250.7,891.5 1250.7,881.8 1258.2,878.6 C1256.1,874.3 1257.1,870.0 1262.0,867.8 C1261.5,862.4 1263.6,858.1 1269.0,856.0 C1269.0,850.6 1270.1,847.3 1274.4,845.7 L1258.2,825.8 C1255.5,821.5 1255.0,817.1 1256.1,813.9 Z" fill="#fff" stroke="#4a211d" stroke-width="5" stroke-linejoin="round"/>
<polyline points="1274.4,845.7 1285.2,853.8" fill="none" stroke="#4a211d" stroke-width="5" stroke-linejoin="round" stroke-linecap="round" />
<polyline points="1263.6,863.5 1276.5,866.7" fill="none" stroke="#4a211d" stroke-width="5" stroke-linejoin="round" stroke-linecap="round" />
<polyline points="1258.8,877.5 1269.0,882.9" fill="none" stroke="#4a211d" stroke-width="5" stroke-linejoin="round" stroke-linecap="round" />
<g filter="url(#speck)"><ellipse cx="765" cy="705" rx="34" ry="40" fill="#a4d878" opacity="0.5" filter="url(#blur8)"/><ellipse cx="750" cy="700" rx="16" ry="32" fill="#8fd050" opacity="0.5" filter="url(#blur4)"/></g>
<polygon points="731.5,696.8 741.6,700.9 751.8,713.1 754.8,731.3 751.8,749.6 741.6,750.6 735.5,741.5 743.6,729.3 739.6,717.1" fill="#6fbf3e"/>
<polygon points="654.4,692.8 660.4,688.7 672.6,689.7 686.8,687.7 701.0,692.8 703.1,700.9 700.0,707.0 686.8,710.0 670.6,711.0 659.4,709.0 655.4,700.9" fill="#8fd456"/>
<polygon points="654.4,692.8 660.4,688.7 672.6,689.7 670.6,700.9 659.4,709.0 655.4,700.9" fill="#a9e070"/>
<polygon points="690.9,682.6 703.1,679.6 721.3,682.6 731.5,690.7 739.6,704.9 737.6,721.2 721.3,725.2 709.1,717.1 703.1,704.9 694.9,692.8" fill="#8fd456"/>
<polygon points="707.1,683.6 721.3,682.6 731.5,690.7 729.4,704.9 717.3,700.9" fill="#a9e070"/>
<polygon points="709.1,704.9 729.4,704.9 737.6,721.2 721.3,725.2 709.1,717.1" fill="#6fbf3e"/>
<polygon points="701.0,677.5 707.1,676.5 712.2,682.6 710.2,686.2 703.1,684.6" fill="#6fbf3e"/>
<polygon points="698.0,671.5 703.1,667.4 711.2,666.9 717.3,670.4 716.3,678.6 711.2,682.6 705.1,676.5 700.0,676.5" fill="#5f6266"/>
<polygon points="705.1,716.1 721.3,725.2 737.6,721.2 741.6,731.3 741.6,747.6 731.5,757.7 723.4,755.7 719.3,737.4 707.1,741.5 694.9,742.5 689.9,736.4 694.9,724.2" fill="#7a4fc4"/>
<polygon points="705.1,716.1 719.3,725.2 719.3,737.4 707.1,741.5 694.9,742.5 689.9,736.4 694.9,724.2" fill="#5f36a8"/>
<polygon points="694.9,742.5 707.1,741.5 714.2,747.6 711.2,756.7 694.9,759.7 687.8,752.6" fill="#8fd456"/>
<polygon points="687.8,752.6 694.9,759.7 711.2,756.7 710.2,759.7 693.9,762.8" fill="#6fbf3e"/>
<polygon points="723.4,755.7 731.5,757.7 741.6,747.6 745.7,761.8 744.7,780.0 733.5,782.1 722.3,781.0 724.4,766.8" fill="#8fd456"/>
<polygon points="722.3,776.0 744.7,775.0 744.7,780.0 733.5,782.1 722.3,781.0" fill="#6fbf3e"/>
<g filter="url(#speck)">
<polygon points="893.7,624.9 914.2,588.8 934.7,555.1 962.4,526.1 986.5,505.7 998.6,504.5 1010.6,529.8 1033.5,552.7 1055.2,575.5 1040.7,598.4 1016.6,632.2 980.5,653.9 932.3,657.5 898.6,644.2" fill="#9ccbe0" opacity="0.6" filter="url(#blur8)"/>
<polygon points="927.5,574.3 956.4,533.4 980.5,514.1 992.5,540.6 986.5,574.3 956.4,598.4 932.3,604.5" fill="#7fc0ae" opacity="0.5" filter="url(#blur8)"/>
<polygon points="890.1,624.9 910.6,602.0 944.3,598.4 956.4,610.5 932.3,634.6 896.1,644.2" fill="#eaa060" opacity="0.55" filter="url(#blur8)"/>
<polygon points="968.4,586.4 1016.6,576.7 1048.0,581.6 1028.7,610.5 980.5,622.5" fill="#74a8dc" opacity="0.5" filter="url(#blur8)"/>
</g>
<g filter="url(#speck2)">
<polygon points="985.3,505.7 989.5,503.3 992.5,511.7 997.3,502.0 1001.6,511.7 1008.8,529.8 1002.8,541.8 992.5,552.7 981.7,535.8 979.3,516.5" fill="#2f5fc4" opacity="1"/>
<polygon points="992.5,526.1 1004.6,528.6 1002.2,541.8 992.5,552.7 987.7,540.6" fill="#3aa0dc" opacity="1"/>
<polygon points="985.3,561.1 1004.6,555.1 1021.4,562.3 1035.9,568.3 1057.6,576.1 1040.7,582.8 1016.6,578.0 992.5,575.5" fill="#3d86d8" opacity="1"/>
<polygon points="987.7,562.3 1007.0,557.5 1021.4,564.7 1010.6,571.9 992.5,571.9" fill="#38b8dc" opacity="1"/>
<polygon points="996.1,543.0 1002.8,540.6 1005.8,552.7 998.6,555.7" fill="#49b04e" opacity="1"/>
<polygon points="1002.2,532.2 1010.0,529.8 1016.6,547.8 1031.1,549.6 1034.1,555.1 1020.8,562.9 1008.2,558.1 1001.0,550.2" fill="#e2301e" opacity="1"/>
<polygon points="1004.6,557.5 1020.2,562.9 1015.4,567.1 1003.4,562.3" fill="#58b848" opacity="1"/>
<polygon points="963.6,568.3 985.3,560.5 988.3,567.1 968.4,574.3 958.2,577.3" fill="#2c58b8" opacity="1"/>
<polygon points="960.0,585.2 980.5,574.3 982.3,578.0 966.6,586.4" fill="#d8402e" opacity="1"/>
</g>
<!-- 20_vr.svg -->
<defs><pattern id="hl" width="4" height="3.4" patternUnits="userSpaceOnUse"><rect width="4" height="1" fill="#fff" opacity="0.13"/></pattern></defs>
<g>
<path d="M2129.5,1234.7 C2131.1,1233.9 2143.4,1236.5 2151.0,1238.2 C2158.5,1240.0 2166.5,1241.4 2174.9,1245.4 C2183.2,1249.4 2192.8,1255.4 2201.2,1262.1 C2209.5,1268.9 2218.3,1277.7 2225.1,1286.1 C2231.9,1294.4 2237.7,1303.2 2241.8,1312.3 C2245.9,1321.5 2248.6,1330.9 2249.5,1341.0 C2250.3,1351.2 2250.3,1371.3 2247.1,1373.3 C2243.8,1375.3 2235.9,1359.6 2229.9,1353.0 C2223.8,1346.4 2217.5,1340.6 2210.7,1333.9 C2204.0,1327.1 2194.8,1319.5 2189.2,1312.3 C2183.6,1305.2 2182.1,1298.8 2177.3,1290.8 C2172.5,1282.9 2166.5,1272.5 2160.5,1264.5 C2154.6,1256.6 2146.6,1248.0 2141.4,1243.0 C2136.2,1238.0 2127.9,1235.5 2129.5,1234.7 Z" fill="#a99dab" />
<path d="M2219.1,1364.9 C2222.5,1367.3 2233.8,1390.0 2235.8,1398.4 C2237.8,1406.8 2233.8,1409.5 2231.1,1415.1 C2228.3,1420.7 2223.1,1427.3 2219.1,1431.9 C2215.1,1436.4 2209.9,1445.4 2207.2,1442.6 C2204.4,1439.8 2203.3,1421.7 2202.4,1415.1 C2201.5,1408.6 2199.5,1408.4 2201.7,1403.2 C2203.8,1398.0 2212.6,1390.4 2215.5,1384.1 C2218.4,1377.7 2215.7,1362.5 2219.1,1364.9 Z" fill="#a99dab" />
<path d="M1956.4,1580.1 C1900.6,1575.7 1964.4,1561.3 1971.7,1553.8 C1979.0,1546.2 1988.4,1540.2 2000.4,1534.6 C2012.3,1529.1 2029.1,1524.7 2043.4,1520.3 C2057.8,1515.9 2074.5,1509.9 2086.4,1508.3 C2098.4,1506.8 2098.4,1510.3 2115.1,1510.7 C2131.9,1511.1 2170.1,1514.2 2186.8,1510.7 C2203.6,1507.2 2207.6,1492.9 2215.5,1489.7 C2223.5,1486.5 2225.1,1489.3 2234.6,1491.6 C2244.2,1493.9 2260.9,1499.6 2272.9,1503.6 C2284.8,1507.6 2300.8,1502.8 2306.3,1515.5 C2311.9,1528.3 2364.7,1569.3 2306.3,1580.1 C2248.0,1590.8 2012.2,1584.4 1956.4,1580.1 Z" fill="#6e3b30" />
<path d="M1956.4,1580.1 C1900.6,1575.7 1964.4,1561.3 1971.7,1553.8 C1979.0,1546.2 1988.4,1540.2 2000.4,1534.6 C2012.3,1529.1 2029.1,1524.7 2043.4,1520.3 C2057.8,1515.9 2074.5,1509.9 2086.4,1508.3 C2098.4,1506.8 2098.4,1510.3 2115.1,1510.7 C2131.9,1511.1 2170.1,1514.2 2186.8,1510.7 C2203.6,1507.2 2207.6,1492.9 2215.5,1489.7 C2223.5,1486.5 2225.1,1489.3 2234.6,1491.6 C2244.2,1493.9 2260.9,1499.6 2272.9,1503.6 C2284.8,1507.6 2300.8,1502.8 2306.3,1515.5 C2311.9,1528.3 2364.7,1569.3 2306.3,1580.1 C2248.0,1590.8 2012.2,1584.4 1956.4,1580.1 Z" fill="url(#hl)" />
<path d="M2036.7,1337.4 C2038.7,1333.0 2040.7,1331.6 2045.8,1331.0 C2050.9,1330.4 2056.6,1332.2 2067.3,1333.9 C2078.1,1335.5 2094.4,1339.0 2110.3,1341.0 C2126.3,1343.1 2150.8,1345.9 2162.9,1346.3 C2175.1,1346.7 2178.7,1342.3 2183.2,1343.4 C2187.8,1344.5 2187.8,1351.2 2190.4,1353.0 C2193.0,1354.8 2195.6,1354.5 2198.8,1354.2 C2202.0,1353.9 2205.9,1350.8 2209.5,1351.1 C2213.2,1351.3 2218.3,1353.1 2220.8,1355.8 C2223.2,1358.6 2224.5,1363.0 2224.1,1367.3 C2223.7,1371.6 2220.9,1377.5 2218.4,1381.7 C2215.8,1385.8 2211.2,1388.4 2208.8,1392.4 C2206.4,1396.4 2205.0,1400.6 2204.0,1405.6 C2203.1,1410.5 2202.3,1416.3 2203.1,1422.3 C2203.9,1428.3 2207.5,1434.6 2208.8,1441.4 C2210.2,1448.2 2210.0,1454.8 2211.2,1462.9 C2212.4,1471.1 2216.1,1482.5 2216.0,1490.4 C2215.9,1498.4 2215.6,1504.2 2210.7,1510.7 C2205.9,1517.3 2196.8,1525.0 2186.8,1529.9 C2176.9,1534.7 2162.9,1538.2 2151.0,1539.9 C2139.0,1541.6 2123.9,1541.2 2115.1,1539.9 C2106.4,1538.6 2102.7,1535.9 2098.4,1532.2 C2094.1,1528.6 2090.8,1525.9 2089.3,1517.9 C2087.8,1509.9 2090.5,1493.8 2089.3,1484.4 C2088.1,1475.1 2088.2,1467.6 2082.1,1461.7 C2076.1,1455.8 2059.8,1452.9 2053.0,1449.1 C2046.1,1445.3 2044.0,1444.7 2041.0,1439.0 C2038.1,1433.4 2036.6,1424.7 2035.3,1415.1 C2033.9,1405.6 2033.1,1391.2 2032.9,1381.7 C2032.7,1372.1 2033.2,1365.1 2033.9,1357.8 C2034.5,1350.4 2034.7,1341.9 2036.7,1337.4 Z" fill="#f4c9a8" />
<polygon points="2183.2,1344.6 2192.1,1349.4 2181.6,1375.7 2178.7,1367.3" fill="#a99dab" />
<path d="M1957.4,1329.1 C1958.9,1327.2 1964.5,1331.1 1971.7,1330.3 C1978.9,1329.5 1988.4,1327.3 2000.4,1324.3 C2012.3,1321.3 2028.3,1316.3 2043.4,1312.3 C2058.6,1308.4 2080.1,1303.6 2091.2,1300.4 C2102.4,1297.2 2106.4,1298.0 2110.3,1293.2 C2114.3,1288.4 2114.1,1280.5 2115.1,1271.7 C2116.1,1262.9 2116.7,1247.6 2116.3,1240.6 C2115.9,1233.7 2110.5,1231.0 2112.7,1229.9 C2114.9,1228.8 2124.7,1232.0 2129.5,1234.2 C2134.2,1236.4 2136.2,1238.0 2141.4,1243.0 C2146.6,1248.1 2154.6,1256.6 2160.5,1264.5 C2166.5,1272.5 2172.5,1282.9 2177.3,1290.8 C2182.1,1298.8 2183.6,1305.2 2189.2,1312.3 C2194.8,1319.5 2204.0,1327.1 2210.7,1333.9 C2217.5,1340.6 2223.8,1346.5 2229.9,1353.0 C2235.9,1359.4 2245.0,1366.2 2247.1,1372.6 C2249.1,1379.0 2244.3,1386.8 2242.3,1391.2 C2240.3,1395.6 2239.0,1401.1 2235.1,1398.9 C2231.3,1396.7 2221.5,1383.7 2219.1,1378.1 C2216.7,1372.4 2222.2,1369.1 2220.8,1364.9 C2219.4,1360.7 2217.0,1356.6 2210.7,1353.0 C2204.5,1349.4 2191.2,1344.5 2183.2,1343.4 C2175.3,1342.3 2175.1,1346.7 2162.9,1346.3 C2150.8,1345.9 2126.3,1343.1 2110.3,1341.0 C2094.4,1339.0 2078.1,1335.5 2067.3,1333.9 C2056.6,1332.2 2050.9,1330.3 2045.8,1331.0 C2040.7,1331.7 2038.7,1332.5 2036.7,1338.2 C2034.7,1343.8 2035.1,1359.5 2033.9,1364.9 C2032.6,1370.4 2033.9,1370.9 2029.1,1370.9 C2024.3,1370.9 2013.5,1367.9 2005.2,1364.9 C1996.8,1361.9 1986.0,1356.9 1978.9,1353.0 C1971.8,1349.1 1966.2,1345.5 1962.6,1341.5 C1959.0,1337.5 1955.9,1330.9 1957.4,1329.1 Z" fill="#fff" stroke="#d8d8d8" stroke-width="0.8"/>
<path d="M1951.4,1312.3 C1950.8,1306.6 1951.8,1300.4 1953.8,1294.4 C1955.8,1288.4 1958.8,1281.8 1963.3,1276.5 C1967.9,1271.2 1971.9,1267.7 1981.3,1262.6 C1990.6,1257.5 2005.2,1250.7 2019.5,1245.9 C2033.9,1241.1 2053.4,1236.7 2067.3,1233.9 C2081.3,1231.2 2095.5,1229.6 2103.2,1229.2 C2110.8,1228.8 2111.0,1229.6 2113.2,1231.6 C2115.4,1233.5 2116.2,1234.4 2116.6,1241.1 C2116.9,1247.8 2116.2,1263.1 2115.1,1271.7 C2114.1,1280.3 2114.3,1288.0 2110.3,1292.7 C2106.4,1297.5 2102.4,1297.1 2091.2,1300.4 C2080.1,1303.7 2058.6,1308.4 2043.4,1312.3 C2028.3,1316.3 2012.3,1321.3 2000.4,1324.3 C1988.4,1327.3 1978.9,1329.7 1971.7,1330.5 C1964.5,1331.3 1960.8,1332.1 1957.4,1329.1 C1954.0,1326.0 1952.0,1318.1 1951.4,1312.3 Z" fill="#5c3628" />
<path d="M1951.4,1312.3 C1950.8,1306.6 1951.8,1300.4 1953.8,1294.4 C1955.8,1288.4 1958.8,1281.8 1963.3,1276.5 C1967.9,1271.2 1971.9,1267.7 1981.3,1262.6 C1990.6,1257.5 2005.2,1250.7 2019.5,1245.9 C2033.9,1241.1 2053.4,1236.7 2067.3,1233.9 C2081.3,1231.2 2095.5,1229.6 2103.2,1229.2 C2110.8,1228.8 2111.0,1229.6 2113.2,1231.6 C2115.4,1233.5 2116.2,1234.4 2116.6,1241.1 C2116.9,1247.8 2116.2,1263.1 2115.1,1271.7 C2114.1,1280.3 2114.3,1288.0 2110.3,1292.7 C2106.4,1297.5 2102.4,1297.1 2091.2,1300.4 C2080.1,1303.7 2058.6,1308.4 2043.4,1312.3 C2028.3,1316.3 2012.3,1321.3 2000.4,1324.3 C1988.4,1327.3 1978.9,1329.7 1971.7,1330.5 C1964.5,1331.3 1960.8,1332.1 1957.4,1329.1 C1954.0,1326.0 1952.0,1318.1 1951.4,1312.3 Z" fill="url(#hl)" />
<circle cx="1976.0" cy="1284.1" r="3.2" fill="#f3e3d3"/>
<circle cx="1991.5" cy="1301.6" r="2.4" fill="#f3e3d3"/>
<circle cx="1966.2" cy="1296.3" r="1.8" fill="#f3e3d3"/>
<circle cx="1982.5" cy="1293.7" r="1.6" fill="#f3e3d3"/>
<circle cx="1994.9" cy="1295.1" r="1.8" fill="#f3e3d3"/>
<circle cx="1995.1" cy="1262.6" r="1.8" fill="#f3e3d3"/>
<circle cx="2008.0" cy="1264.1" r="2.0" fill="#f3e3d3"/>
<circle cx="2013.5" cy="1296.1" r="1.5" fill="#f3e3d3"/>
<circle cx="2004.0" cy="1305.2" r="1.3" fill="#f3e3d3"/>
<polyline points="2043.9,1343.9 2050.6,1341.5 2059.0,1343.4 2062.5,1346.3" fill="none" stroke="#6a4a40" stroke-width="2.2" stroke-linejoin="round" stroke-linecap="round" />
<polyline points="2042.9,1383.6 2053.0,1380.9 2067.3,1381.7 2076.9,1383.6" fill="none" stroke="#6a3c30" stroke-width="2.6" stroke-linejoin="round" stroke-linecap="round" />
<polyline points="2197.6,1367.3 2206.0,1359.7 2214.3,1362.5" fill="none" stroke="#8a5a48" stroke-width="1.6" stroke-linejoin="round" stroke-linecap="round" />
<polyline points="2208.3,1360.6 2204.8,1381.7" fill="none" stroke="#8a5a48" stroke-width="1.6" stroke-linejoin="round" stroke-linecap="round" />
<polyline points="2203.1,1405.6 2186.8,1422.3 2162.9,1436.6 2134.2,1446.2" fill="none" stroke="#e8b898" stroke-width="1.2" stroke-linejoin="round" stroke-linecap="round" />
</g>
<!-- 29_ffbox.svg -->
<rect x="32.7" y="1276.3" width="1128.6" height="279.7" fill="#fff"/>
<polygon points="55.0,1302.5 66.2,1312.5 66.2,1395.0 55.0,1385.0" fill="#d9d9d9" stroke="#333" stroke-width="0.9" stroke-linejoin="round"/>
<polygon points="66.2,1312.5 100.0,1292.5 100.0,1375.0 66.2,1395.0" fill="#c6c6c6" stroke="#333" stroke-width="0.9" stroke-linejoin="round"/>
<polygon points="55.0,1302.5 88.8,1282.5 100.0,1292.5 66.2,1312.5" fill="#f4f4f4" stroke="#333" stroke-width="0.9" stroke-linejoin="round"/>
<polygon points="68.8,1350.0 81.2,1361.2 81.2,1396.2 68.8,1385.0" fill="#d9d9d9" stroke="#333" stroke-width="0.9" stroke-linejoin="round"/>
<polygon points="81.2,1361.2 113.8,1341.2 113.8,1376.2 81.2,1396.2" fill="#c6c6c6" stroke="#333" stroke-width="0.9" stroke-linejoin="round"/>
<polygon points="68.8,1350.0 102.5,1328.8 113.8,1341.2 81.2,1361.2" fill="#f4f4f4" stroke="#333" stroke-width="0.9" stroke-linejoin="round"/>
<polygon points="42.5,1380.0 71.2,1403.8 71.2,1513.8 42.5,1490.0" fill="#d9d9d9" stroke="#333" stroke-width="0.9" stroke-linejoin="round"/>
<polygon points="71.2,1403.8 115.0,1380.0 115.0,1490.0 71.2,1513.8" fill="#c6c6c6" stroke="#333" stroke-width="0.9" stroke-linejoin="round"/>
<polygon points="42.5,1380.0 52.5,1372.5 115.0,1380.0 71.2,1403.8" fill="#f4f4f4" stroke="#333" stroke-width="0.9" stroke-linejoin="round"/>
<polygon points="52.5,1372.5 70.0,1362.5 70.0,1383.8 81.2,1395.0 115.0,1377.5 115.0,1380.0 71.2,1403.8 42.5,1380.0" fill="#f4f4f4" stroke="#333" stroke-width="0.9" stroke-linejoin="round"/>
<polygon points="67.5,1385.0 81.2,1396.2 116.2,1377.5 116.2,1387.5 81.2,1406.2 67.5,1395.0" fill="#8fa83a" stroke="#333" stroke-width="0.6" stroke-linejoin="round"/>
<polyline points="67.5,1390.0 81.2,1401.2 116.2,1382.5" fill="none" stroke="#f2f2e0" stroke-width="1.6" stroke-linejoin="round" stroke-linecap="round" />
<polygon points="41.2,1413.8 70.0,1437.5 70.0,1445.0 41.2,1421.2" fill="#8fa83a" stroke="#333" stroke-width="0.6" stroke-linejoin="round"/>
<polyline points="78.8,1467.5 115.0,1448.8" fill="none" stroke="#f4f4f4" stroke-width="2" stroke-linejoin="round" stroke-linecap="round" />
<polyline points="78.8,1472.5 115.0,1453.8" fill="none" stroke="#333" stroke-width="1" stroke-linejoin="round" stroke-linecap="round" />
<polyline points="78.8,1405.0 78.8,1507.5" fill="none" stroke="#f0f0f0" stroke-width="2.2" stroke-linejoin="round" stroke-linecap="round" />
<polygon points="256.2,1316.2 287.5,1342.5 287.5,1500.0 256.2,1473.8" fill="#d9d9d9" stroke="#333" stroke-width="0.9" stroke-linejoin="round"/>
<polygon points="287.5,1342.5 302.5,1332.5 302.5,1490.0 287.5,1500.0" fill="#c6c6c6" stroke="#333" stroke-width="0.9" stroke-linejoin="round"/>
<polygon points="256.2,1316.2 271.2,1306.2 302.5,1332.5 287.5,1342.5" fill="#f4f4f4" stroke="#333" stroke-width="0.9" stroke-linejoin="round"/>
<polygon points="235.0,1343.8 266.2,1373.8 266.2,1505.0 235.0,1475.0" fill="#d9d9d9" stroke="#333" stroke-width="0.9" stroke-linejoin="round"/>
<polygon points="266.2,1373.8 282.5,1363.8 282.5,1495.0 266.2,1505.0" fill="#c6c6c6" stroke="#333" stroke-width="0.9" stroke-linejoin="round"/>
<polygon points="235.0,1343.8 251.2,1333.8 282.5,1363.8 266.2,1373.8" fill="#f4f4f4" stroke="#333" stroke-width="0.9" stroke-linejoin="round"/>
<polygon points="232.5,1385.0 266.2,1410.0 286.2,1402.5 286.2,1411.2 266.2,1420.0 232.5,1393.8" fill="#8fa83a" stroke="#333" stroke-width="0.6" stroke-linejoin="round"/>
<polyline points="232.5,1389.5 266.2,1415.0 286.2,1407.0" fill="none" stroke="#f2f2e0" stroke-width="1.6" stroke-linejoin="round" stroke-linecap="round" />
<polygon points="233.8,1470.0 266.2,1493.8 286.2,1483.8 286.2,1493.8 266.2,1505.0 233.8,1480.0" fill="#8fa83a" stroke="#333" stroke-width="0.6" stroke-linejoin="round"/>
<polyline points="266.2,1375.0 266.2,1505.0" fill="none" stroke="#f0f0f0" stroke-width="2.2" stroke-linejoin="round" stroke-linecap="round" />
<polyline points="286.2,1450.0 302.5,1440.0" fill="none" stroke="#f4f4f4" stroke-width="2" stroke-linejoin="round" stroke-linecap="round" />
<polygon points="426.2,1357.5 460.0,1392.5 460.0,1503.8 426.2,1468.8" fill="#d9d9d9" stroke="#333" stroke-width="0.9" stroke-linejoin="round"/>
<polygon points="460.0,1392.5 497.5,1372.5 497.5,1483.8 460.0,1503.8" fill="#c6c6c6" stroke="#333" stroke-width="0.9" stroke-linejoin="round"/>
<polygon points="426.2,1357.5 442.5,1348.8 497.5,1372.5 460.0,1392.5" fill="#f4f4f4" stroke="#333" stroke-width="0.9" stroke-linejoin="round"/>
<polygon points="426.2,1357.5 442.5,1348.8 455.0,1356.2 470.0,1346.2 497.5,1372.5 480.0,1381.2 477.5,1383.8 460.0,1392.5" fill="#f4f4f4" stroke="#333" stroke-width="0.9" stroke-linejoin="round"/>
<polygon points="453.8,1356.2 470.0,1346.2 496.2,1371.2 480.0,1381.2" fill="#8fa83a" stroke="#333" stroke-width="0.6" stroke-linejoin="round"/>
<polygon points="476.2,1387.5 497.5,1376.2 497.5,1381.2 476.2,1392.5" fill="#8fa83a" stroke="#333" stroke-width="0.5" stroke-linejoin="round"/>
<polygon points="476.2,1395.0 497.5,1383.8 497.5,1388.8 476.2,1400.0" fill="#8fa83a" stroke="#333" stroke-width="0.5" stroke-linejoin="round"/>
<polygon points="476.2,1470.0 497.5,1458.8 497.5,1463.8 476.2,1475.0" fill="#8fa83a" stroke="#333" stroke-width="0.5" stroke-linejoin="round"/>
<polygon points="476.2,1477.5 497.5,1466.2 497.5,1471.2 476.2,1482.5" fill="#8fa83a" stroke="#333" stroke-width="0.5" stroke-linejoin="round"/>
<polygon points="423.8,1420.0 460.0,1447.5 460.0,1455.0 423.8,1427.5" fill="#e8ecd8" stroke="#333" stroke-width="0.6" stroke-linejoin="round"/>
<polyline points="423.8,1423.8 460.0,1451.2 475.0,1443.8" fill="none" stroke="#8fa83a" stroke-width="1.4" stroke-linejoin="round" stroke-linecap="round" />
<polyline points="460.0,1393.8 460.0,1503.8" fill="none" stroke="#f0f0f0" stroke-width="2.2" stroke-linejoin="round" stroke-linecap="round" />
<text x="45.0" y="1442.5" font-size="26" fill="#444" textLength="66" lengthAdjust="spacingAndGlyphs">280M</text>
<text x="237.0" y="1442.5" font-size="26" fill="#444" textLength="66" lengthAdjust="spacingAndGlyphs">210M</text>
<text x="430.0" y="1442.5" font-size="26" fill="#444" textLength="66" lengthAdjust="spacingAndGlyphs">140M</text>
<polygon points="610.0,1430.0 631.2,1417.5 631.2,1430.0 622.5,1442.5" fill="#8fa83a" stroke="#333" stroke-width="0.6" stroke-linejoin="round"/>
<polygon points="620.0,1470.0 630.0,1460.0 700.0,1455.0 697.5,1462.5 665.0,1482.5 650.0,1485.0 630.0,1480.0" fill="#8fa83a" stroke="#333" stroke-width="0.6" stroke-linejoin="round"/>
<polygon points="600.0,1497.5 622.5,1480.0 665.0,1482.5 662.5,1487.5 622.5,1511.2" fill="#8fa83a" stroke="#333" stroke-width="0.6" stroke-linejoin="round"/>
<polygon points="600.0,1497.5 607.5,1492.5 625.0,1506.2 622.5,1511.2" fill="#fff" stroke="#333" stroke-width="0.6" stroke-linejoin="round"/>
<polyline points="617.5,1485.5 633.8,1498.8" fill="none" stroke="#f0f4e0" stroke-width="1.6" stroke-linejoin="round" stroke-linecap="round" />
<polyline points="623.0,1486.0 639.2,1498.0" fill="none" stroke="#f0f4e0" stroke-width="1.6" stroke-linejoin="round" stroke-linecap="round" />
<polyline points="628.5,1486.5 644.8,1497.2" fill="none" stroke="#f0f4e0" stroke-width="1.6" stroke-linejoin="round" stroke-linecap="round" />
<polyline points="634.0,1487.0 650.2,1496.5" fill="none" stroke="#f0f4e0" stroke-width="1.6" stroke-linejoin="round" stroke-linecap="round" />
<polygon points="647.5,1328.8 663.8,1340.0 663.8,1402.5 647.5,1391.2" fill="#d9d9d9" stroke="#333" stroke-width="0.9" stroke-linejoin="round"/>
<polygon points="663.8,1340.0 687.5,1323.8 687.5,1386.2 663.8,1402.5" fill="#c6c6c6" stroke="#333" stroke-width="0.9" stroke-linejoin="round"/>
<polygon points="647.5,1328.8 671.2,1312.5 687.5,1323.8 663.8,1340.0" fill="#f4f4f4" stroke="#333" stroke-width="0.9" stroke-linejoin="round"/>
<polygon points="628.8,1356.2 646.2,1367.5 646.2,1407.5 628.8,1396.2" fill="#d9d9d9" stroke="#333" stroke-width="0.9" stroke-linejoin="round"/>
<polygon points="646.2,1367.5 663.8,1356.2 663.8,1396.2 646.2,1407.5" fill="#c6c6c6" stroke="#333" stroke-width="0.9" stroke-linejoin="round"/>
<polygon points="628.8,1356.2 646.2,1345.0 663.8,1356.2 646.2,1367.5" fill="#f4f4f4" stroke="#333" stroke-width="0.9" stroke-linejoin="round"/>
<polygon points="665.0,1387.5 695.0,1380.0 695.0,1400.0 665.0,1410.0" fill="#8fa83a" stroke="#333" stroke-width="0.5" stroke-linejoin="round"/>
<polygon points="630.0,1406.2 651.2,1420.0 651.2,1463.8 630.0,1450.0" fill="#d9d9d9" stroke="#333" stroke-width="0.9" stroke-linejoin="round"/>
<polygon points="651.2,1420.0 678.8,1403.8 678.8,1447.5 651.2,1463.8" fill="#c6c6c6" stroke="#333" stroke-width="0.9" stroke-linejoin="round"/>
<polygon points="630.0,1406.2 657.5,1390.0 678.8,1403.8 651.2,1420.0" fill="#f4f4f4" stroke="#333" stroke-width="0.9" stroke-linejoin="round"/>
<polygon points="678.8,1403.8 692.5,1410.0 692.5,1442.5 678.8,1450.0 651.2,1463.8 651.2,1420.0" fill="#c6c6c6" stroke="#333" stroke-width="0.9" stroke-linejoin="round"/>
<polygon points="627.5,1455.0 651.2,1470.0 695.0,1445.0 695.0,1450.0 651.2,1477.5 627.5,1462.5" fill="#eee" stroke="#333" stroke-width="0.6" stroke-linejoin="round"/>
<text x="632" y="1437" font-size="26" fill="#444" textLength="51" lengthAdjust="spacingAndGlyphs">80M</text>
<polygon points="760.0,1467.5 798.8,1510.0 798.8,1515.0 760.0,1471.2" fill="#d9d9d9" stroke="#333" stroke-width="0.9" stroke-linejoin="round"/>
<polygon points="798.8,1510.0 960.0,1417.5 960.0,1430.0 798.8,1515.0" fill="#e6e6e6" stroke="#333" stroke-width="0.9" stroke-linejoin="round"/>
<polygon points="760.0,1467.5 915.0,1375.0 960.0,1417.5 798.8,1510.0" fill="#8fa83a" stroke="#333" stroke-width="0.9" stroke-linejoin="round"/>
<polyline points="780.0,1467.5 815.0,1445.0 865.0,1420.0 890.0,1402.5" fill="none" stroke="#fff" stroke-width="9" stroke-linejoin="round" stroke-linecap="round" />
<polyline points="805.0,1482.5 840.0,1460.0 902.5,1430.0 935.0,1417.5" fill="none" stroke="#fff" stroke-width="9" stroke-linejoin="round" stroke-linecap="round" />
<polyline points="790.0,1487.5 840.0,1455.0 915.0,1420.0 947.5,1410.0" fill="none" stroke="#fff" stroke-width="3" stroke-linejoin="round" stroke-linecap="round" />
<polygon points="880.0,1402.5 915.0,1382.5 947.5,1412.5 922.5,1430.0" fill="#f4f4f4" stroke="#333" stroke-width="0" stroke-linejoin="round"/>
<polyline points="885.0,1400.0 905.0,1420.0 922.5,1430.0" fill="none" stroke="#999" stroke-width="1" stroke-linejoin="round" stroke-linecap="round" />
<polyline points="775.0,1477.5 790.0,1467.5 810.0,1490.0 798.8,1498.8" fill="none" stroke="#666" stroke-width="1" stroke-linejoin="round" stroke-linecap="round" />
<text x="843" y="1437" font-size="26" fill="#444" textLength="52" lengthAdjust="spacingAndGlyphs">40M</text>
<polygon points="1001.2,1435.0 1061.2,1502.5 1061.2,1512.5 1001.2,1450.0" fill="#d9d9d9" stroke="#333" stroke-width="0.9" stroke-linejoin="round"/>
<polygon points="1061.2,1502.5 1150.0,1445.0 1150.0,1457.5 1061.2,1512.5" fill="#e2e2e2" stroke="#333" stroke-width="0.9" stroke-linejoin="round"/>
<polygon points="1001.2,1435.0 1020.0,1425.0 1020.0,1400.0 1081.2,1376.2 1087.5,1392.5 1150.0,1445.0 1061.2,1502.5" fill="#fafafa" stroke="#333" stroke-width="0.9" stroke-linejoin="round"/>
<polygon points="1037.5,1425.0 1072.5,1408.8 1102.5,1437.5 1065.0,1448.8" fill="#8fa83a" stroke="#333" stroke-width="0.6" stroke-linejoin="round"/>
<polygon points="1020.0,1400.0 1081.2,1376.2 1087.5,1392.5 1040.0,1417.5 1040.0,1425.0 1020.0,1425.0" fill="#fdfdfd" stroke="#333" stroke-width="0.9" stroke-linejoin="round"/>
<polyline points="1025.0,1460.0 1100.0,1442.5 1125.0,1465.0" fill="none" stroke="#888" stroke-width="1" stroke-linejoin="round" stroke-linecap="round" />
<polyline points="1100.0,1442.5 1090.0,1430.0" fill="none" stroke="#888" stroke-width="1" stroke-linejoin="round" stroke-linecap="round" />
<polyline points="1010.0,1462.5 1050.0,1507.5" fill="none" stroke="#888" stroke-width="1" stroke-linejoin="round" stroke-linecap="round" />
<text x="1040" y="1442" font-size="26" fill="#444" textLength="52" lengthAdjust="spacingAndGlyphs">40M</text>
<!-- 30_text.svg -->
<text x="21.0" y="46.0" font-size="36.5" text-anchor="start" fill="#111" textLength="369" lengthAdjust="spacingAndGlyphs">SITE COMPOSITION</text>
<text x="21.0" y="1020.0" font-size="22" text-anchor="start" fill="#111" textLength="427.6" lengthAdjust="spacingAndGlyphs">There are many small units set up around</text>
<text x="21.0" y="1059.5" font-size="22" text-anchor="start" fill="#111" textLength="546.1" lengthAdjust="spacingAndGlyphs">the corridor, which reserve some flexible and variable</text>
<text x="21.0" y="1099.0" font-size="22" text-anchor="start" fill="#111" textLength="631.1" lengthAdjust="spacingAndGlyphs">space for us. Combined with real-time big data, we customize</text>
<text x="21.0" y="1138.5" font-size="22" text-anchor="start" fill="#111" textLength="712.3" lengthAdjust="spacingAndGlyphs">the venue to meet the needs of consumers, forming a diversified form</text>
<text x="21.0" y="1178.0" font-size="22" text-anchor="start" fill="#111" textLength="778.0" lengthAdjust="spacingAndGlyphs">of space and improving consumption conversion rate.And this form has also</text>
<text x="21.0" y="1217.5" font-size="22" text-anchor="start" fill="#111" textLength="891.4" lengthAdjust="spacingAndGlyphs">laid the foundation for our integrated art and commercial district of exhibition and sales.</text>
<text x="1671.1" y="177.5" font-size="22" text-anchor="start" fill="#111" textLength="566.9" lengthAdjust="spacingAndGlyphs">Four squares have been set up in the venue, combined</text>
<text x="1738.4" y="217.0" font-size="22" text-anchor="start" fill="#111" textLength="499.6" lengthAdjust="spacingAndGlyphs">with VR interactive devices to form a flexible and</text>
<text x="1793.5" y="256.2" font-size="22" text-anchor="start" fill="#111" textLength="444.5" lengthAdjust="spacingAndGlyphs">variable square stage. An open theater, live</text>
<text x="1856.7" y="295.6" font-size="22" text-anchor="start" fill="#111" textLength="381.3" lengthAdjust="spacingAndGlyphs">house, flash music festival, and other</text>
<text x="1886.1" y="335.0" font-size="22" text-anchor="start" fill="#111" textLength="351.9" lengthAdjust="spacingAndGlyphs">large-scale stages have been built</text>
<text x="1949.4" y="374.3" font-size="22" text-anchor="start" fill="#111" textLength="288.6" lengthAdjust="spacingAndGlyphs">to enhance the vitality of the</text>
<text x="2005.0" y="413.6" font-size="22" text-anchor="start" fill="#111" textLength="69.6" lengthAdjust="spacingAndGlyphs">venue.</text>
<text x="1209.0" y="1513.0" font-size="22" text-anchor="start" fill="#111" textLength="798" lengthAdjust="spacingAndGlyphs">We have installed electronic screens of different sizes on important aspects of</text>
<text x="1209.0" y="1552.0" font-size="22" text-anchor="start" fill="#111" textLength="739.5" lengthAdjust="spacingAndGlyphs">the building, which are both building elements and a display of windows.</text>
<circle cx="42.5" cy="954" r="20" fill="#0fd9ea"/>
<circle cx="1634" cy="104" r="19" fill="#c8392b"/>
<circle cx="1220" cy="1452" r="21" fill="#fbc42d"/>
<rect x="31.7" y="1275.3" width="1130.6" height="281.7" fill="none" stroke="#666" stroke-width="2" stroke-dasharray="11 6"/>
<text x="938.0" y="1317.0" font-size="25.6" text-anchor="start" fill="#595959" textLength="205" lengthAdjust="spacingAndGlyphs">Form &amp; Function</text>
<text x="33.3" y="1545.3" font-size="26" text-anchor="start" fill="#595959" >OFFICE</text>
<text x="223.3" y="1545.3" font-size="26" text-anchor="start" fill="#595959" >OFFICE</text>
<text x="408.3" y="1544.5" font-size="26" text-anchor="start" fill="#595959" >OFFICE</text>
<text x="575.0" y="1546.0" font-size="26" text-anchor="start" fill="#595959" >APARTMENT</text>
<text x="809.7" y="1547.0" font-size="26" text-anchor="start" fill="#595959" >HOTEL</text>
<text x="1007.3" y="1544.7" font-size="26" text-anchor="start" fill="#595959" >EXHIBITION</text>
<!-- 31_icons.svg -->
<rect x="1690" y="68" width="75" height="72" fill="#fff" opacity="0.35"/>
<rect x="1790" y="68" width="75" height="72" fill="#fff" opacity="0.35"/>
<rect x="1888" y="84" width="100" height="42" fill="#fff" opacity="0.8"/>
<rect x="108" y="934" width="56" height="46" fill="#fff" opacity="0.35"/>
<rect x="188" y="938" width="34" height="42" fill="#fff" opacity="0.35"/>
<rect x="262" y="930" width="58" height="50" fill="#fff" opacity="0.35"/>
<rect x="1262" y="1420" width="70" height="60" fill="#fff" opacity="0.35"/>
<rect x="1344" y="1420" width="68" height="60" fill="#fff" opacity="0.35"/>
<rect x="1428" y="1404" width="66" height="90" fill="#fff" opacity="0.35"/>
<path d="M1696.0,79.5 Q1713.3,80.8 1732.1,74.6 L1735.3,101.7 Q1734.2,115.6 1718.9,119.5 Q1702.2,118.4 1699.2,104.5 Z" fill="#fff" stroke="#111" stroke-width="2.2" stroke-linecap="round" stroke-linejoin="round" />
<path d="M1704.3,93.3 Q1708.5,89.9 1713.1,92.2" fill="none" stroke="#111" stroke-width="2" stroke-linecap="round" stroke-linejoin="round" />
<path d="M1718.2,90.8 Q1722.4,87.5 1727.0,89.7" fill="none" stroke="#111" stroke-width="2" stroke-linecap="round" stroke-linejoin="round" />
<path d="M1711.3,106.5 Q1718.2,110.7 1724.7,105.2" fill="none" stroke="#111" stroke-width="2" stroke-linecap="round" stroke-linejoin="round" />
<path d="M1739.1,93.6 Q1749.5,96.4 1758.8,93.9 L1756.1,118.4 Q1752.3,132.3 1738.4,134.3 Q1725.9,132.9 1721.0,125.3" fill="none" stroke="#111" stroke-width="2.2" stroke-linecap="round" stroke-linejoin="round" />
<path d="M1729.7,123.6 Q1736.3,117.7 1742.8,123.6" fill="none" stroke="#111" stroke-width="2" stroke-linecap="round" stroke-linejoin="round" />
<path d="M1741.8,104.7 Q1746.4,107.2 1751.1,105.3" fill="none" stroke="#111" stroke-width="2" stroke-linecap="round" stroke-linejoin="round" />
<path d="M1746.4,106.7 L1746.4,108.9" fill="none" stroke="#111" stroke-width="1.6" stroke-linecap="round" stroke-linejoin="round" />
<path d="M1746.7,93.3 L1746.7,98.2" fill="none" stroke="#111" stroke-width="1.6" stroke-linecap="round" stroke-linejoin="round" />
<polygon points="1798.1,82.2 1804.4,74.6 1809.2,82.2" fill="none" stroke="#111" stroke-width="1.8" stroke-linejoin="round"/>
<polygon points="1812.7,76.0 1818.3,75.3 1816.2,80.1" fill="none" stroke="#111" stroke-width="1.8" stroke-linejoin="round"/>
<polygon points="1825.2,78.8 1830.1,76.0 1832.8,80.8 1828.0,83.6" fill="none" stroke="#111" stroke-width="1.8" stroke-linejoin="round"/>
<polygon points="1798.1,92.0 1803.0,89.2 1805.7,94.0 1800.9,96.8" fill="none" stroke="#111" stroke-width="1.8" stroke-linejoin="round"/>
<circle cx="1839.8" cy="77.8" r="2.1" fill="none" stroke="#111" stroke-width="1.8"/>
<circle cx="1818.9" cy="88.5" r="3.5" fill="none" stroke="#111" stroke-width="1.8"/>
<circle cx="1811.3" cy="97.8" r="2.1" fill="none" stroke="#111" stroke-width="1.8"/>
<path d="M1797.4,105.9 Q1803.7,103.1 1808.5,106.5 T1822.4,103.8" fill="none" stroke="#111" stroke-width="1.8" stroke-linecap="round" stroke-linejoin="round" />
<path d="M1828.7,94.7 Q1829.4,86.4 1839.8,85.0 Q1848.8,82.9 1850.9,74.6 L1859.2,73.6" fill="none" stroke="#111" stroke-width="1.8" stroke-linecap="round" stroke-linejoin="round" />
<path d="M1825.9,110.7 L1824.5,117.0 L1827.6,118.6 L1828.1,122.0 L1834.2,122.8 L1832.8,125.6 Q1821.7,128.1 1817.6,134.3" fill="none" stroke="#111" stroke-width="1.8" stroke-linecap="round" stroke-linejoin="round" />
<path d="M1842.6,121.1 Q1845.3,126.0 1854.4,128.1 L1859.2,133.9" fill="none" stroke="#111" stroke-width="1.8" stroke-linecap="round" stroke-linejoin="round" />
<path d="M1831.5,100.6 Q1842.6,94.0 1851.6,104.5 Q1855.1,112.8 1848.8,116.3" fill="none" stroke="#111" stroke-width="1.8" stroke-linecap="round" stroke-linejoin="round" />
<path d="M1825.6,104.2 Q1829.4,99.6 1834.2,101.7 L1843.3,106.5 Q1845.3,110.7 1841.9,113.9 L1829.4,109.3 Q1824.5,107.9 1825.6,104.2 Z" fill="#fff" stroke="#111" stroke-width="2.2" stroke-linecap="round" stroke-linejoin="round" />
<path d="M1844.0,108.6 L1852.3,113.5" fill="none" stroke="#111" stroke-width="2.2" stroke-linecap="round" stroke-linejoin="round" />
<path d="M1835.6,102.4 Q1839.8,108.6 1838.4,112.1" fill="none" stroke="#111" stroke-width="1.6" stroke-linecap="round" stroke-linejoin="round" />
<circle cx="1814.1" cy="109.5" r="0.7" fill="#111"/>
<circle cx="1814.1" cy="113.9" r="0.7" fill="#111"/>
<circle cx="1811.9" cy="111.7" r="0.7" fill="#111"/>
<circle cx="1816.3" cy="111.7" r="0.7" fill="#111"/>
<circle cx="1805.1" cy="122.8" r="0.7" fill="#111"/>
<circle cx="1805.1" cy="127.2" r="0.7" fill="#111"/>
<circle cx="1802.9" cy="125.0" r="0.7" fill="#111"/>
<circle cx="1807.3" cy="125.0" r="0.7" fill="#111"/>
<circle cx="1850.9" cy="87.0" r="0.7" fill="#111"/>
<circle cx="1850.9" cy="91.4" r="0.7" fill="#111"/>
<circle cx="1848.7" cy="89.2" r="0.7" fill="#111"/>
<circle cx="1853.1" cy="89.2" r="0.7" fill="#111"/>
<text x="1894" y="113.8" font-size="24" font-weight="bold" fill="#4a4a4a" textLength="64" lengthAdjust="spacingAndGlyphs">LIVE</text>
<path d="M1965.5,99.9 A8,8 0 0 1 1965.5,111.9" fill="none" stroke="#9a9a9a" stroke-width="2.6" stroke-linecap="round" stroke-linejoin="round" />
<path d="M1969.5,94.9 A14,14 0 0 1 1969.5,116.9" fill="none" stroke="#9a9a9a" stroke-width="2.6" stroke-linecap="round" stroke-linejoin="round" />
<path d="M116.9,948.1 L133.8,948.1 Q135.2,948.5 135.5,950.0 L137.8,971.2 Q137.8,974.0 135.0,974.0 L115.0,974.0 Q112.2,974.0 112.5,971.2 L115.2,950.0 Q115.5,948.2 116.9,948.1 Z" fill="#fff" stroke="#111" stroke-width="1.8" stroke-linecap="round" stroke-linejoin="round" />
<path d="M120.6,951.9 L120.6,959.0" fill="none" stroke="#111" stroke-width="2.4" stroke-linecap="round" stroke-linejoin="round" stroke-linecap="butt"/>
<path d="M125.4,951.9 L125.4,959.0" fill="none" stroke="#111" stroke-width="2.4" stroke-linecap="round" stroke-linejoin="round" stroke-linecap="butt"/>
<path d="M130.1,951.9 L130.1,959.0" fill="none" stroke="#111" stroke-width="2.4" stroke-linecap="round" stroke-linejoin="round" stroke-linecap="butt"/>
<path d="M125.0,948.1 Q125.0,940.0 131.9,939.8 Q138.1,940.6 141.2,948.8 Q145.0,958.8 151.9,959.0 Q157.5,958.1 158.5,952.8" fill="none" stroke="#111" stroke-width="1.8" stroke-linecap="round" stroke-linejoin="round" />
<rect x="198.8" y="943.8" width="12.5" height="24" rx="6.2" fill="#fff" stroke="#111" stroke-width="2"/>
<path d="M194.8,959.4 Q195.0,970.2 205.0,970.2 Q215.2,970.2 215.5,959.4" fill="none" stroke="#111" stroke-width="2" stroke-linecap="round" stroke-linejoin="round" />
<path d="M205.0,970.2 L205.0,974.4" fill="none" stroke="#111" stroke-width="2" stroke-linecap="round" stroke-linejoin="round" />
<ellipse cx="290.5" cy="949.5" rx="6.2" ry="7.5" fill="#fff" stroke="#111" stroke-width="1.1"/>
<path d="M283.8,946.2 Q287.5,938.8 297.5,942.5 L297.0,947.5" fill="none" stroke="#111" stroke-width="1.1" stroke-linecap="round" stroke-linejoin="round" />
<path d="M276.2,974.5 L277.0,966.2 Q282.5,961.2 287.5,958.8 L290.5,972.5 L293.8,958.8 Q300.0,961.2 304.5,966.2 L305.0,974.5" fill="none" stroke="#111" stroke-width="1.1" stroke-linecap="round" stroke-linejoin="round" />
<path d="M287.5,958.8 L290.5,963.0 L293.8,958.8" fill="none" stroke="#111" stroke-width="1" stroke-linecap="round" stroke-linejoin="round" />
<path d="M273.8,935.2 Q273.8,939.5 276.7,939.5 Q273.8,939.5 273.8,943.8 Q273.8,939.5 270.8,939.5 Q273.8,939.5 273.8,935.2 Z" fill="none" stroke="#111" stroke-width="0.9" stroke-linecap="round" stroke-linejoin="round" />
<path d="M308.8,935.2 Q308.8,939.5 311.7,939.5 Q308.8,939.5 308.8,943.8 Q308.8,939.5 305.8,939.5 Q308.8,939.5 308.8,935.2 Z" fill="none" stroke="#111" stroke-width="0.9" stroke-linecap="round" stroke-linejoin="round" />
<path d="M270.5,959.2 Q270.5,963.0 273.1,963.0 Q270.5,963.0 270.5,966.8 Q270.5,963.0 267.9,963.0 Q270.5,963.0 270.5,959.2 Z" fill="none" stroke="#111" stroke-width="0.9" stroke-linecap="round" stroke-linejoin="round" />
<path d="M310.0,959.2 Q310.0,963.0 312.6,963.0 Q310.0,963.0 310.0,966.8 Q310.0,963.0 307.4,963.0 Q310.0,963.0 310.0,959.2 Z" fill="none" stroke="#111" stroke-width="0.9" stroke-linecap="round" stroke-linejoin="round" />
<path d="M1286.2,1427.5 Q1290.0,1421.2 1298.8,1421.2 L1321.8,1430.0 L1319.0,1437.0 L1310.0,1434.0 L1307.0,1440.0 L1300.0,1437.0 L1302.0,1430.5 Q1293.8,1426.2 1286.2,1427.5 Z" fill="#fff" stroke="#111" stroke-width="1.6" stroke-linecap="round" stroke-linejoin="round" />
<path d="M1301.2,1438.0 L1285.5,1471.2 L1292.0,1473.8 L1307.0,1440.5" fill="#fff" stroke="#111" stroke-width="1.6" stroke-linecap="round" stroke-linejoin="round" />
<path d="M1294.2,1453.0 L1300.2,1455.5" fill="none" stroke="#111" stroke-width="1.3" stroke-linecap="round" stroke-linejoin="round" />
<path d="M1291.8,1458.0 L1298.0,1460.5" fill="none" stroke="#111" stroke-width="1.3" stroke-linecap="round" stroke-linejoin="round" />
<path d="M1289.4,1462.9 L1295.8,1465.4" fill="none" stroke="#111" stroke-width="1.3" stroke-linecap="round" stroke-linejoin="round" />
<path d="M1287.1,1467.9 L1293.5,1470.4" fill="none" stroke="#111" stroke-width="1.3" stroke-linecap="round" stroke-linejoin="round" />
<path d="M1270.0,1442.0 L1281.2,1445.5 Q1290.0,1445.0 1298.0,1439.5" fill="none" stroke="#111" stroke-width="1.4" stroke-linecap="round" stroke-linejoin="round" />
<path d="M1265.0,1455.5 L1276.2,1459.5 L1282.5,1468.0 L1287.5,1469.5" fill="none" stroke="#111" stroke-width="1.4" stroke-linecap="round" stroke-linejoin="round" />
<path d="M1356.2,1472.5 Q1351.2,1450.0 1353.8,1438.8 Q1360.0,1418.8 1380.0,1419.5 Q1387.5,1420.5 1391.2,1426.2" fill="none" stroke="#111" stroke-width="2" stroke-linecap="round" stroke-linejoin="round" />
<path d="M1390.0,1445.0 L1390.5,1455.0 Q1387.5,1463.0 1378.8,1463.0 L1367.5,1462.5" fill="none" stroke="#111" stroke-width="2" stroke-linecap="round" stroke-linejoin="round" />
<path d="M1373.8,1463.0 L1373.8,1473.0" fill="none" stroke="#111" stroke-width="2" stroke-linecap="round" stroke-linejoin="round" />
<path d="M1353.8,1433.0 L1368.8,1433.0 M1353.2,1439.5 L1368.8,1439.5" fill="none" stroke="#111" stroke-width="1.8" stroke-linecap="round" stroke-linejoin="round" />
<path d="M1368.8,1430.5 L1378.8,1428.0 L1402.5,1429.5 Q1405.5,1430.0 1405.5,1433.0 L1405.5,1442.5 Q1405.0,1445.0 1402.0,1445.0 L1378.8,1447.0 L1368.8,1442.5 Z" fill="#fff" stroke="#111" stroke-width="2" stroke-linecap="round" stroke-linejoin="round" />
<path d="M1378.8,1428.0 L1378.8,1447.0" fill="none" stroke="#111" stroke-width="1.6" stroke-linecap="round" stroke-linejoin="round" />
<path d="M1440.0,1417.5 L1460.0,1407.0 L1481.2,1416.2 L1481.2,1440.0 L1461.2,1451.2 L1440.0,1441.2 Z" fill="none" stroke="#333" stroke-width="1.1" stroke-linecap="round" stroke-linejoin="round" />
<path d="M1440.0,1417.5 L1461.2,1427.0 L1481.2,1416.2 M1461.2,1427.0 L1461.2,1451.2" fill="none" stroke="#333" stroke-width="1.1" stroke-linecap="round" stroke-linejoin="round" />
<path d="M1443.0,1422.5 l3.5,1.6 l0,4.5 l-3.5,-1.6 Z" fill="none" stroke="#333" stroke-width="0.8" stroke-linecap="round" stroke-linejoin="round" />
<path d="M1464.5,1428.0 l3.5,-1.8 l0,4.5 l-3.5,1.8 Z" fill="none" stroke="#333" stroke-width="0.8" stroke-linecap="round" stroke-linejoin="round" />
<path d="M1443.0,1430.0 l3.5,1.6 l0,4.5 l-3.5,-1.6 Z" fill="none" stroke="#333" stroke-width="0.8" stroke-linecap="round" stroke-linejoin="round" />
<path d="M1464.5,1435.5 l3.5,-1.8 l0,4.5 l-3.5,1.8 Z" fill="none" stroke="#333" stroke-width="0.8" stroke-linecap="round" stroke-linejoin="round" />
<path d="M1449.0,1425.0 l3.5,1.6 l0,4.5 l-3.5,-1.6 Z" fill="none" stroke="#333" stroke-width="0.8" stroke-linecap="round" stroke-linejoin="round" />
<path d="M1470.0,1425.2 l3.5,-1.8 l0,4.5 l-3.5,1.8 Z" fill="none" stroke="#333" stroke-width="0.8" stroke-linecap="round" stroke-linejoin="round" />
<path d="M1449.0,1432.5 l3.5,1.6 l0,4.5 l-3.5,-1.6 Z" fill="none" stroke="#333" stroke-width="0.8" stroke-linecap="round" stroke-linejoin="round" />
<path d="M1470.0,1432.8 l3.5,-1.8 l0,4.5 l-3.5,1.8 Z" fill="none" stroke="#333" stroke-width="0.8" stroke-linecap="round" stroke-linejoin="round" />
<path d="M1455.0,1427.5 l3.5,1.6 l0,4.5 l-3.5,-1.6 Z" fill="none" stroke="#333" stroke-width="0.8" stroke-linecap="round" stroke-linejoin="round" />
<path d="M1475.5,1422.5 l3.5,-1.8 l0,4.5 l-3.5,1.8 Z" fill="none" stroke="#333" stroke-width="0.8" stroke-linecap="round" stroke-linejoin="round" />
<path d="M1455.0,1435.0 l3.5,1.6 l0,4.5 l-3.5,-1.6 Z" fill="none" stroke="#333" stroke-width="0.8" stroke-linecap="round" stroke-linejoin="round" />
<path d="M1475.5,1430.0 l3.5,-1.8 l0,4.5 l-3.5,1.8 Z" fill="none" stroke="#333" stroke-width="0.8" stroke-linecap="round" stroke-linejoin="round" />
<circle cx="1446.9" cy="1456.5" r="1.4" fill="none" stroke="#222" stroke-width="0.8"/>
<circle cx="1453.5" cy="1458.6" r="1.4" fill="none" stroke="#222" stroke-width="0.8"/>
<circle cx="1466.3" cy="1439.8" r="1.4" fill="none" stroke="#222" stroke-width="0.8"/>
<circle cx="1435.7" cy="1466.8" r="1.4" fill="none" stroke="#222" stroke-width="0.8"/>
<circle cx="1448.0" cy="1445.7" r="1.4" fill="none" stroke="#222" stroke-width="0.8"/>
<circle cx="1484.8" cy="1454.0" r="1.4" fill="none" stroke="#222" stroke-width="0.8"/>
<circle cx="1476.8" cy="1454.2" r="1.4" fill="none" stroke="#222" stroke-width="0.8"/>
<circle cx="1467.0" cy="1442.8" r="1.4" fill="none" stroke="#222" stroke-width="0.8"/>
<circle cx="1466.7" cy="1467.9" r="1.4" fill="none" stroke="#222" stroke-width="0.8"/>
<circle cx="1461.2" cy="1463.4" r="1.4" fill="none" stroke="#222" stroke-width="0.8"/>
<circle cx="1468.6" cy="1439.7" r="1.4" fill="none" stroke="#222" stroke-width="0.8"/>
<circle cx="1472.9" cy="1458.2" r="1.4" fill="none" stroke="#222" stroke-width="0.8"/>
<circle cx="1450.1" cy="1438.6" r="1.4" fill="none" stroke="#222" stroke-width="0.8"/>
<circle cx="1478.3" cy="1454.0" r="1.4" fill="none" stroke="#222" stroke-width="0.8"/>
<circle cx="1470.9" cy="1468.3" r="1.4" fill="none" stroke="#222" stroke-width="0.8"/>
<circle cx="1470.7" cy="1469.7" r="1.4" fill="none" stroke="#222" stroke-width="0.8"/>
<circle cx="1454.7" cy="1465.5" r="1.4" fill="none" stroke="#222" stroke-width="0.8"/>
<circle cx="1457.2" cy="1470.2" r="1.4" fill="none" stroke="#222" stroke-width="0.8"/>
<circle cx="1478.9" cy="1440.9" r="1.4" fill="none" stroke="#222" stroke-width="0.8"/>
<circle cx="1441.8" cy="1445.1" r="1.4" fill="none" stroke="#222" stroke-width="0.8"/>
<circle cx="1483.3" cy="1452.8" r="1.4" fill="none" stroke="#222" stroke-width="0.8"/>
<circle cx="1466.3" cy="1448.0" r="1.4" fill="none" stroke="#222" stroke-width="0.8"/>
<circle cx="1460.4" cy="1451.0" r="1.4" fill="none" stroke="#222" stroke-width="0.8"/>
<circle cx="1452.5" cy="1458.0" r="1.4" fill="none" stroke="#222" stroke-width="0.8"/>
<circle cx="1464.2" cy="1469.1" r="1.4" fill="none" stroke="#222" stroke-width="0.8"/>
<circle cx="1469.1" cy="1470.0" r="1.4" fill="none" stroke="#222" stroke-width="0.8"/>
<path d="M1435.0,1470.0 L1450.0,1464.5 L1483.8,1477.5 L1468.8,1483.0 Z" fill="none" stroke="#333" stroke-width="1.1" stroke-linecap="round" stroke-linejoin="round" />
<path d="M1435.0,1470.0 L1435.0,1472.0 L1468.8,1485.0 L1483.8,1479.5 L1483.8,1477.5" fill="none" stroke="#333" stroke-width="1.1" stroke-linecap="round" stroke-linejoin="round" />
</svg>
</body></html>
